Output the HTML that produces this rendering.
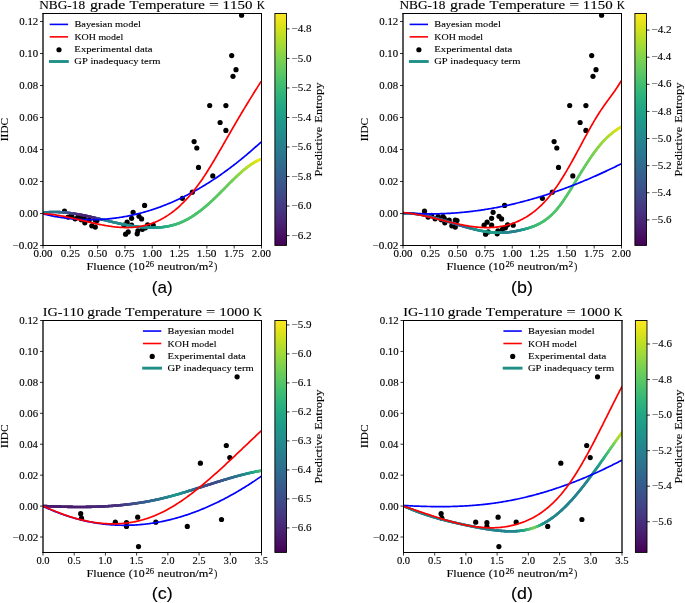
<!DOCTYPE html>
<html><head><meta charset="utf-8"><title>Figure</title>
<style>html,body{margin:0;padding:0;background:#fff;} svg{display:block;will-change:transform;} text{font-kerning:none;stroke:#000;stroke-width:0.12px;}</style>
</head><body>
<svg width="685" height="603" viewBox="0 0 685 603">
<rect width="685" height="603" fill="#fff"/>
<defs>
<clipPath id="clipa"><rect x="43.0" y="13.5" width="218.50" height="232.00"/></clipPath>
<clipPath id="clipb"><rect x="403.0" y="13.5" width="218.50" height="232.00"/></clipPath>
<clipPath id="clipc"><rect x="43.0" y="320.5" width="218.50" height="232.00"/></clipPath>
<clipPath id="clipd"><rect x="403.5" y="320.5" width="218.50" height="232.00"/></clipPath>
<linearGradient id="vir" x1="0" y1="0" x2="0" y2="1"><stop offset="0.00" stop-color="#fde725"/><stop offset="0.05" stop-color="#dfe318"/><stop offset="0.10" stop-color="#bddf26"/><stop offset="0.15" stop-color="#9bd93c"/><stop offset="0.20" stop-color="#7ad151"/><stop offset="0.25" stop-color="#5ec962"/><stop offset="0.30" stop-color="#44bf70"/><stop offset="0.35" stop-color="#2fb47c"/><stop offset="0.40" stop-color="#22a884"/><stop offset="0.45" stop-color="#1e9c89"/><stop offset="0.50" stop-color="#21918c"/><stop offset="0.55" stop-color="#25848e"/><stop offset="0.60" stop-color="#2a788e"/><stop offset="0.65" stop-color="#2f6c8e"/><stop offset="0.70" stop-color="#355f8d"/><stop offset="0.75" stop-color="#3b528b"/><stop offset="0.80" stop-color="#414487"/><stop offset="0.85" stop-color="#463480"/><stop offset="0.90" stop-color="#482475"/><stop offset="0.95" stop-color="#471365"/><stop offset="1.00" stop-color="#440154"/></linearGradient>
</defs>
<g clip-path="url(#clipa)" fill="#000">
<circle cx="64.5" cy="211.2" r="2.6"/>
<circle cx="68.1" cy="217.1" r="2.6"/>
<circle cx="71.6" cy="215.3" r="2.6"/>
<circle cx="75.1" cy="218.8" r="2.6"/>
<circle cx="78.2" cy="216.6" r="2.6"/>
<circle cx="81.3" cy="219.7" r="2.6"/>
<circle cx="83.0" cy="216.6" r="2.6"/>
<circle cx="84.3" cy="218.4" r="2.6"/>
<circle cx="84.8" cy="222.8" r="2.6"/>
<circle cx="89.2" cy="220.1" r="2.6"/>
<circle cx="91.8" cy="225.8" r="2.6"/>
<circle cx="95.3" cy="227.1" r="2.6"/>
<circle cx="95.3" cy="220.1" r="2.6"/>
<circle cx="97.0" cy="220.6" r="2.6"/>
<circle cx="144.6" cy="205.4" r="2.6"/>
<circle cx="133.1" cy="212.3" r="2.6"/>
<circle cx="131.6" cy="218.3" r="2.6"/>
<circle cx="139.0" cy="216.3" r="2.6"/>
<circle cx="141.6" cy="218.9" r="2.6"/>
<circle cx="127.1" cy="222.2" r="2.6"/>
<circle cx="124.1" cy="225.2" r="2.6"/>
<circle cx="131.6" cy="225.2" r="2.6"/>
<circle cx="125.6" cy="234.2" r="2.6"/>
<circle cx="128.2" cy="231.9" r="2.6"/>
<circle cx="137.2" cy="233.8" r="2.6"/>
<circle cx="137.9" cy="230.8" r="2.6"/>
<circle cx="142.4" cy="229.3" r="2.6"/>
<circle cx="145.4" cy="227.8" r="2.6"/>
<circle cx="147.6" cy="224.9" r="2.6"/>
<circle cx="153.2" cy="225.2" r="2.6"/>
<circle cx="182.4" cy="198.3" r="2.6"/>
<circle cx="192.3" cy="192.2" r="2.6"/>
<circle cx="212.8" cy="175.9" r="2.6"/>
<circle cx="198.5" cy="167.4" r="2.6"/>
<circle cx="196.8" cy="148.0" r="2.6"/>
<circle cx="194.1" cy="141.6" r="2.6"/>
<circle cx="225.9" cy="130.4" r="2.6"/>
<circle cx="220.1" cy="122.5" r="2.6"/>
<circle cx="209.7" cy="105.5" r="2.6"/>
<circle cx="225.9" cy="105.6" r="2.6"/>
<circle cx="233.0" cy="76.3" r="2.6"/>
<circle cx="236.0" cy="69.7" r="2.6"/>
<circle cx="231.7" cy="55.6" r="2.6"/>
<circle cx="241.6" cy="15.2" r="2.6"/>
</g>
<g clip-path="url(#clipa)" fill="none" stroke-width="2.6" stroke-linecap="butt">
<line x1="43.20" y1="212.69" x2="43.93" y2="212.60" stroke="#2a788e" stroke-linecap="round"/>
<line x1="43.93" y1="212.60" x2="44.66" y2="212.52" stroke="#2a788e" stroke-linecap="round"/>
<line x1="44.66" y1="212.52" x2="45.39" y2="212.44" stroke="#2a788e" stroke-linecap="round"/>
<line x1="45.39" y1="212.44" x2="46.12" y2="212.37" stroke="#2a788e" stroke-linecap="round"/>
<line x1="46.12" y1="212.37" x2="46.85" y2="212.31" stroke="#2a788e" stroke-linecap="round"/>
<line x1="46.85" y1="212.31" x2="47.58" y2="212.26" stroke="#2a788e" stroke-linecap="round"/>
<line x1="47.58" y1="212.26" x2="48.31" y2="212.20" stroke="#2a778e" stroke-linecap="round"/>
<line x1="48.31" y1="212.20" x2="49.04" y2="212.16" stroke="#2a778e" stroke-linecap="round"/>
<line x1="49.04" y1="212.16" x2="49.76" y2="212.12" stroke="#2a778e" stroke-linecap="round"/>
<line x1="49.76" y1="212.12" x2="50.49" y2="212.09" stroke="#2a778e" stroke-linecap="round"/>
<line x1="50.49" y1="212.09" x2="51.22" y2="212.06" stroke="#2a778e" stroke-linecap="round"/>
<line x1="51.22" y1="212.06" x2="51.95" y2="212.04" stroke="#2a778e" stroke-linecap="round"/>
<line x1="51.95" y1="212.04" x2="52.68" y2="212.02" stroke="#2a768e" stroke-linecap="round"/>
<line x1="52.68" y1="212.02" x2="53.41" y2="212.01" stroke="#2a768e" stroke-linecap="round"/>
<line x1="53.41" y1="212.01" x2="54.14" y2="212.00" stroke="#2a768e" stroke-linecap="round"/>
<line x1="54.14" y1="212.00" x2="54.87" y2="212.00" stroke="#2b758e" stroke-linecap="round"/>
<line x1="54.87" y1="212.00" x2="55.60" y2="212.01" stroke="#2b758e" stroke-linecap="round"/>
<line x1="55.60" y1="212.01" x2="56.33" y2="212.02" stroke="#2b758e" stroke-linecap="round"/>
<line x1="56.33" y1="212.02" x2="57.06" y2="212.03" stroke="#2b748e" stroke-linecap="round"/>
<line x1="57.06" y1="212.03" x2="57.79" y2="212.05" stroke="#2b748e" stroke-linecap="round"/>
<line x1="57.79" y1="212.05" x2="58.52" y2="212.08" stroke="#2b748e" stroke-linecap="round"/>
<line x1="58.52" y1="212.08" x2="59.25" y2="212.11" stroke="#2c738e" stroke-linecap="round"/>
<line x1="59.25" y1="212.11" x2="59.98" y2="212.14" stroke="#2c738e" stroke-linecap="round"/>
<line x1="59.98" y1="212.14" x2="60.71" y2="212.18" stroke="#2c718e" stroke-linecap="round"/>
<line x1="60.71" y1="212.18" x2="61.44" y2="212.22" stroke="#2d708e" stroke-linecap="round"/>
<line x1="61.44" y1="212.22" x2="62.17" y2="212.27" stroke="#2e6d8e" stroke-linecap="round"/>
<line x1="62.17" y1="212.27" x2="62.89" y2="212.32" stroke="#306a8e" stroke-linecap="round"/>
<line x1="62.89" y1="212.32" x2="63.62" y2="212.38" stroke="#31668e" stroke-linecap="round"/>
<line x1="63.62" y1="212.38" x2="64.35" y2="212.44" stroke="#33638d" stroke-linecap="round"/>
<line x1="64.35" y1="212.44" x2="65.08" y2="212.51" stroke="#34608d" stroke-linecap="round"/>
<line x1="65.08" y1="212.51" x2="65.81" y2="212.58" stroke="#365d8d" stroke-linecap="round"/>
<line x1="65.81" y1="212.58" x2="66.54" y2="212.65" stroke="#375b8d" stroke-linecap="round"/>
<line x1="66.54" y1="212.65" x2="67.27" y2="212.73" stroke="#38588c" stroke-linecap="round"/>
<line x1="67.27" y1="212.73" x2="68.00" y2="212.81" stroke="#39558c" stroke-linecap="round"/>
<line x1="68.00" y1="212.81" x2="68.73" y2="212.89" stroke="#3b528b" stroke-linecap="round"/>
<line x1="68.73" y1="212.89" x2="69.46" y2="212.98" stroke="#3c508b" stroke-linecap="round"/>
<line x1="69.46" y1="212.98" x2="70.19" y2="213.07" stroke="#3d4d8a" stroke-linecap="round"/>
<line x1="70.19" y1="213.07" x2="70.92" y2="213.17" stroke="#3e4a89" stroke-linecap="round"/>
<line x1="70.92" y1="213.17" x2="71.65" y2="213.27" stroke="#3f4788" stroke-linecap="round"/>
<line x1="71.65" y1="213.27" x2="72.38" y2="213.37" stroke="#404588" stroke-linecap="round"/>
<line x1="72.38" y1="213.37" x2="73.11" y2="213.48" stroke="#414287" stroke-linecap="round"/>
<line x1="73.11" y1="213.48" x2="73.84" y2="213.59" stroke="#424086" stroke-linecap="round"/>
<line x1="73.84" y1="213.59" x2="74.57" y2="213.70" stroke="#433d84" stroke-linecap="round"/>
<line x1="74.57" y1="213.70" x2="75.29" y2="213.82" stroke="#443a83" stroke-linecap="round"/>
<line x1="75.29" y1="213.82" x2="76.02" y2="213.93" stroke="#453882" stroke-linecap="round"/>
<line x1="76.02" y1="213.93" x2="76.75" y2="214.06" stroke="#453581" stroke-linecap="round"/>
<line x1="76.75" y1="214.06" x2="77.48" y2="214.18" stroke="#46337f" stroke-linecap="round"/>
<line x1="77.48" y1="214.18" x2="78.21" y2="214.31" stroke="#46307e" stroke-linecap="round"/>
<line x1="78.21" y1="214.31" x2="78.94" y2="214.44" stroke="#472f7d" stroke-linecap="round"/>
<line x1="78.94" y1="214.44" x2="79.67" y2="214.57" stroke="#472d7b" stroke-linecap="round"/>
<line x1="79.67" y1="214.57" x2="80.40" y2="214.70" stroke="#472c7a" stroke-linecap="round"/>
<line x1="80.40" y1="214.70" x2="81.13" y2="214.84" stroke="#472a7a" stroke-linecap="round"/>
<line x1="81.13" y1="214.84" x2="81.86" y2="214.98" stroke="#482878" stroke-linecap="round"/>
<line x1="81.86" y1="214.98" x2="82.59" y2="215.12" stroke="#482677" stroke-linecap="round"/>
<line x1="82.59" y1="215.12" x2="83.32" y2="215.27" stroke="#482576" stroke-linecap="round"/>
<line x1="83.32" y1="215.27" x2="84.05" y2="215.41" stroke="#482475" stroke-linecap="round"/>
<line x1="84.05" y1="215.41" x2="84.78" y2="215.56" stroke="#482374" stroke-linecap="round"/>
<line x1="84.78" y1="215.56" x2="85.51" y2="215.71" stroke="#482173" stroke-linecap="round"/>
<line x1="85.51" y1="215.71" x2="86.24" y2="215.87" stroke="#482173" stroke-linecap="round"/>
<line x1="86.24" y1="215.87" x2="86.97" y2="216.02" stroke="#482173" stroke-linecap="round"/>
<line x1="86.97" y1="216.02" x2="87.70" y2="216.18" stroke="#482173" stroke-linecap="round"/>
<line x1="87.70" y1="216.18" x2="88.42" y2="216.34" stroke="#482173" stroke-linecap="round"/>
<line x1="88.42" y1="216.34" x2="89.15" y2="216.50" stroke="#482173" stroke-linecap="round"/>
<line x1="89.15" y1="216.50" x2="89.88" y2="216.66" stroke="#482173" stroke-linecap="round"/>
<line x1="89.88" y1="216.66" x2="90.61" y2="216.82" stroke="#482374" stroke-linecap="round"/>
<line x1="90.61" y1="216.82" x2="91.34" y2="216.98" stroke="#482374" stroke-linecap="round"/>
<line x1="91.34" y1="216.98" x2="92.07" y2="217.15" stroke="#482475" stroke-linecap="round"/>
<line x1="92.07" y1="217.15" x2="92.80" y2="217.31" stroke="#482475" stroke-linecap="round"/>
<line x1="92.80" y1="217.31" x2="93.53" y2="217.48" stroke="#482576" stroke-linecap="round"/>
<line x1="93.53" y1="217.48" x2="94.26" y2="217.65" stroke="#482677" stroke-linecap="round"/>
<line x1="94.26" y1="217.65" x2="94.99" y2="217.82" stroke="#482878" stroke-linecap="round"/>
<line x1="94.99" y1="217.82" x2="95.72" y2="217.99" stroke="#472c7a" stroke-linecap="round"/>
<line x1="95.72" y1="217.99" x2="96.45" y2="218.16" stroke="#46307e" stroke-linecap="round"/>
<line x1="96.45" y1="218.16" x2="97.18" y2="218.33" stroke="#453781" stroke-linecap="round"/>
<line x1="97.18" y1="218.33" x2="97.91" y2="218.51" stroke="#433d84" stroke-linecap="round"/>
<line x1="97.91" y1="218.51" x2="98.64" y2="218.68" stroke="#414487" stroke-linecap="round"/>
<line x1="98.64" y1="218.68" x2="99.37" y2="218.85" stroke="#3e4a89" stroke-linecap="round"/>
<line x1="99.37" y1="218.85" x2="100.10" y2="219.03" stroke="#3b518b" stroke-linecap="round"/>
<line x1="100.10" y1="219.03" x2="100.83" y2="219.20" stroke="#38588c" stroke-linecap="round"/>
<line x1="100.83" y1="219.20" x2="101.55" y2="219.38" stroke="#355e8d" stroke-linecap="round"/>
<line x1="101.55" y1="219.38" x2="102.28" y2="219.55" stroke="#31668e" stroke-linecap="round"/>
<line x1="102.28" y1="219.55" x2="103.01" y2="219.73" stroke="#2e6d8e" stroke-linecap="round"/>
<line x1="103.01" y1="219.73" x2="103.74" y2="219.90" stroke="#2c728e" stroke-linecap="round"/>
<line x1="103.74" y1="219.90" x2="104.47" y2="220.08" stroke="#2a788e" stroke-linecap="round"/>
<line x1="104.47" y1="220.08" x2="105.20" y2="220.26" stroke="#287c8e" stroke-linecap="round"/>
<line x1="105.20" y1="220.26" x2="105.93" y2="220.43" stroke="#277e8e" stroke-linecap="round"/>
<line x1="105.93" y1="220.43" x2="106.66" y2="220.61" stroke="#277f8e" stroke-linecap="round"/>
<line x1="106.66" y1="220.61" x2="107.39" y2="220.78" stroke="#27808e" stroke-linecap="round"/>
<line x1="107.39" y1="220.78" x2="108.12" y2="220.95" stroke="#26828e" stroke-linecap="round"/>
<line x1="108.12" y1="220.95" x2="108.85" y2="221.13" stroke="#26828e" stroke-linecap="round"/>
<line x1="108.85" y1="221.13" x2="109.58" y2="221.30" stroke="#25838e" stroke-linecap="round"/>
<line x1="109.58" y1="221.30" x2="110.31" y2="221.47" stroke="#25848e" stroke-linecap="round"/>
<line x1="110.31" y1="221.47" x2="111.04" y2="221.64" stroke="#25858e" stroke-linecap="round"/>
<line x1="111.04" y1="221.64" x2="111.77" y2="221.82" stroke="#24868e" stroke-linecap="round"/>
<line x1="111.77" y1="221.82" x2="112.50" y2="221.99" stroke="#24878e" stroke-linecap="round"/>
<line x1="112.50" y1="221.99" x2="113.23" y2="222.15" stroke="#24878e" stroke-linecap="round"/>
<line x1="113.23" y1="222.15" x2="113.95" y2="222.32" stroke="#23888e" stroke-linecap="round"/>
<line x1="113.95" y1="222.32" x2="114.68" y2="222.49" stroke="#23888e" stroke-linecap="round"/>
<line x1="114.68" y1="222.49" x2="115.41" y2="222.65" stroke="#23898e" stroke-linecap="round"/>
<line x1="115.41" y1="222.65" x2="116.14" y2="222.82" stroke="#23898e" stroke-linecap="round"/>
<line x1="116.14" y1="222.82" x2="116.87" y2="222.98" stroke="#238a8d" stroke-linecap="round"/>
<line x1="116.87" y1="222.98" x2="117.60" y2="223.14" stroke="#238a8d" stroke-linecap="round"/>
<line x1="117.60" y1="223.14" x2="118.33" y2="223.30" stroke="#228b8d" stroke-linecap="round"/>
<line x1="118.33" y1="223.30" x2="119.06" y2="223.46" stroke="#228b8d" stroke-linecap="round"/>
<line x1="119.06" y1="223.46" x2="119.79" y2="223.62" stroke="#228b8d" stroke-linecap="round"/>
<line x1="119.79" y1="223.62" x2="120.52" y2="223.77" stroke="#228c8d" stroke-linecap="round"/>
<line x1="120.52" y1="223.77" x2="121.25" y2="223.93" stroke="#228c8d" stroke-linecap="round"/>
<line x1="121.25" y1="223.93" x2="121.98" y2="224.08" stroke="#228c8d" stroke-linecap="round"/>
<line x1="121.98" y1="224.08" x2="122.71" y2="224.23" stroke="#228c8d" stroke-linecap="round"/>
<line x1="122.71" y1="224.23" x2="123.44" y2="224.38" stroke="#228d8d" stroke-linecap="round"/>
<line x1="123.44" y1="224.38" x2="124.17" y2="224.52" stroke="#228d8d" stroke-linecap="round"/>
<line x1="124.17" y1="224.52" x2="124.90" y2="224.66" stroke="#228d8d" stroke-linecap="round"/>
<line x1="124.90" y1="224.66" x2="125.63" y2="224.81" stroke="#228d8d" stroke-linecap="round"/>
<line x1="125.63" y1="224.81" x2="126.36" y2="224.94" stroke="#228d8d" stroke-linecap="round"/>
<line x1="126.36" y1="224.94" x2="127.08" y2="225.08" stroke="#218e8d" stroke-linecap="round"/>
<line x1="127.08" y1="225.08" x2="127.81" y2="225.21" stroke="#218e8d" stroke-linecap="round"/>
<line x1="127.81" y1="225.21" x2="128.54" y2="225.34" stroke="#218e8d" stroke-linecap="round"/>
<line x1="128.54" y1="225.34" x2="129.27" y2="225.47" stroke="#218e8d" stroke-linecap="round"/>
<line x1="129.27" y1="225.47" x2="130.00" y2="225.60" stroke="#218e8d" stroke-linecap="round"/>
<line x1="130.00" y1="225.60" x2="130.73" y2="225.72" stroke="#218e8d" stroke-linecap="round"/>
<line x1="130.73" y1="225.72" x2="131.46" y2="225.84" stroke="#218e8d" stroke-linecap="round"/>
<line x1="131.46" y1="225.84" x2="132.19" y2="225.96" stroke="#218e8d" stroke-linecap="round"/>
<line x1="132.19" y1="225.96" x2="132.92" y2="226.07" stroke="#218f8d" stroke-linecap="round"/>
<line x1="132.92" y1="226.07" x2="133.65" y2="226.18" stroke="#218f8d" stroke-linecap="round"/>
<line x1="133.65" y1="226.18" x2="134.38" y2="226.29" stroke="#218f8d" stroke-linecap="round"/>
<line x1="134.38" y1="226.29" x2="135.11" y2="226.39" stroke="#218f8d" stroke-linecap="round"/>
<line x1="135.11" y1="226.39" x2="135.84" y2="226.49" stroke="#218f8d" stroke-linecap="round"/>
<line x1="135.84" y1="226.49" x2="136.57" y2="226.59" stroke="#218f8d" stroke-linecap="round"/>
<line x1="136.57" y1="226.59" x2="137.30" y2="226.68" stroke="#218f8d" stroke-linecap="round"/>
<line x1="137.30" y1="226.68" x2="138.03" y2="226.77" stroke="#218f8d" stroke-linecap="round"/>
<line x1="138.03" y1="226.77" x2="138.76" y2="226.86" stroke="#218f8d" stroke-linecap="round"/>
<line x1="138.76" y1="226.86" x2="139.48" y2="226.94" stroke="#218f8d" stroke-linecap="round"/>
<line x1="139.48" y1="226.94" x2="140.21" y2="227.02" stroke="#218f8d" stroke-linecap="round"/>
<line x1="140.21" y1="227.02" x2="140.94" y2="227.09" stroke="#21908d" stroke-linecap="round"/>
<line x1="140.94" y1="227.09" x2="141.67" y2="227.17" stroke="#21908d" stroke-linecap="round"/>
<line x1="141.67" y1="227.17" x2="142.40" y2="227.23" stroke="#21908d" stroke-linecap="round"/>
<line x1="142.40" y1="227.23" x2="143.13" y2="227.29" stroke="#21908d" stroke-linecap="round"/>
<line x1="143.13" y1="227.29" x2="143.86" y2="227.35" stroke="#21908d" stroke-linecap="round"/>
<line x1="143.86" y1="227.35" x2="144.59" y2="227.41" stroke="#21908d" stroke-linecap="round"/>
<line x1="144.59" y1="227.41" x2="145.32" y2="227.46" stroke="#21908d" stroke-linecap="round"/>
<line x1="145.32" y1="227.46" x2="146.05" y2="227.50" stroke="#21918c" stroke-linecap="round"/>
<line x1="146.05" y1="227.50" x2="146.78" y2="227.54" stroke="#21918c" stroke-linecap="round"/>
<line x1="146.78" y1="227.54" x2="147.51" y2="227.58" stroke="#21918c" stroke-linecap="round"/>
<line x1="147.51" y1="227.58" x2="148.24" y2="227.61" stroke="#21918c" stroke-linecap="round"/>
<line x1="148.24" y1="227.61" x2="148.97" y2="227.64" stroke="#20928c" stroke-linecap="round"/>
<line x1="148.97" y1="227.64" x2="149.70" y2="227.66" stroke="#20928c" stroke-linecap="round"/>
<line x1="149.70" y1="227.66" x2="150.43" y2="227.67" stroke="#20928c" stroke-linecap="round"/>
<line x1="150.43" y1="227.67" x2="151.16" y2="227.69" stroke="#20928c" stroke-linecap="round"/>
<line x1="151.16" y1="227.69" x2="151.89" y2="227.69" stroke="#20928c" stroke-linecap="round"/>
<line x1="151.89" y1="227.69" x2="152.61" y2="227.69" stroke="#20928c" stroke-linecap="round"/>
<line x1="152.61" y1="227.69" x2="153.34" y2="227.69" stroke="#20938c" stroke-linecap="round"/>
<line x1="153.34" y1="227.69" x2="154.07" y2="227.68" stroke="#20938c" stroke-linecap="round"/>
<line x1="154.07" y1="227.68" x2="154.80" y2="227.66" stroke="#1f958b" stroke-linecap="round"/>
<line x1="154.80" y1="227.66" x2="155.53" y2="227.64" stroke="#1f968b" stroke-linecap="round"/>
<line x1="155.53" y1="227.64" x2="156.26" y2="227.62" stroke="#1f978b" stroke-linecap="round"/>
<line x1="156.26" y1="227.62" x2="156.99" y2="227.58" stroke="#1f998a" stroke-linecap="round"/>
<line x1="156.99" y1="227.58" x2="157.72" y2="227.55" stroke="#1e9b8a" stroke-linecap="round"/>
<line x1="157.72" y1="227.55" x2="158.45" y2="227.50" stroke="#1e9d89" stroke-linecap="round"/>
<line x1="158.45" y1="227.50" x2="159.18" y2="227.45" stroke="#1f9f88" stroke-linecap="round"/>
<line x1="159.18" y1="227.45" x2="159.91" y2="227.39" stroke="#1fa188" stroke-linecap="round"/>
<line x1="159.91" y1="227.39" x2="160.64" y2="227.33" stroke="#1fa287" stroke-linecap="round"/>
<line x1="160.64" y1="227.33" x2="161.37" y2="227.26" stroke="#20a486" stroke-linecap="round"/>
<line x1="161.37" y1="227.26" x2="162.10" y2="227.18" stroke="#21a585" stroke-linecap="round"/>
<line x1="162.10" y1="227.18" x2="162.83" y2="227.10" stroke="#22a785" stroke-linecap="round"/>
<line x1="162.83" y1="227.10" x2="163.56" y2="227.00" stroke="#22a884" stroke-linecap="round"/>
<line x1="163.56" y1="227.00" x2="164.29" y2="226.91" stroke="#23a983" stroke-linecap="round"/>
<line x1="164.29" y1="226.91" x2="165.02" y2="226.80" stroke="#25ab82" stroke-linecap="round"/>
<line x1="165.02" y1="226.80" x2="165.74" y2="226.69" stroke="#25ac82" stroke-linecap="round"/>
<line x1="165.74" y1="226.69" x2="166.47" y2="226.56" stroke="#26ad81" stroke-linecap="round"/>
<line x1="166.47" y1="226.56" x2="167.20" y2="226.44" stroke="#27ad81" stroke-linecap="round"/>
<line x1="167.20" y1="226.44" x2="167.93" y2="226.30" stroke="#29af7f" stroke-linecap="round"/>
<line x1="167.93" y1="226.30" x2="168.66" y2="226.15" stroke="#2ab07f" stroke-linecap="round"/>
<line x1="168.66" y1="226.15" x2="169.39" y2="226.00" stroke="#2cb17e" stroke-linecap="round"/>
<line x1="169.39" y1="226.00" x2="170.12" y2="225.84" stroke="#2db27d" stroke-linecap="round"/>
<line x1="170.12" y1="225.84" x2="170.85" y2="225.67" stroke="#2eb37c" stroke-linecap="round"/>
<line x1="170.85" y1="225.67" x2="171.58" y2="225.49" stroke="#31b57b" stroke-linecap="round"/>
<line x1="171.58" y1="225.49" x2="172.31" y2="225.31" stroke="#32b67a" stroke-linecap="round"/>
<line x1="172.31" y1="225.31" x2="173.04" y2="225.11" stroke="#34b679" stroke-linecap="round"/>
<line x1="173.04" y1="225.11" x2="173.77" y2="224.91" stroke="#35b779" stroke-linecap="round"/>
<line x1="173.77" y1="224.91" x2="174.50" y2="224.69" stroke="#37b878" stroke-linecap="round"/>
<line x1="174.50" y1="224.69" x2="175.23" y2="224.47" stroke="#38b977" stroke-linecap="round"/>
<line x1="175.23" y1="224.47" x2="175.96" y2="224.24" stroke="#3aba76" stroke-linecap="round"/>
<line x1="175.96" y1="224.24" x2="176.69" y2="224.00" stroke="#3aba76" stroke-linecap="round"/>
<line x1="176.69" y1="224.00" x2="177.42" y2="223.75" stroke="#3bbb75" stroke-linecap="round"/>
<line x1="177.42" y1="223.75" x2="178.14" y2="223.49" stroke="#3dbc74" stroke-linecap="round"/>
<line x1="178.14" y1="223.49" x2="178.87" y2="223.22" stroke="#3dbc74" stroke-linecap="round"/>
<line x1="178.87" y1="223.22" x2="179.60" y2="222.94" stroke="#3fbc73" stroke-linecap="round"/>
<line x1="179.60" y1="222.94" x2="180.33" y2="222.65" stroke="#3fbc73" stroke-linecap="round"/>
<line x1="180.33" y1="222.65" x2="181.06" y2="222.35" stroke="#40bd72" stroke-linecap="round"/>
<line x1="181.06" y1="222.35" x2="181.79" y2="222.04" stroke="#40bd72" stroke-linecap="round"/>
<line x1="181.79" y1="222.04" x2="182.52" y2="221.72" stroke="#42be71" stroke-linecap="round"/>
<line x1="182.52" y1="221.72" x2="183.25" y2="221.39" stroke="#42be71" stroke-linecap="round"/>
<line x1="183.25" y1="221.39" x2="183.98" y2="221.05" stroke="#42be71" stroke-linecap="round"/>
<line x1="183.98" y1="221.05" x2="184.71" y2="220.70" stroke="#44bf70" stroke-linecap="round"/>
<line x1="184.71" y1="220.70" x2="185.44" y2="220.34" stroke="#44bf70" stroke-linecap="round"/>
<line x1="185.44" y1="220.34" x2="186.17" y2="219.96" stroke="#44bf70" stroke-linecap="round"/>
<line x1="186.17" y1="219.96" x2="186.90" y2="219.58" stroke="#46c06f" stroke-linecap="round"/>
<line x1="186.90" y1="219.58" x2="187.63" y2="219.18" stroke="#46c06f" stroke-linecap="round"/>
<line x1="187.63" y1="219.18" x2="188.36" y2="218.78" stroke="#46c06f" stroke-linecap="round"/>
<line x1="188.36" y1="218.78" x2="189.09" y2="218.36" stroke="#46c06f" stroke-linecap="round"/>
<line x1="189.09" y1="218.36" x2="189.82" y2="217.94" stroke="#48c16e" stroke-linecap="round"/>
<line x1="189.82" y1="217.94" x2="190.55" y2="217.50" stroke="#48c16e" stroke-linecap="round"/>
<line x1="190.55" y1="217.50" x2="191.27" y2="217.05" stroke="#48c16e" stroke-linecap="round"/>
<line x1="191.27" y1="217.05" x2="192.00" y2="216.60" stroke="#48c16e" stroke-linecap="round"/>
<line x1="192.00" y1="216.60" x2="192.73" y2="216.13" stroke="#4ac16d" stroke-linecap="round"/>
<line x1="192.73" y1="216.13" x2="193.46" y2="215.66" stroke="#4ac16d" stroke-linecap="round"/>
<line x1="193.46" y1="215.66" x2="194.19" y2="215.17" stroke="#4ac16d" stroke-linecap="round"/>
<line x1="194.19" y1="215.17" x2="194.92" y2="214.68" stroke="#4ac16d" stroke-linecap="round"/>
<line x1="194.92" y1="214.68" x2="195.65" y2="214.18" stroke="#4cc26c" stroke-linecap="round"/>
<line x1="195.65" y1="214.18" x2="196.38" y2="213.66" stroke="#4cc26c" stroke-linecap="round"/>
<line x1="196.38" y1="213.66" x2="197.11" y2="213.14" stroke="#4cc26c" stroke-linecap="round"/>
<line x1="197.11" y1="213.14" x2="197.84" y2="212.61" stroke="#4cc26c" stroke-linecap="round"/>
<line x1="197.84" y1="212.61" x2="198.57" y2="212.07" stroke="#4cc26c" stroke-linecap="round"/>
<line x1="198.57" y1="212.07" x2="199.30" y2="211.53" stroke="#4ec36b" stroke-linecap="round"/>
<line x1="199.30" y1="211.53" x2="200.03" y2="210.97" stroke="#4ec36b" stroke-linecap="round"/>
<line x1="200.03" y1="210.97" x2="200.76" y2="210.41" stroke="#4ec36b" stroke-linecap="round"/>
<line x1="200.76" y1="210.41" x2="201.49" y2="209.83" stroke="#4ec36b" stroke-linecap="round"/>
<line x1="201.49" y1="209.83" x2="202.22" y2="209.25" stroke="#50c46a" stroke-linecap="round"/>
<line x1="202.22" y1="209.25" x2="202.95" y2="208.66" stroke="#50c46a" stroke-linecap="round"/>
<line x1="202.95" y1="208.66" x2="203.67" y2="208.07" stroke="#50c46a" stroke-linecap="round"/>
<line x1="203.67" y1="208.07" x2="204.40" y2="207.46" stroke="#50c46a" stroke-linecap="round"/>
<line x1="204.40" y1="207.46" x2="205.13" y2="206.85" stroke="#52c569" stroke-linecap="round"/>
<line x1="205.13" y1="206.85" x2="205.86" y2="206.23" stroke="#52c569" stroke-linecap="round"/>
<line x1="205.86" y1="206.23" x2="206.59" y2="205.61" stroke="#52c569" stroke-linecap="round"/>
<line x1="206.59" y1="205.61" x2="207.32" y2="204.97" stroke="#52c569" stroke-linecap="round"/>
<line x1="207.32" y1="204.97" x2="208.05" y2="204.33" stroke="#54c568" stroke-linecap="round"/>
<line x1="208.05" y1="204.33" x2="208.78" y2="203.68" stroke="#54c568" stroke-linecap="round"/>
<line x1="208.78" y1="203.68" x2="209.51" y2="203.03" stroke="#54c568" stroke-linecap="round"/>
<line x1="209.51" y1="203.03" x2="210.24" y2="202.37" stroke="#56c667" stroke-linecap="round"/>
<line x1="210.24" y1="202.37" x2="210.97" y2="201.70" stroke="#56c667" stroke-linecap="round"/>
<line x1="210.97" y1="201.70" x2="211.70" y2="201.02" stroke="#56c667" stroke-linecap="round"/>
<line x1="211.70" y1="201.02" x2="212.43" y2="200.34" stroke="#56c667" stroke-linecap="round"/>
<line x1="212.43" y1="200.34" x2="213.16" y2="199.65" stroke="#58c765" stroke-linecap="round"/>
<line x1="213.16" y1="199.65" x2="213.89" y2="198.96" stroke="#58c765" stroke-linecap="round"/>
<line x1="213.89" y1="198.96" x2="214.62" y2="198.26" stroke="#58c765" stroke-linecap="round"/>
<line x1="214.62" y1="198.26" x2="215.35" y2="197.56" stroke="#5ac864" stroke-linecap="round"/>
<line x1="215.35" y1="197.56" x2="216.08" y2="196.85" stroke="#5ac864" stroke-linecap="round"/>
<line x1="216.08" y1="196.85" x2="216.80" y2="196.13" stroke="#5ac864" stroke-linecap="round"/>
<line x1="216.80" y1="196.13" x2="217.53" y2="195.42" stroke="#5ac864" stroke-linecap="round"/>
<line x1="217.53" y1="195.42" x2="218.26" y2="194.69" stroke="#5cc863" stroke-linecap="round"/>
<line x1="218.26" y1="194.69" x2="218.99" y2="193.97" stroke="#5cc863" stroke-linecap="round"/>
<line x1="218.99" y1="193.97" x2="219.72" y2="193.24" stroke="#5cc863" stroke-linecap="round"/>
<line x1="219.72" y1="193.24" x2="220.45" y2="192.51" stroke="#5ec962" stroke-linecap="round"/>
<line x1="220.45" y1="192.51" x2="221.18" y2="191.77" stroke="#5ec962" stroke-linecap="round"/>
<line x1="221.18" y1="191.77" x2="221.91" y2="191.04" stroke="#5ec962" stroke-linecap="round"/>
<line x1="221.91" y1="191.04" x2="222.64" y2="190.30" stroke="#60ca60" stroke-linecap="round"/>
<line x1="222.64" y1="190.30" x2="223.37" y2="189.56" stroke="#60ca60" stroke-linecap="round"/>
<line x1="223.37" y1="189.56" x2="224.10" y2="188.82" stroke="#60ca60" stroke-linecap="round"/>
<line x1="224.10" y1="188.82" x2="224.83" y2="188.08" stroke="#63cb5f" stroke-linecap="round"/>
<line x1="224.83" y1="188.08" x2="225.56" y2="187.34" stroke="#63cb5f" stroke-linecap="round"/>
<line x1="225.56" y1="187.34" x2="226.29" y2="186.60" stroke="#65cb5e" stroke-linecap="round"/>
<line x1="226.29" y1="186.60" x2="227.02" y2="185.87" stroke="#65cb5e" stroke-linecap="round"/>
<line x1="227.02" y1="185.87" x2="227.75" y2="185.13" stroke="#67cc5c" stroke-linecap="round"/>
<line x1="227.75" y1="185.13" x2="228.48" y2="184.39" stroke="#67cc5c" stroke-linecap="round"/>
<line x1="228.48" y1="184.39" x2="229.21" y2="183.66" stroke="#69cd5b" stroke-linecap="round"/>
<line x1="229.21" y1="183.66" x2="229.93" y2="182.93" stroke="#69cd5b" stroke-linecap="round"/>
<line x1="229.93" y1="182.93" x2="230.66" y2="182.20" stroke="#6ccd5a" stroke-linecap="round"/>
<line x1="230.66" y1="182.20" x2="231.39" y2="181.47" stroke="#6ece58" stroke-linecap="round"/>
<line x1="231.39" y1="181.47" x2="232.12" y2="180.75" stroke="#70cf57" stroke-linecap="round"/>
<line x1="232.12" y1="180.75" x2="232.85" y2="180.03" stroke="#73d056" stroke-linecap="round"/>
<line x1="232.85" y1="180.03" x2="233.58" y2="179.32" stroke="#75d054" stroke-linecap="round"/>
<line x1="233.58" y1="179.32" x2="234.31" y2="178.61" stroke="#77d153" stroke-linecap="round"/>
<line x1="234.31" y1="178.61" x2="235.04" y2="177.90" stroke="#7ad151" stroke-linecap="round"/>
<line x1="235.04" y1="177.90" x2="235.77" y2="177.21" stroke="#7cd250" stroke-linecap="round"/>
<line x1="235.77" y1="177.21" x2="236.50" y2="176.51" stroke="#7fd34e" stroke-linecap="round"/>
<line x1="236.50" y1="176.51" x2="237.23" y2="175.82" stroke="#81d34d" stroke-linecap="round"/>
<line x1="237.23" y1="175.82" x2="237.96" y2="175.14" stroke="#86d549" stroke-linecap="round"/>
<line x1="237.96" y1="175.14" x2="238.69" y2="174.47" stroke="#89d548" stroke-linecap="round"/>
<line x1="238.69" y1="174.47" x2="239.42" y2="173.80" stroke="#8bd646" stroke-linecap="round"/>
<line x1="239.42" y1="173.80" x2="240.15" y2="173.14" stroke="#90d743" stroke-linecap="round"/>
<line x1="240.15" y1="173.14" x2="240.88" y2="172.49" stroke="#93d741" stroke-linecap="round"/>
<line x1="240.88" y1="172.49" x2="241.61" y2="171.85" stroke="#95d840" stroke-linecap="round"/>
<line x1="241.61" y1="171.85" x2="242.33" y2="171.22" stroke="#9bd93c" stroke-linecap="round"/>
<line x1="242.33" y1="171.22" x2="243.06" y2="170.59" stroke="#9dd93b" stroke-linecap="round"/>
<line x1="243.06" y1="170.59" x2="243.79" y2="169.98" stroke="#a0da39" stroke-linecap="round"/>
<line x1="243.79" y1="169.98" x2="244.52" y2="169.37" stroke="#a5db36" stroke-linecap="round"/>
<line x1="244.52" y1="169.37" x2="245.25" y2="168.78" stroke="#a8db34" stroke-linecap="round"/>
<line x1="245.25" y1="168.78" x2="245.98" y2="168.20" stroke="#aadc32" stroke-linecap="round"/>
<line x1="245.98" y1="168.20" x2="246.71" y2="167.62" stroke="#addc30" stroke-linecap="round"/>
<line x1="246.71" y1="167.62" x2="247.44" y2="167.06" stroke="#b0dd2f" stroke-linecap="round"/>
<line x1="247.44" y1="167.06" x2="248.17" y2="166.51" stroke="#b5de2b" stroke-linecap="round"/>
<line x1="248.17" y1="166.51" x2="248.90" y2="165.98" stroke="#b8de29" stroke-linecap="round"/>
<line x1="248.90" y1="165.98" x2="249.63" y2="165.45" stroke="#bade28" stroke-linecap="round"/>
<line x1="249.63" y1="165.45" x2="250.36" y2="164.94" stroke="#bddf26" stroke-linecap="round"/>
<line x1="250.36" y1="164.94" x2="251.09" y2="164.44" stroke="#c2df23" stroke-linecap="round"/>
<line x1="251.09" y1="164.44" x2="251.82" y2="163.96" stroke="#c5e021" stroke-linecap="round"/>
<line x1="251.82" y1="163.96" x2="252.55" y2="163.49" stroke="#c8e020" stroke-linecap="round"/>
<line x1="252.55" y1="163.49" x2="253.28" y2="163.03" stroke="#cae11f" stroke-linecap="round"/>
<line x1="253.28" y1="163.03" x2="254.01" y2="162.59" stroke="#d0e11c" stroke-linecap="round"/>
<line x1="254.01" y1="162.59" x2="254.74" y2="162.17" stroke="#d2e21b" stroke-linecap="round"/>
<line x1="254.74" y1="162.17" x2="255.46" y2="161.76" stroke="#d5e21a" stroke-linecap="round"/>
<line x1="255.46" y1="161.76" x2="256.19" y2="161.37" stroke="#d8e219" stroke-linecap="round"/>
<line x1="256.19" y1="161.37" x2="256.92" y2="160.99" stroke="#dde318" stroke-linecap="round"/>
<line x1="256.92" y1="160.99" x2="257.65" y2="160.63" stroke="#dfe318" stroke-linecap="round"/>
<line x1="257.65" y1="160.63" x2="258.38" y2="160.29" stroke="#e2e418" stroke-linecap="round"/>
<line x1="258.38" y1="160.29" x2="259.11" y2="159.96" stroke="#e5e419" stroke-linecap="round"/>
<line x1="259.11" y1="159.96" x2="259.84" y2="159.66" stroke="#eae51a" stroke-linecap="round"/>
<line x1="259.84" y1="159.66" x2="260.57" y2="159.37" stroke="#ece51b" stroke-linecap="round"/>
<line x1="260.57" y1="159.37" x2="261.30" y2="159.10" stroke="#efe51c" stroke-linecap="round"/>
</g>
<polyline points="43.20,214.00 44.30,214.26 45.39,214.52 46.49,214.77 47.58,215.01 48.68,215.25 49.78,215.48 50.87,215.70 51.97,215.92 53.06,216.13 54.16,216.34 55.26,216.54 56.35,216.73 57.45,216.92 58.54,217.10 59.64,217.28 60.74,217.45 61.83,217.61 62.93,217.77 64.02,217.92 65.12,218.07 66.22,218.21 67.31,218.34 68.41,218.47 69.50,218.59 70.60,218.70 71.70,218.81 72.79,218.91 73.89,219.01 74.98,219.10 76.08,219.18 77.18,219.26 78.27,219.33 79.37,219.40 80.46,219.45 81.56,219.51 82.66,219.55 83.75,219.60 84.85,219.63 85.94,219.66 87.04,219.68 88.14,219.70 89.23,219.70 90.33,219.71 91.42,219.71 92.52,219.70 93.62,219.68 94.71,219.66 95.81,219.63 96.90,219.60 98.00,219.56 99.09,219.51 100.19,219.46 101.29,219.40 102.38,219.33 103.48,219.26 104.57,219.18 105.67,219.10 106.77,219.01 107.86,218.91 108.96,218.81 110.05,218.70 111.15,218.59 112.25,218.46 113.34,218.34 114.44,218.20 115.53,218.06 116.63,217.91 117.73,217.76 118.82,217.60 119.92,217.44 121.01,217.26 122.11,217.09 123.21,216.90 124.30,216.71 125.40,216.51 126.49,216.31 127.59,216.10 128.69,215.88 129.78,215.66 130.88,215.43 131.97,215.19 133.07,214.95 134.17,214.70 135.26,214.45 136.36,214.19 137.45,213.92 138.55,213.65 139.65,213.37 140.74,213.08 141.84,212.79 142.93,212.49 144.03,212.18 145.13,211.87 146.22,211.55 147.32,211.23 148.41,210.90 149.51,210.56 150.61,210.21 151.70,209.86 152.80,209.51 153.89,209.14 154.99,208.77 156.09,208.40 157.18,208.02 158.28,207.63 159.37,207.23 160.47,206.83 161.57,206.42 162.66,206.01 163.76,205.58 164.85,205.16 165.95,204.72 167.05,204.28 168.14,203.83 169.24,203.38 170.33,202.92 171.43,202.45 172.53,201.98 173.62,201.50 174.72,201.01 175.81,200.52 176.91,200.02 178.01,199.52 179.10,199.00 180.20,198.49 181.29,197.96 182.39,197.43 183.49,196.89 184.58,196.35 185.68,195.79 186.77,195.24 187.87,194.67 188.97,194.10 190.06,193.52 191.16,192.94 192.25,192.35 193.35,191.75 194.45,191.15 195.54,190.54 196.64,189.92 197.73,189.30 198.83,188.67 199.93,188.03 201.02,187.39 202.12,186.74 203.21,186.08 204.31,185.42 205.41,184.75 206.50,184.07 207.60,183.39 208.69,182.70 209.79,182.00 210.88,181.30 211.98,180.59 213.08,179.88 214.17,179.15 215.27,178.42 216.36,177.69 217.46,176.95 218.56,176.20 219.65,175.44 220.75,174.68 221.84,173.91 222.94,173.13 224.04,172.35 225.13,171.56 226.23,170.77 227.32,169.96 228.42,169.15 229.52,168.34 230.61,167.52 231.71,166.69 232.80,165.85 233.90,165.01 235.00,164.16 236.09,163.30 237.19,162.44 238.28,161.57 239.38,160.69 240.48,159.81 241.57,158.92 242.67,158.03 243.76,157.12 244.86,156.21 245.96,155.30 247.05,154.37 248.15,153.44 249.24,152.51 250.34,151.56 251.44,150.61 252.53,149.66 253.63,148.69 254.72,147.72 255.82,146.75 256.92,145.76 258.01,144.77 259.11,143.77 260.20,142.77 261.30,141.76" fill="none" stroke="#0000ff" stroke-width="1.7" stroke-linejoin="round" clip-path="url(#clipa)"/>
<polyline points="43.20,213.69 44.30,213.75 45.39,213.81 46.49,213.89 47.58,213.99 48.68,214.09 49.78,214.20 50.87,214.32 51.97,214.45 53.06,214.59 54.16,214.74 55.26,214.89 56.35,215.06 57.45,215.23 58.54,215.41 59.64,215.60 60.74,215.79 61.83,215.99 62.93,216.20 64.02,216.41 65.12,216.63 66.22,216.85 67.31,217.08 68.41,217.31 69.50,217.55 70.60,217.79 71.70,218.04 72.79,218.28 73.89,218.53 74.98,218.79 76.08,219.04 77.18,219.30 78.27,219.56 79.37,219.82 80.46,220.08 81.56,220.34 82.66,220.60 83.75,220.86 84.85,221.12 85.94,221.38 87.04,221.64 88.14,221.90 89.23,222.16 90.33,222.41 91.42,222.66 92.52,222.91 93.62,223.16 94.71,223.40 95.81,223.64 96.90,223.88 98.00,224.11 99.09,224.34 100.19,224.56 101.29,224.78 102.38,224.99 103.48,225.19 104.57,225.39 105.67,225.58 106.77,225.77 107.86,225.95 108.96,226.12 110.05,226.28 111.15,226.44 112.25,226.58 113.34,226.72 114.44,226.85 115.53,226.97 116.63,227.08 117.73,227.18 118.82,227.26 119.92,227.34 121.01,227.41 122.11,227.46 123.21,227.51 124.30,227.54 125.40,227.56 126.49,227.56 127.59,227.56 128.69,227.54 129.78,227.50 130.88,227.46 131.97,227.39 133.07,227.32 134.17,227.23 135.26,227.12 136.36,226.99 137.45,226.86 138.55,226.70 139.65,226.53 140.74,226.34 141.84,226.13 142.93,225.91 144.03,225.67 145.13,225.41 146.22,225.13 147.32,224.83 148.41,224.52 149.51,224.18 150.61,223.82 151.70,223.45 152.80,223.05 153.89,222.63 154.99,222.19 156.09,221.73 157.18,221.25 158.28,220.75 159.37,220.22 160.47,219.67 161.57,219.10 162.66,218.50 163.76,217.88 164.85,217.24 165.95,216.57 167.05,215.87 168.14,215.16 169.24,214.41 170.33,213.64 171.43,212.85 172.53,212.03 173.62,211.18 174.72,210.30 175.81,209.40 176.91,208.48 178.01,207.52 179.10,206.54 180.20,205.53 181.29,204.50 182.39,203.44 183.49,202.34 184.58,201.23 185.68,200.08 186.77,198.90 187.87,197.70 188.97,196.47 190.06,195.21 191.16,193.92 192.25,192.60 193.35,191.25 194.45,189.87 195.54,188.46 196.64,187.03 197.73,185.56 198.83,184.06 199.93,182.53 201.02,180.97 202.12,179.39 203.21,177.77 204.31,176.12 205.41,174.44 206.50,172.73 207.60,171.01 208.69,169.26 209.79,167.48 210.88,165.69 211.98,163.88 213.08,162.05 214.17,160.21 215.27,158.36 216.36,156.49 217.46,154.62 218.56,152.73 219.65,150.84 220.75,148.95 221.84,147.05 222.94,145.14 224.04,143.24 225.13,141.33 226.23,139.42 227.32,137.51 228.42,135.60 229.52,133.70 230.61,131.79 231.71,129.89 232.80,127.99 233.90,126.10 235.00,124.21 236.09,122.33 237.19,120.45 238.28,118.59 239.38,116.73 240.48,114.88 241.57,113.04 242.67,111.21 243.76,109.38 244.86,107.57 245.96,105.76 247.05,103.97 248.15,102.18 249.24,100.39 250.34,98.61 251.44,96.84 252.53,95.08 253.63,93.32 254.72,91.57 255.82,89.82 256.92,88.08 258.01,86.34 259.11,84.61 260.20,82.88 261.30,81.15" fill="none" stroke="#ff0000" stroke-width="1.7" stroke-linejoin="round" clip-path="url(#clipa)"/>
<g clip-path="url(#clipb)" fill="#000">
<circle cx="424.5" cy="211.2" r="2.6"/>
<circle cx="428.1" cy="217.1" r="2.6"/>
<circle cx="431.6" cy="215.3" r="2.6"/>
<circle cx="435.1" cy="218.8" r="2.6"/>
<circle cx="438.2" cy="216.6" r="2.6"/>
<circle cx="441.3" cy="219.7" r="2.6"/>
<circle cx="443.0" cy="216.6" r="2.6"/>
<circle cx="444.3" cy="218.4" r="2.6"/>
<circle cx="444.8" cy="222.8" r="2.6"/>
<circle cx="449.2" cy="220.1" r="2.6"/>
<circle cx="451.8" cy="225.8" r="2.6"/>
<circle cx="455.3" cy="227.1" r="2.6"/>
<circle cx="455.3" cy="220.1" r="2.6"/>
<circle cx="457.0" cy="220.6" r="2.6"/>
<circle cx="504.6" cy="205.4" r="2.6"/>
<circle cx="493.1" cy="212.3" r="2.6"/>
<circle cx="491.6" cy="218.3" r="2.6"/>
<circle cx="499.0" cy="216.3" r="2.6"/>
<circle cx="501.6" cy="218.9" r="2.6"/>
<circle cx="487.1" cy="222.2" r="2.6"/>
<circle cx="484.1" cy="225.2" r="2.6"/>
<circle cx="491.6" cy="225.2" r="2.6"/>
<circle cx="485.6" cy="234.2" r="2.6"/>
<circle cx="488.2" cy="231.9" r="2.6"/>
<circle cx="497.2" cy="233.8" r="2.6"/>
<circle cx="497.9" cy="230.8" r="2.6"/>
<circle cx="502.4" cy="229.3" r="2.6"/>
<circle cx="505.4" cy="227.8" r="2.6"/>
<circle cx="507.6" cy="224.9" r="2.6"/>
<circle cx="513.2" cy="225.2" r="2.6"/>
<circle cx="542.4" cy="198.3" r="2.6"/>
<circle cx="552.3" cy="192.2" r="2.6"/>
<circle cx="572.8" cy="175.9" r="2.6"/>
<circle cx="558.5" cy="167.4" r="2.6"/>
<circle cx="556.8" cy="148.0" r="2.6"/>
<circle cx="554.1" cy="141.6" r="2.6"/>
<circle cx="585.9" cy="130.4" r="2.6"/>
<circle cx="580.1" cy="122.5" r="2.6"/>
<circle cx="569.7" cy="105.5" r="2.6"/>
<circle cx="585.9" cy="105.6" r="2.6"/>
<circle cx="593.0" cy="76.3" r="2.6"/>
<circle cx="596.0" cy="69.7" r="2.6"/>
<circle cx="591.7" cy="55.6" r="2.6"/>
<circle cx="601.6" cy="15.2" r="2.6"/>
</g>
<g clip-path="url(#clipb)" fill="none" stroke-width="2.6" stroke-linecap="butt">
<line x1="403.20" y1="213.24" x2="403.93" y2="213.23" stroke="#2f6c8e" stroke-linecap="round"/>
<line x1="403.93" y1="213.23" x2="404.66" y2="213.23" stroke="#2f6c8e" stroke-linecap="round"/>
<line x1="404.66" y1="213.23" x2="405.39" y2="213.23" stroke="#2f6c8e" stroke-linecap="round"/>
<line x1="405.39" y1="213.23" x2="406.12" y2="213.24" stroke="#2f6c8e" stroke-linecap="round"/>
<line x1="406.12" y1="213.24" x2="406.85" y2="213.26" stroke="#2f6c8e" stroke-linecap="round"/>
<line x1="406.85" y1="213.26" x2="407.58" y2="213.28" stroke="#2f6c8e" stroke-linecap="round"/>
<line x1="407.58" y1="213.28" x2="408.31" y2="213.31" stroke="#2f6c8e" stroke-linecap="round"/>
<line x1="408.31" y1="213.31" x2="409.04" y2="213.35" stroke="#2f6c8e" stroke-linecap="round"/>
<line x1="409.04" y1="213.35" x2="409.77" y2="213.39" stroke="#2f6c8e" stroke-linecap="round"/>
<line x1="409.77" y1="213.39" x2="410.50" y2="213.44" stroke="#2f6c8e" stroke-linecap="round"/>
<line x1="410.50" y1="213.44" x2="411.23" y2="213.50" stroke="#2f6c8e" stroke-linecap="round"/>
<line x1="411.23" y1="213.50" x2="411.96" y2="213.56" stroke="#2f6b8e" stroke-linecap="round"/>
<line x1="411.96" y1="213.56" x2="412.69" y2="213.63" stroke="#2f6b8e" stroke-linecap="round"/>
<line x1="412.69" y1="213.63" x2="413.42" y2="213.70" stroke="#2f6b8e" stroke-linecap="round"/>
<line x1="413.42" y1="213.70" x2="414.15" y2="213.78" stroke="#2f6b8e" stroke-linecap="round"/>
<line x1="414.15" y1="213.78" x2="414.88" y2="213.86" stroke="#2f6b8e" stroke-linecap="round"/>
<line x1="414.88" y1="213.86" x2="415.61" y2="213.95" stroke="#2f6b8e" stroke-linecap="round"/>
<line x1="415.61" y1="213.95" x2="416.34" y2="214.04" stroke="#2f6b8e" stroke-linecap="round"/>
<line x1="416.34" y1="214.04" x2="417.07" y2="214.14" stroke="#2f6b8e" stroke-linecap="round"/>
<line x1="417.07" y1="214.14" x2="417.80" y2="214.25" stroke="#306a8e" stroke-linecap="round"/>
<line x1="417.80" y1="214.25" x2="418.53" y2="214.36" stroke="#306a8e" stroke-linecap="round"/>
<line x1="418.53" y1="214.36" x2="419.26" y2="214.47" stroke="#306a8e" stroke-linecap="round"/>
<line x1="419.26" y1="214.47" x2="419.99" y2="214.59" stroke="#306a8e" stroke-linecap="round"/>
<line x1="419.99" y1="214.59" x2="420.72" y2="214.71" stroke="#306a8e" stroke-linecap="round"/>
<line x1="420.72" y1="214.71" x2="421.45" y2="214.84" stroke="#306a8e" stroke-linecap="round"/>
<line x1="421.45" y1="214.84" x2="422.18" y2="214.97" stroke="#30698e" stroke-linecap="round"/>
<line x1="422.18" y1="214.97" x2="422.91" y2="215.11" stroke="#30698e" stroke-linecap="round"/>
<line x1="422.91" y1="215.11" x2="423.64" y2="215.25" stroke="#30698e" stroke-linecap="round"/>
<line x1="423.64" y1="215.25" x2="424.37" y2="215.40" stroke="#30698e" stroke-linecap="round"/>
<line x1="424.37" y1="215.40" x2="425.10" y2="215.55" stroke="#31688e" stroke-linecap="round"/>
<line x1="425.10" y1="215.55" x2="425.83" y2="215.70" stroke="#31688e" stroke-linecap="round"/>
<line x1="425.83" y1="215.70" x2="426.56" y2="215.86" stroke="#31688e" stroke-linecap="round"/>
<line x1="426.56" y1="215.86" x2="427.29" y2="216.02" stroke="#31688e" stroke-linecap="round"/>
<line x1="427.29" y1="216.02" x2="428.02" y2="216.18" stroke="#31678e" stroke-linecap="round"/>
<line x1="428.02" y1="216.18" x2="428.75" y2="216.35" stroke="#31678e" stroke-linecap="round"/>
<line x1="428.75" y1="216.35" x2="429.48" y2="216.52" stroke="#31678e" stroke-linecap="round"/>
<line x1="429.48" y1="216.52" x2="430.21" y2="216.69" stroke="#31678e" stroke-linecap="round"/>
<line x1="430.21" y1="216.69" x2="430.94" y2="216.87" stroke="#31668e" stroke-linecap="round"/>
<line x1="430.94" y1="216.87" x2="431.67" y2="217.05" stroke="#31668e" stroke-linecap="round"/>
<line x1="431.67" y1="217.05" x2="432.40" y2="217.24" stroke="#31668e" stroke-linecap="round"/>
<line x1="432.40" y1="217.24" x2="433.13" y2="217.42" stroke="#31668e" stroke-linecap="round"/>
<line x1="433.13" y1="217.42" x2="433.86" y2="217.61" stroke="#32658e" stroke-linecap="round"/>
<line x1="433.86" y1="217.61" x2="434.59" y2="217.80" stroke="#32658e" stroke-linecap="round"/>
<line x1="434.59" y1="217.80" x2="435.32" y2="218.00" stroke="#32658e" stroke-linecap="round"/>
<line x1="435.32" y1="218.00" x2="436.05" y2="218.19" stroke="#32648e" stroke-linecap="round"/>
<line x1="436.05" y1="218.19" x2="436.78" y2="218.39" stroke="#32648e" stroke-linecap="round"/>
<line x1="436.78" y1="218.39" x2="437.51" y2="218.60" stroke="#32648e" stroke-linecap="round"/>
<line x1="437.51" y1="218.60" x2="438.24" y2="218.80" stroke="#33638d" stroke-linecap="round"/>
<line x1="438.24" y1="218.80" x2="438.97" y2="219.00" stroke="#33638d" stroke-linecap="round"/>
<line x1="438.97" y1="219.00" x2="439.71" y2="219.21" stroke="#33638d" stroke-linecap="round"/>
<line x1="439.71" y1="219.21" x2="440.44" y2="219.42" stroke="#33628d" stroke-linecap="round"/>
<line x1="440.44" y1="219.42" x2="441.17" y2="219.63" stroke="#33628d" stroke-linecap="round"/>
<line x1="441.17" y1="219.63" x2="441.90" y2="219.85" stroke="#33628d" stroke-linecap="round"/>
<line x1="441.90" y1="219.85" x2="442.63" y2="220.06" stroke="#34618d" stroke-linecap="round"/>
<line x1="442.63" y1="220.06" x2="443.36" y2="220.28" stroke="#34618d" stroke-linecap="round"/>
<line x1="443.36" y1="220.28" x2="444.09" y2="220.49" stroke="#34618d" stroke-linecap="round"/>
<line x1="444.09" y1="220.49" x2="444.82" y2="220.71" stroke="#34608d" stroke-linecap="round"/>
<line x1="444.82" y1="220.71" x2="445.55" y2="220.93" stroke="#34608d" stroke-linecap="round"/>
<line x1="445.55" y1="220.93" x2="446.28" y2="221.15" stroke="#34608d" stroke-linecap="round"/>
<line x1="446.28" y1="221.15" x2="447.01" y2="221.37" stroke="#355f8d" stroke-linecap="round"/>
<line x1="447.01" y1="221.37" x2="447.74" y2="221.59" stroke="#355f8d" stroke-linecap="round"/>
<line x1="447.74" y1="221.59" x2="448.47" y2="221.82" stroke="#355e8d" stroke-linecap="round"/>
<line x1="448.47" y1="221.82" x2="449.20" y2="222.04" stroke="#355e8d" stroke-linecap="round"/>
<line x1="449.20" y1="222.04" x2="449.93" y2="222.26" stroke="#365d8d" stroke-linecap="round"/>
<line x1="449.93" y1="222.26" x2="450.66" y2="222.49" stroke="#365c8d" stroke-linecap="round"/>
<line x1="450.66" y1="222.49" x2="451.39" y2="222.71" stroke="#375b8d" stroke-linecap="round"/>
<line x1="451.39" y1="222.71" x2="452.12" y2="222.94" stroke="#375a8c" stroke-linecap="round"/>
<line x1="452.12" y1="222.94" x2="452.85" y2="223.16" stroke="#38598c" stroke-linecap="round"/>
<line x1="452.85" y1="223.16" x2="453.58" y2="223.38" stroke="#38598c" stroke-linecap="round"/>
<line x1="453.58" y1="223.38" x2="454.31" y2="223.61" stroke="#38588c" stroke-linecap="round"/>
<line x1="454.31" y1="223.61" x2="455.04" y2="223.83" stroke="#38588c" stroke-linecap="round"/>
<line x1="455.04" y1="223.83" x2="455.77" y2="224.06" stroke="#38588c" stroke-linecap="round"/>
<line x1="455.77" y1="224.06" x2="456.50" y2="224.28" stroke="#38588c" stroke-linecap="round"/>
<line x1="456.50" y1="224.28" x2="457.23" y2="224.50" stroke="#38588c" stroke-linecap="round"/>
<line x1="457.23" y1="224.50" x2="457.96" y2="224.72" stroke="#38598c" stroke-linecap="round"/>
<line x1="457.96" y1="224.72" x2="458.69" y2="224.95" stroke="#375a8c" stroke-linecap="round"/>
<line x1="458.69" y1="224.95" x2="459.42" y2="225.17" stroke="#375b8d" stroke-linecap="round"/>
<line x1="459.42" y1="225.17" x2="460.15" y2="225.39" stroke="#365d8d" stroke-linecap="round"/>
<line x1="460.15" y1="225.39" x2="460.88" y2="225.60" stroke="#355e8d" stroke-linecap="round"/>
<line x1="460.88" y1="225.60" x2="461.61" y2="225.82" stroke="#34608d" stroke-linecap="round"/>
<line x1="461.61" y1="225.82" x2="462.34" y2="226.04" stroke="#33628d" stroke-linecap="round"/>
<line x1="462.34" y1="226.04" x2="463.07" y2="226.25" stroke="#32648e" stroke-linecap="round"/>
<line x1="463.07" y1="226.25" x2="463.80" y2="226.46" stroke="#31668e" stroke-linecap="round"/>
<line x1="463.80" y1="226.46" x2="464.53" y2="226.67" stroke="#31688e" stroke-linecap="round"/>
<line x1="464.53" y1="226.67" x2="465.26" y2="226.88" stroke="#2f6b8e" stroke-linecap="round"/>
<line x1="465.26" y1="226.88" x2="465.99" y2="227.09" stroke="#2e6d8e" stroke-linecap="round"/>
<line x1="465.99" y1="227.09" x2="466.72" y2="227.30" stroke="#2e6f8e" stroke-linecap="round"/>
<line x1="466.72" y1="227.30" x2="467.45" y2="227.50" stroke="#2d718e" stroke-linecap="round"/>
<line x1="467.45" y1="227.50" x2="468.18" y2="227.70" stroke="#2c738e" stroke-linecap="round"/>
<line x1="468.18" y1="227.70" x2="468.91" y2="227.90" stroke="#2b758e" stroke-linecap="round"/>
<line x1="468.91" y1="227.90" x2="469.64" y2="228.10" stroke="#2a778e" stroke-linecap="round"/>
<line x1="469.64" y1="228.10" x2="470.37" y2="228.29" stroke="#29798e" stroke-linecap="round"/>
<line x1="470.37" y1="228.29" x2="471.10" y2="228.49" stroke="#297b8e" stroke-linecap="round"/>
<line x1="471.10" y1="228.49" x2="471.83" y2="228.67" stroke="#277e8e" stroke-linecap="round"/>
<line x1="471.83" y1="228.67" x2="472.56" y2="228.86" stroke="#27808e" stroke-linecap="round"/>
<line x1="472.56" y1="228.86" x2="473.29" y2="229.05" stroke="#26828e" stroke-linecap="round"/>
<line x1="473.29" y1="229.05" x2="474.02" y2="229.23" stroke="#25858e" stroke-linecap="round"/>
<line x1="474.02" y1="229.23" x2="474.75" y2="229.40" stroke="#23888e" stroke-linecap="round"/>
<line x1="474.75" y1="229.40" x2="475.48" y2="229.58" stroke="#228b8d" stroke-linecap="round"/>
<line x1="475.48" y1="229.58" x2="476.21" y2="229.75" stroke="#228d8d" stroke-linecap="round"/>
<line x1="476.21" y1="229.75" x2="476.94" y2="229.92" stroke="#218f8d" stroke-linecap="round"/>
<line x1="476.94" y1="229.92" x2="477.67" y2="230.08" stroke="#20928c" stroke-linecap="round"/>
<line x1="477.67" y1="230.08" x2="478.40" y2="230.24" stroke="#20928c" stroke-linecap="round"/>
<line x1="478.40" y1="230.24" x2="479.13" y2="230.40" stroke="#1f948c" stroke-linecap="round"/>
<line x1="479.13" y1="230.40" x2="479.86" y2="230.55" stroke="#1f958b" stroke-linecap="round"/>
<line x1="479.86" y1="230.55" x2="480.59" y2="230.70" stroke="#1f958b" stroke-linecap="round"/>
<line x1="480.59" y1="230.70" x2="481.32" y2="230.84" stroke="#1f968b" stroke-linecap="round"/>
<line x1="481.32" y1="230.84" x2="482.05" y2="230.98" stroke="#1f978b" stroke-linecap="round"/>
<line x1="482.05" y1="230.98" x2="482.78" y2="231.12" stroke="#1f978b" stroke-linecap="round"/>
<line x1="482.78" y1="231.12" x2="483.51" y2="231.25" stroke="#1f988b" stroke-linecap="round"/>
<line x1="483.51" y1="231.25" x2="484.24" y2="231.38" stroke="#1f988b" stroke-linecap="round"/>
<line x1="484.24" y1="231.38" x2="484.97" y2="231.50" stroke="#1f998a" stroke-linecap="round"/>
<line x1="484.97" y1="231.50" x2="485.70" y2="231.62" stroke="#1f998a" stroke-linecap="round"/>
<line x1="485.70" y1="231.62" x2="486.43" y2="231.73" stroke="#1f9a8a" stroke-linecap="round"/>
<line x1="486.43" y1="231.73" x2="487.16" y2="231.83" stroke="#1f9a8a" stroke-linecap="round"/>
<line x1="487.16" y1="231.83" x2="487.89" y2="231.94" stroke="#1f9a8a" stroke-linecap="round"/>
<line x1="487.89" y1="231.94" x2="488.62" y2="232.03" stroke="#1e9b8a" stroke-linecap="round"/>
<line x1="488.62" y1="232.03" x2="489.35" y2="232.12" stroke="#1e9b8a" stroke-linecap="round"/>
<line x1="489.35" y1="232.12" x2="490.08" y2="232.21" stroke="#1e9b8a" stroke-linecap="round"/>
<line x1="490.08" y1="232.21" x2="490.81" y2="232.29" stroke="#1e9c89" stroke-linecap="round"/>
<line x1="490.81" y1="232.29" x2="491.54" y2="232.36" stroke="#1e9c89" stroke-linecap="round"/>
<line x1="491.54" y1="232.36" x2="492.27" y2="232.43" stroke="#1e9c89" stroke-linecap="round"/>
<line x1="492.27" y1="232.43" x2="493.00" y2="232.50" stroke="#1e9c89" stroke-linecap="round"/>
<line x1="493.00" y1="232.50" x2="493.73" y2="232.55" stroke="#1e9c89" stroke-linecap="round"/>
<line x1="493.73" y1="232.55" x2="494.46" y2="232.60" stroke="#1e9c89" stroke-linecap="round"/>
<line x1="494.46" y1="232.60" x2="495.19" y2="232.65" stroke="#1e9c89" stroke-linecap="round"/>
<line x1="495.19" y1="232.65" x2="495.92" y2="232.68" stroke="#1e9c89" stroke-linecap="round"/>
<line x1="495.92" y1="232.68" x2="496.65" y2="232.71" stroke="#1e9b8a" stroke-linecap="round"/>
<line x1="496.65" y1="232.71" x2="497.38" y2="232.74" stroke="#1e9b8a" stroke-linecap="round"/>
<line x1="497.38" y1="232.74" x2="498.11" y2="232.76" stroke="#1f998a" stroke-linecap="round"/>
<line x1="498.11" y1="232.76" x2="498.84" y2="232.77" stroke="#1f988b" stroke-linecap="round"/>
<line x1="498.84" y1="232.77" x2="499.57" y2="232.77" stroke="#1f968b" stroke-linecap="round"/>
<line x1="499.57" y1="232.77" x2="500.30" y2="232.77" stroke="#1f958b" stroke-linecap="round"/>
<line x1="500.30" y1="232.77" x2="501.03" y2="232.76" stroke="#20938c" stroke-linecap="round"/>
<line x1="501.03" y1="232.76" x2="501.76" y2="232.74" stroke="#20928c" stroke-linecap="round"/>
<line x1="501.76" y1="232.74" x2="502.49" y2="232.71" stroke="#21908d" stroke-linecap="round"/>
<line x1="502.49" y1="232.71" x2="503.22" y2="232.68" stroke="#218e8d" stroke-linecap="round"/>
<line x1="503.22" y1="232.68" x2="503.95" y2="232.64" stroke="#228c8d" stroke-linecap="round"/>
<line x1="503.95" y1="232.64" x2="504.68" y2="232.60" stroke="#228b8d" stroke-linecap="round"/>
<line x1="504.68" y1="232.60" x2="505.41" y2="232.54" stroke="#23898e" stroke-linecap="round"/>
<line x1="505.41" y1="232.54" x2="506.14" y2="232.48" stroke="#23888e" stroke-linecap="round"/>
<line x1="506.14" y1="232.48" x2="506.87" y2="232.42" stroke="#24878e" stroke-linecap="round"/>
<line x1="506.87" y1="232.42" x2="507.60" y2="232.34" stroke="#24868e" stroke-linecap="round"/>
<line x1="507.60" y1="232.34" x2="508.33" y2="232.26" stroke="#25858e" stroke-linecap="round"/>
<line x1="508.33" y1="232.26" x2="509.06" y2="232.18" stroke="#25848e" stroke-linecap="round"/>
<line x1="509.06" y1="232.18" x2="509.79" y2="232.09" stroke="#25838e" stroke-linecap="round"/>
<line x1="509.79" y1="232.09" x2="510.52" y2="231.99" stroke="#26828e" stroke-linecap="round"/>
<line x1="510.52" y1="231.99" x2="511.25" y2="231.89" stroke="#26828e" stroke-linecap="round"/>
<line x1="511.25" y1="231.89" x2="511.98" y2="231.78" stroke="#26828e" stroke-linecap="round"/>
<line x1="511.98" y1="231.78" x2="512.72" y2="231.67" stroke="#26818e" stroke-linecap="round"/>
<line x1="512.72" y1="231.67" x2="513.45" y2="231.55" stroke="#27808e" stroke-linecap="round"/>
<line x1="513.45" y1="231.55" x2="514.18" y2="231.43" stroke="#27808e" stroke-linecap="round"/>
<line x1="514.18" y1="231.43" x2="514.91" y2="231.30" stroke="#27808e" stroke-linecap="round"/>
<line x1="514.91" y1="231.30" x2="515.64" y2="231.16" stroke="#27808e" stroke-linecap="round"/>
<line x1="515.64" y1="231.16" x2="516.37" y2="231.02" stroke="#27808e" stroke-linecap="round"/>
<line x1="516.37" y1="231.02" x2="517.10" y2="230.88" stroke="#26818e" stroke-linecap="round"/>
<line x1="517.10" y1="230.88" x2="517.83" y2="230.73" stroke="#26828e" stroke-linecap="round"/>
<line x1="517.83" y1="230.73" x2="518.56" y2="230.58" stroke="#25838e" stroke-linecap="round"/>
<line x1="518.56" y1="230.58" x2="519.29" y2="230.43" stroke="#24868e" stroke-linecap="round"/>
<line x1="519.29" y1="230.43" x2="520.02" y2="230.27" stroke="#23898e" stroke-linecap="round"/>
<line x1="520.02" y1="230.27" x2="520.75" y2="230.10" stroke="#228c8d" stroke-linecap="round"/>
<line x1="520.75" y1="230.10" x2="521.48" y2="229.93" stroke="#21908d" stroke-linecap="round"/>
<line x1="521.48" y1="229.93" x2="522.21" y2="229.76" stroke="#20928c" stroke-linecap="round"/>
<line x1="522.21" y1="229.76" x2="522.94" y2="229.59" stroke="#1f968b" stroke-linecap="round"/>
<line x1="522.94" y1="229.59" x2="523.67" y2="229.41" stroke="#1f998a" stroke-linecap="round"/>
<line x1="523.67" y1="229.41" x2="524.40" y2="229.22" stroke="#1e9c89" stroke-linecap="round"/>
<line x1="524.40" y1="229.22" x2="525.13" y2="229.03" stroke="#1f9f88" stroke-linecap="round"/>
<line x1="525.13" y1="229.03" x2="525.86" y2="228.84" stroke="#1fa187" stroke-linecap="round"/>
<line x1="525.86" y1="228.84" x2="526.59" y2="228.64" stroke="#20a386" stroke-linecap="round"/>
<line x1="526.59" y1="228.64" x2="527.32" y2="228.43" stroke="#21a685" stroke-linecap="round"/>
<line x1="527.32" y1="228.43" x2="528.05" y2="228.22" stroke="#22a884" stroke-linecap="round"/>
<line x1="528.05" y1="228.22" x2="528.78" y2="227.99" stroke="#25ab82" stroke-linecap="round"/>
<line x1="528.78" y1="227.99" x2="529.51" y2="227.76" stroke="#26ad81" stroke-linecap="round"/>
<line x1="529.51" y1="227.76" x2="530.24" y2="227.53" stroke="#29af7f" stroke-linecap="round"/>
<line x1="530.24" y1="227.53" x2="530.97" y2="227.28" stroke="#2cb17e" stroke-linecap="round"/>
<line x1="530.97" y1="227.28" x2="531.70" y2="227.03" stroke="#2eb37c" stroke-linecap="round"/>
<line x1="531.70" y1="227.03" x2="532.43" y2="226.76" stroke="#31b57b" stroke-linecap="round"/>
<line x1="532.43" y1="226.76" x2="533.16" y2="226.49" stroke="#34b679" stroke-linecap="round"/>
<line x1="533.16" y1="226.49" x2="533.89" y2="226.20" stroke="#37b878" stroke-linecap="round"/>
<line x1="533.89" y1="226.20" x2="534.62" y2="225.90" stroke="#38b977" stroke-linecap="round"/>
<line x1="534.62" y1="225.90" x2="535.35" y2="225.60" stroke="#3aba76" stroke-linecap="round"/>
<line x1="535.35" y1="225.60" x2="536.08" y2="225.28" stroke="#3bbb75" stroke-linecap="round"/>
<line x1="536.08" y1="225.28" x2="536.81" y2="224.94" stroke="#3dbc74" stroke-linecap="round"/>
<line x1="536.81" y1="224.94" x2="537.54" y2="224.60" stroke="#3fbc73" stroke-linecap="round"/>
<line x1="537.54" y1="224.60" x2="538.27" y2="224.24" stroke="#3fbc73" stroke-linecap="round"/>
<line x1="538.27" y1="224.24" x2="539.00" y2="223.87" stroke="#40bd72" stroke-linecap="round"/>
<line x1="539.00" y1="223.87" x2="539.73" y2="223.48" stroke="#42be71" stroke-linecap="round"/>
<line x1="539.73" y1="223.48" x2="540.46" y2="223.08" stroke="#42be71" stroke-linecap="round"/>
<line x1="540.46" y1="223.08" x2="541.19" y2="222.67" stroke="#44bf70" stroke-linecap="round"/>
<line x1="541.19" y1="222.67" x2="541.92" y2="222.24" stroke="#46c06f" stroke-linecap="round"/>
<line x1="541.92" y1="222.24" x2="542.65" y2="221.79" stroke="#46c06f" stroke-linecap="round"/>
<line x1="542.65" y1="221.79" x2="543.38" y2="221.33" stroke="#48c16e" stroke-linecap="round"/>
<line x1="543.38" y1="221.33" x2="544.11" y2="220.85" stroke="#48c16e" stroke-linecap="round"/>
<line x1="544.11" y1="220.85" x2="544.84" y2="220.35" stroke="#4ac16d" stroke-linecap="round"/>
<line x1="544.84" y1="220.35" x2="545.57" y2="219.83" stroke="#4ac16d" stroke-linecap="round"/>
<line x1="545.57" y1="219.83" x2="546.30" y2="219.30" stroke="#4cc26c" stroke-linecap="round"/>
<line x1="546.30" y1="219.30" x2="547.03" y2="218.75" stroke="#4cc26c" stroke-linecap="round"/>
<line x1="547.03" y1="218.75" x2="547.76" y2="218.18" stroke="#4cc26c" stroke-linecap="round"/>
<line x1="547.76" y1="218.18" x2="548.49" y2="217.59" stroke="#4ec36b" stroke-linecap="round"/>
<line x1="548.49" y1="217.59" x2="549.22" y2="216.98" stroke="#4ec36b" stroke-linecap="round"/>
<line x1="549.22" y1="216.98" x2="549.95" y2="216.35" stroke="#4ec36b" stroke-linecap="round"/>
<line x1="549.95" y1="216.35" x2="550.68" y2="215.69" stroke="#50c46a" stroke-linecap="round"/>
<line x1="550.68" y1="215.69" x2="551.41" y2="215.02" stroke="#50c46a" stroke-linecap="round"/>
<line x1="551.41" y1="215.02" x2="552.14" y2="214.32" stroke="#50c46a" stroke-linecap="round"/>
<line x1="552.14" y1="214.32" x2="552.87" y2="213.61" stroke="#50c46a" stroke-linecap="round"/>
<line x1="552.87" y1="213.61" x2="553.60" y2="212.87" stroke="#52c569" stroke-linecap="round"/>
<line x1="553.60" y1="212.87" x2="554.33" y2="212.10" stroke="#52c569" stroke-linecap="round"/>
<line x1="554.33" y1="212.10" x2="555.06" y2="211.32" stroke="#52c569" stroke-linecap="round"/>
<line x1="555.06" y1="211.32" x2="555.79" y2="210.51" stroke="#52c569" stroke-linecap="round"/>
<line x1="555.79" y1="210.51" x2="556.52" y2="209.67" stroke="#52c569" stroke-linecap="round"/>
<line x1="556.52" y1="209.67" x2="557.25" y2="208.81" stroke="#54c568" stroke-linecap="round"/>
<line x1="557.25" y1="208.81" x2="557.98" y2="207.92" stroke="#54c568" stroke-linecap="round"/>
<line x1="557.98" y1="207.92" x2="558.71" y2="207.01" stroke="#54c568" stroke-linecap="round"/>
<line x1="558.71" y1="207.01" x2="559.44" y2="206.08" stroke="#54c568" stroke-linecap="round"/>
<line x1="559.44" y1="206.08" x2="560.17" y2="205.12" stroke="#54c568" stroke-linecap="round"/>
<line x1="560.17" y1="205.12" x2="560.90" y2="204.14" stroke="#54c568" stroke-linecap="round"/>
<line x1="560.90" y1="204.14" x2="561.63" y2="203.15" stroke="#54c568" stroke-linecap="round"/>
<line x1="561.63" y1="203.15" x2="562.36" y2="202.13" stroke="#54c568" stroke-linecap="round"/>
<line x1="562.36" y1="202.13" x2="563.09" y2="201.09" stroke="#54c568" stroke-linecap="round"/>
<line x1="563.09" y1="201.09" x2="563.82" y2="200.04" stroke="#54c568" stroke-linecap="round"/>
<line x1="563.82" y1="200.04" x2="564.55" y2="198.96" stroke="#54c568" stroke-linecap="round"/>
<line x1="564.55" y1="198.96" x2="565.28" y2="197.88" stroke="#54c568" stroke-linecap="round"/>
<line x1="565.28" y1="197.88" x2="566.01" y2="196.77" stroke="#56c667" stroke-linecap="round"/>
<line x1="566.01" y1="196.77" x2="566.74" y2="195.66" stroke="#56c667" stroke-linecap="round"/>
<line x1="566.74" y1="195.66" x2="567.47" y2="194.53" stroke="#56c667" stroke-linecap="round"/>
<line x1="567.47" y1="194.53" x2="568.20" y2="193.39" stroke="#56c667" stroke-linecap="round"/>
<line x1="568.20" y1="193.39" x2="568.93" y2="192.24" stroke="#56c667" stroke-linecap="round"/>
<line x1="568.93" y1="192.24" x2="569.66" y2="191.08" stroke="#56c667" stroke-linecap="round"/>
<line x1="569.66" y1="191.08" x2="570.39" y2="189.91" stroke="#56c667" stroke-linecap="round"/>
<line x1="570.39" y1="189.91" x2="571.12" y2="188.73" stroke="#56c667" stroke-linecap="round"/>
<line x1="571.12" y1="188.73" x2="571.85" y2="187.54" stroke="#56c667" stroke-linecap="round"/>
<line x1="571.85" y1="187.54" x2="572.58" y2="186.35" stroke="#56c667" stroke-linecap="round"/>
<line x1="572.58" y1="186.35" x2="573.31" y2="185.16" stroke="#56c667" stroke-linecap="round"/>
<line x1="573.31" y1="185.16" x2="574.04" y2="183.96" stroke="#56c667" stroke-linecap="round"/>
<line x1="574.04" y1="183.96" x2="574.77" y2="182.76" stroke="#56c667" stroke-linecap="round"/>
<line x1="574.77" y1="182.76" x2="575.50" y2="181.55" stroke="#56c667" stroke-linecap="round"/>
<line x1="575.50" y1="181.55" x2="576.23" y2="180.35" stroke="#58c765" stroke-linecap="round"/>
<line x1="576.23" y1="180.35" x2="576.96" y2="179.14" stroke="#58c765" stroke-linecap="round"/>
<line x1="576.96" y1="179.14" x2="577.69" y2="177.93" stroke="#58c765" stroke-linecap="round"/>
<line x1="577.69" y1="177.93" x2="578.42" y2="176.73" stroke="#58c765" stroke-linecap="round"/>
<line x1="578.42" y1="176.73" x2="579.15" y2="175.53" stroke="#58c765" stroke-linecap="round"/>
<line x1="579.15" y1="175.53" x2="579.88" y2="174.34" stroke="#5ac864" stroke-linecap="round"/>
<line x1="579.88" y1="174.34" x2="580.61" y2="173.14" stroke="#5ac864" stroke-linecap="round"/>
<line x1="580.61" y1="173.14" x2="581.34" y2="171.96" stroke="#5ac864" stroke-linecap="round"/>
<line x1="581.34" y1="171.96" x2="582.07" y2="170.78" stroke="#5cc863" stroke-linecap="round"/>
<line x1="582.07" y1="170.78" x2="582.80" y2="169.60" stroke="#5cc863" stroke-linecap="round"/>
<line x1="582.80" y1="169.60" x2="583.53" y2="168.44" stroke="#5ec962" stroke-linecap="round"/>
<line x1="583.53" y1="168.44" x2="584.26" y2="167.28" stroke="#60ca60" stroke-linecap="round"/>
<line x1="584.26" y1="167.28" x2="584.99" y2="166.13" stroke="#60ca60" stroke-linecap="round"/>
<line x1="584.99" y1="166.13" x2="585.73" y2="164.98" stroke="#63cb5f" stroke-linecap="round"/>
<line x1="585.73" y1="164.98" x2="586.46" y2="163.85" stroke="#65cb5e" stroke-linecap="round"/>
<line x1="586.46" y1="163.85" x2="587.19" y2="162.73" stroke="#67cc5c" stroke-linecap="round"/>
<line x1="587.19" y1="162.73" x2="587.92" y2="161.61" stroke="#67cc5c" stroke-linecap="round"/>
<line x1="587.92" y1="161.61" x2="588.65" y2="160.51" stroke="#69cd5b" stroke-linecap="round"/>
<line x1="588.65" y1="160.51" x2="589.38" y2="159.41" stroke="#6ccd5a" stroke-linecap="round"/>
<line x1="589.38" y1="159.41" x2="590.11" y2="158.33" stroke="#6ece58" stroke-linecap="round"/>
<line x1="590.11" y1="158.33" x2="590.84" y2="157.26" stroke="#70cf57" stroke-linecap="round"/>
<line x1="590.84" y1="157.26" x2="591.57" y2="156.20" stroke="#73d056" stroke-linecap="round"/>
<line x1="591.57" y1="156.20" x2="592.30" y2="155.16" stroke="#75d054" stroke-linecap="round"/>
<line x1="592.30" y1="155.16" x2="593.03" y2="154.13" stroke="#77d153" stroke-linecap="round"/>
<line x1="593.03" y1="154.13" x2="593.76" y2="153.11" stroke="#77d153" stroke-linecap="round"/>
<line x1="593.76" y1="153.11" x2="594.49" y2="152.11" stroke="#7ad151" stroke-linecap="round"/>
<line x1="594.49" y1="152.11" x2="595.22" y2="151.12" stroke="#7cd250" stroke-linecap="round"/>
<line x1="595.22" y1="151.12" x2="595.95" y2="150.15" stroke="#7fd34e" stroke-linecap="round"/>
<line x1="595.95" y1="150.15" x2="596.68" y2="149.20" stroke="#81d34d" stroke-linecap="round"/>
<line x1="596.68" y1="149.20" x2="597.41" y2="148.26" stroke="#84d44b" stroke-linecap="round"/>
<line x1="597.41" y1="148.26" x2="598.14" y2="147.33" stroke="#86d549" stroke-linecap="round"/>
<line x1="598.14" y1="147.33" x2="598.87" y2="146.43" stroke="#89d548" stroke-linecap="round"/>
<line x1="598.87" y1="146.43" x2="599.60" y2="145.54" stroke="#8bd646" stroke-linecap="round"/>
<line x1="599.60" y1="145.54" x2="600.33" y2="144.67" stroke="#8ed645" stroke-linecap="round"/>
<line x1="600.33" y1="144.67" x2="601.06" y2="143.82" stroke="#90d743" stroke-linecap="round"/>
<line x1="601.06" y1="143.82" x2="601.79" y2="142.99" stroke="#93d741" stroke-linecap="round"/>
<line x1="601.79" y1="142.99" x2="602.52" y2="142.18" stroke="#95d840" stroke-linecap="round"/>
<line x1="602.52" y1="142.18" x2="603.25" y2="141.39" stroke="#98d83e" stroke-linecap="round"/>
<line x1="603.25" y1="141.39" x2="603.98" y2="140.61" stroke="#9bd93c" stroke-linecap="round"/>
<line x1="603.98" y1="140.61" x2="604.71" y2="139.85" stroke="#a0da39" stroke-linecap="round"/>
<line x1="604.71" y1="139.85" x2="605.44" y2="139.11" stroke="#a2da37" stroke-linecap="round"/>
<line x1="605.44" y1="139.11" x2="606.17" y2="138.38" stroke="#a5db36" stroke-linecap="round"/>
<line x1="606.17" y1="138.38" x2="606.90" y2="137.68" stroke="#a8db34" stroke-linecap="round"/>
<line x1="606.90" y1="137.68" x2="607.63" y2="136.98" stroke="#aadc32" stroke-linecap="round"/>
<line x1="607.63" y1="136.98" x2="608.36" y2="136.31" stroke="#addc30" stroke-linecap="round"/>
<line x1="608.36" y1="136.31" x2="609.09" y2="135.65" stroke="#b0dd2f" stroke-linecap="round"/>
<line x1="609.09" y1="135.65" x2="609.82" y2="135.01" stroke="#b2dd2d" stroke-linecap="round"/>
<line x1="609.82" y1="135.01" x2="610.55" y2="134.38" stroke="#b5de2b" stroke-linecap="round"/>
<line x1="610.55" y1="134.38" x2="611.28" y2="133.77" stroke="#bade28" stroke-linecap="round"/>
<line x1="611.28" y1="133.77" x2="612.01" y2="133.18" stroke="#bddf26" stroke-linecap="round"/>
<line x1="612.01" y1="133.18" x2="612.74" y2="132.60" stroke="#c0df25" stroke-linecap="round"/>
<line x1="612.74" y1="132.60" x2="613.47" y2="132.03" stroke="#c2df23" stroke-linecap="round"/>
<line x1="613.47" y1="132.03" x2="614.20" y2="131.48" stroke="#c5e021" stroke-linecap="round"/>
<line x1="614.20" y1="131.48" x2="614.93" y2="130.95" stroke="#c8e020" stroke-linecap="round"/>
<line x1="614.93" y1="130.95" x2="615.66" y2="130.43" stroke="#cae11f" stroke-linecap="round"/>
<line x1="615.66" y1="130.43" x2="616.39" y2="129.92" stroke="#d0e11c" stroke-linecap="round"/>
<line x1="616.39" y1="129.92" x2="617.12" y2="129.43" stroke="#d2e21b" stroke-linecap="round"/>
<line x1="617.12" y1="129.43" x2="617.85" y2="128.95" stroke="#d5e21a" stroke-linecap="round"/>
<line x1="617.85" y1="128.95" x2="618.58" y2="128.48" stroke="#d8e219" stroke-linecap="round"/>
<line x1="618.58" y1="128.48" x2="619.31" y2="128.03" stroke="#dae319" stroke-linecap="round"/>
<line x1="619.31" y1="128.03" x2="620.04" y2="127.59" stroke="#dde318" stroke-linecap="round"/>
<line x1="620.04" y1="127.59" x2="620.77" y2="127.16" stroke="#dfe318" stroke-linecap="round"/>
<line x1="620.77" y1="127.16" x2="621.50" y2="126.75" stroke="#e5e419" stroke-linecap="round"/>
</g>
<polyline points="403.20,212.70 404.30,212.79 405.39,212.88 406.49,212.96 407.59,213.04 408.68,213.12 409.78,213.19 410.88,213.26 411.98,213.32 413.07,213.38 414.17,213.44 415.27,213.49 416.36,213.54 417.46,213.59 418.56,213.63 419.65,213.67 420.75,213.70 421.85,213.74 422.95,213.76 424.04,213.79 425.14,213.81 426.24,213.82 427.33,213.84 428.43,213.85 429.53,213.85 430.62,213.85 431.72,213.85 432.82,213.85 433.92,213.84 435.01,213.83 436.11,213.81 437.21,213.79 438.30,213.77 439.40,213.74 440.50,213.71 441.59,213.68 442.69,213.64 443.79,213.60 444.89,213.55 445.98,213.51 447.08,213.46 448.18,213.40 449.27,213.34 450.37,213.28 451.47,213.21 452.56,213.14 453.66,213.07 454.76,213.00 455.86,212.92 456.95,212.83 458.05,212.75 459.15,212.66 460.24,212.56 461.34,212.46 462.44,212.36 463.53,212.26 464.63,212.15 465.73,212.04 466.83,211.93 467.92,211.81 469.02,211.69 470.12,211.56 471.21,211.43 472.31,211.30 473.41,211.17 474.50,211.03 475.60,210.89 476.70,210.74 477.79,210.59 478.89,210.44 479.99,210.29 481.09,210.13 482.18,209.96 483.28,209.80 484.38,209.63 485.47,209.46 486.57,209.28 487.67,209.10 488.76,208.92 489.86,208.73 490.96,208.54 492.06,208.35 493.15,208.16 494.25,207.96 495.35,207.76 496.44,207.55 497.54,207.34 498.64,207.13 499.73,206.91 500.83,206.69 501.93,206.47 503.03,206.25 504.12,206.02 505.22,205.78 506.32,205.55 507.41,205.31 508.51,205.07 509.61,204.82 510.70,204.57 511.80,204.32 512.90,204.07 514.00,203.81 515.09,203.55 516.19,203.28 517.29,203.02 518.38,202.75 519.48,202.47 520.58,202.19 521.67,201.91 522.77,201.63 523.87,201.34 524.97,201.05 526.06,200.76 527.16,200.46 528.26,200.16 529.35,199.86 530.45,199.55 531.55,199.24 532.64,198.93 533.74,198.62 534.84,198.30 535.94,197.98 537.03,197.65 538.13,197.32 539.23,196.99 540.32,196.66 541.42,196.32 542.52,195.98 543.61,195.64 544.71,195.29 545.81,194.94 546.91,194.59 548.00,194.23 549.10,193.87 550.20,193.51 551.29,193.15 552.39,192.78 553.49,192.41 554.58,192.03 555.68,191.66 556.78,191.28 557.87,190.89 558.97,190.51 560.07,190.12 561.17,189.73 562.26,189.33 563.36,188.93 564.46,188.53 565.55,188.13 566.65,187.72 567.75,187.31 568.84,186.89 569.94,186.48 571.04,186.06 572.14,185.64 573.23,185.21 574.33,184.78 575.43,184.35 576.52,183.92 577.62,183.48 578.72,183.04 579.81,182.60 580.91,182.15 582.01,181.71 583.11,181.25 584.20,180.80 585.30,180.34 586.40,179.88 587.49,179.42 588.59,178.95 589.69,178.48 590.78,178.01 591.88,177.54 592.98,177.06 594.08,176.58 595.17,176.10 596.27,175.61 597.37,175.12 598.46,174.63 599.56,174.14 600.66,173.64 601.75,173.14 602.85,172.64 603.95,172.13 605.05,171.62 606.14,171.11 607.24,170.60 608.34,170.08 609.43,169.56 610.53,169.04 611.63,168.51 612.72,167.98 613.82,167.45 614.92,166.92 616.02,166.38 617.11,165.84 618.21,165.30 619.31,164.76 620.40,164.21 621.50,163.66" fill="none" stroke="#0000ff" stroke-width="1.7" stroke-linejoin="round" clip-path="url(#clipb)"/>
<polyline points="403.20,212.53 404.30,212.63 405.39,212.75 406.49,212.87 407.59,213.00 408.68,213.14 409.78,213.29 410.88,213.45 411.98,213.61 413.07,213.79 414.17,213.97 415.27,214.16 416.36,214.35 417.46,214.56 418.56,214.77 419.65,214.98 420.75,215.20 421.85,215.43 422.95,215.66 424.04,215.90 425.14,216.14 426.24,216.39 427.33,216.64 428.43,216.89 429.53,217.15 430.62,217.41 431.72,217.67 432.82,217.93 433.92,218.20 435.01,218.47 436.11,218.74 437.21,219.01 438.30,219.29 439.40,219.56 440.50,219.83 441.59,220.11 442.69,220.38 443.79,220.65 444.89,220.92 445.98,221.20 447.08,221.47 448.18,221.73 449.27,222.00 450.37,222.26 451.47,222.52 452.56,222.78 453.66,223.03 454.76,223.28 455.86,223.53 456.95,223.77 458.05,224.01 459.15,224.24 460.24,224.47 461.34,224.69 462.44,224.91 463.53,225.12 464.63,225.32 465.73,225.52 466.83,225.71 467.92,225.89 469.02,226.07 470.12,226.23 471.21,226.39 472.31,226.54 473.41,226.68 474.50,226.82 475.60,226.94 476.70,227.05 477.79,227.16 478.89,227.25 479.99,227.33 481.09,227.40 482.18,227.46 483.28,227.51 484.38,227.55 485.47,227.57 486.57,227.58 487.67,227.58 488.76,227.57 489.86,227.54 490.96,227.50 492.06,227.45 493.15,227.38 494.25,227.29 495.35,227.19 496.44,227.08 497.54,226.95 498.64,226.80 499.73,226.64 500.83,226.46 501.93,226.27 503.03,226.06 504.12,225.83 505.22,225.58 506.32,225.31 507.41,225.03 508.51,224.73 509.61,224.41 510.70,224.07 511.80,223.71 512.90,223.33 514.00,222.93 515.09,222.51 516.19,222.07 517.29,221.60 518.38,221.12 519.48,220.62 520.58,220.09 521.67,219.54 522.77,218.97 523.87,218.37 524.97,217.75 526.06,217.11 527.16,216.44 528.26,215.74 529.35,215.02 530.45,214.26 531.55,213.49 532.64,212.68 533.74,211.84 534.84,210.98 535.94,210.08 537.03,209.15 538.13,208.19 539.23,207.20 540.32,206.18 541.42,205.12 542.52,204.03 543.61,202.90 544.71,201.74 545.81,200.54 546.91,199.31 548.00,198.04 549.10,196.73 550.20,195.38 551.29,193.99 552.39,192.57 553.49,191.10 554.58,189.59 555.68,188.05 556.78,186.47 557.87,184.86 558.97,183.21 560.07,181.53 561.17,179.81 562.26,178.07 563.36,176.30 564.46,174.49 565.55,172.67 566.65,170.82 567.75,168.94 568.84,167.04 569.94,165.12 571.04,163.18 572.14,161.22 573.23,159.24 574.33,157.25 575.43,155.24 576.52,153.22 577.62,151.19 578.72,149.15 579.81,147.10 580.91,145.05 582.01,143.00 583.11,140.95 584.20,138.91 585.30,136.88 586.40,134.85 587.49,132.84 588.59,130.84 589.69,128.86 590.78,126.90 591.88,124.97 592.98,123.05 594.08,121.17 595.17,119.32 596.27,117.50 597.37,115.71 598.46,113.97 599.56,112.26 600.66,110.60 601.75,108.98 602.85,107.40 603.95,105.84 605.05,104.31 606.14,102.80 607.24,101.30 608.34,99.81 609.43,98.32 610.53,96.82 611.63,95.31 612.72,93.79 613.82,92.25 614.92,90.68 616.02,89.08 617.11,87.44 618.21,85.75 619.31,84.01 620.40,82.22 621.50,80.37" fill="none" stroke="#ff0000" stroke-width="1.7" stroke-linejoin="round" clip-path="url(#clipb)"/>
<g clip-path="url(#clipc)" fill="#000">
<circle cx="80.7" cy="513.7" r="2.6"/>
<circle cx="81.5" cy="518.2" r="2.6"/>
<circle cx="115.3" cy="522.2" r="2.6"/>
<circle cx="126.5" cy="522.7" r="2.6"/>
<circle cx="126.5" cy="526.5" r="2.6"/>
<circle cx="137.7" cy="517.2" r="2.6"/>
<circle cx="138.5" cy="546.6" r="2.6"/>
<circle cx="155.8" cy="522.2" r="2.6"/>
<circle cx="187.3" cy="526.4" r="2.6"/>
<circle cx="221.5" cy="519.5" r="2.6"/>
<circle cx="200.4" cy="463.2" r="2.6"/>
<circle cx="226.3" cy="445.5" r="2.6"/>
<circle cx="229.8" cy="457.6" r="2.6"/>
<circle cx="237.1" cy="376.8" r="2.6"/>
</g>
<g clip-path="url(#clipc)" fill="none" stroke-width="2.6" stroke-linecap="butt">
<line x1="43.20" y1="506.00" x2="43.93" y2="506.03" stroke="#481d6f" stroke-linecap="round"/>
<line x1="43.93" y1="506.03" x2="44.66" y2="506.06" stroke="#481d6f" stroke-linecap="round"/>
<line x1="44.66" y1="506.06" x2="45.39" y2="506.10" stroke="#481d6f" stroke-linecap="round"/>
<line x1="45.39" y1="506.10" x2="46.12" y2="506.13" stroke="#481d6f" stroke-linecap="round"/>
<line x1="46.12" y1="506.13" x2="46.85" y2="506.16" stroke="#481d6f" stroke-linecap="round"/>
<line x1="46.85" y1="506.16" x2="47.58" y2="506.19" stroke="#481d6f" stroke-linecap="round"/>
<line x1="47.58" y1="506.19" x2="48.31" y2="506.22" stroke="#481d6f" stroke-linecap="round"/>
<line x1="48.31" y1="506.22" x2="49.04" y2="506.26" stroke="#481d6f" stroke-linecap="round"/>
<line x1="49.04" y1="506.26" x2="49.77" y2="506.29" stroke="#481d6f" stroke-linecap="round"/>
<line x1="49.77" y1="506.29" x2="50.50" y2="506.32" stroke="#481d6f" stroke-linecap="round"/>
<line x1="50.50" y1="506.32" x2="51.23" y2="506.35" stroke="#481d6f" stroke-linecap="round"/>
<line x1="51.23" y1="506.35" x2="51.96" y2="506.37" stroke="#481d6f" stroke-linecap="round"/>
<line x1="51.96" y1="506.37" x2="52.69" y2="506.40" stroke="#481d6f" stroke-linecap="round"/>
<line x1="52.69" y1="506.40" x2="53.42" y2="506.43" stroke="#481d6f" stroke-linecap="round"/>
<line x1="53.42" y1="506.43" x2="54.15" y2="506.46" stroke="#481d6f" stroke-linecap="round"/>
<line x1="54.15" y1="506.46" x2="54.88" y2="506.48" stroke="#481d6f" stroke-linecap="round"/>
<line x1="54.88" y1="506.48" x2="55.61" y2="506.51" stroke="#481d6f" stroke-linecap="round"/>
<line x1="55.61" y1="506.51" x2="56.34" y2="506.53" stroke="#481d6f" stroke-linecap="round"/>
<line x1="56.34" y1="506.53" x2="57.07" y2="506.56" stroke="#481d6f" stroke-linecap="round"/>
<line x1="57.07" y1="506.56" x2="57.80" y2="506.58" stroke="#481d6f" stroke-linecap="round"/>
<line x1="57.80" y1="506.58" x2="58.53" y2="506.61" stroke="#481d6f" stroke-linecap="round"/>
<line x1="58.53" y1="506.61" x2="59.26" y2="506.63" stroke="#481d6f" stroke-linecap="round"/>
<line x1="59.26" y1="506.63" x2="59.99" y2="506.65" stroke="#481d6f" stroke-linecap="round"/>
<line x1="59.99" y1="506.65" x2="60.72" y2="506.67" stroke="#481d6f" stroke-linecap="round"/>
<line x1="60.72" y1="506.67" x2="61.45" y2="506.69" stroke="#481d6f" stroke-linecap="round"/>
<line x1="61.45" y1="506.69" x2="62.18" y2="506.71" stroke="#481d6f" stroke-linecap="round"/>
<line x1="62.18" y1="506.71" x2="62.91" y2="506.73" stroke="#481d6f" stroke-linecap="round"/>
<line x1="62.91" y1="506.73" x2="63.64" y2="506.75" stroke="#481d6f" stroke-linecap="round"/>
<line x1="63.64" y1="506.75" x2="64.37" y2="506.77" stroke="#481d6f" stroke-linecap="round"/>
<line x1="64.37" y1="506.77" x2="65.10" y2="506.79" stroke="#481d6f" stroke-linecap="round"/>
<line x1="65.10" y1="506.79" x2="65.83" y2="506.80" stroke="#481d6f" stroke-linecap="round"/>
<line x1="65.83" y1="506.80" x2="66.56" y2="506.82" stroke="#481d6f" stroke-linecap="round"/>
<line x1="66.56" y1="506.82" x2="67.29" y2="506.83" stroke="#481d6f" stroke-linecap="round"/>
<line x1="67.29" y1="506.83" x2="68.02" y2="506.85" stroke="#481d6f" stroke-linecap="round"/>
<line x1="68.02" y1="506.85" x2="68.75" y2="506.86" stroke="#481d6f" stroke-linecap="round"/>
<line x1="68.75" y1="506.86" x2="69.48" y2="506.87" stroke="#481d6f" stroke-linecap="round"/>
<line x1="69.48" y1="506.87" x2="70.21" y2="506.89" stroke="#481d6f" stroke-linecap="round"/>
<line x1="70.21" y1="506.89" x2="70.94" y2="506.90" stroke="#481d6f" stroke-linecap="round"/>
<line x1="70.94" y1="506.90" x2="71.67" y2="506.91" stroke="#481d6f" stroke-linecap="round"/>
<line x1="71.67" y1="506.91" x2="72.40" y2="506.92" stroke="#481d6f" stroke-linecap="round"/>
<line x1="72.40" y1="506.92" x2="73.13" y2="506.93" stroke="#481d6f" stroke-linecap="round"/>
<line x1="73.13" y1="506.93" x2="73.86" y2="506.93" stroke="#481d6f" stroke-linecap="round"/>
<line x1="73.86" y1="506.93" x2="74.59" y2="506.94" stroke="#481d6f" stroke-linecap="round"/>
<line x1="74.59" y1="506.94" x2="75.32" y2="506.95" stroke="#481d6f" stroke-linecap="round"/>
<line x1="75.32" y1="506.95" x2="76.05" y2="506.95" stroke="#481d6f" stroke-linecap="round"/>
<line x1="76.05" y1="506.95" x2="76.78" y2="506.95" stroke="#481d6f" stroke-linecap="round"/>
<line x1="76.78" y1="506.95" x2="77.51" y2="506.96" stroke="#481d6f" stroke-linecap="round"/>
<line x1="77.51" y1="506.96" x2="78.24" y2="506.96" stroke="#481d6f" stroke-linecap="round"/>
<line x1="78.24" y1="506.96" x2="78.97" y2="506.96" stroke="#481d6f" stroke-linecap="round"/>
<line x1="78.97" y1="506.96" x2="79.71" y2="506.96" stroke="#481d6f" stroke-linecap="round"/>
<line x1="79.71" y1="506.96" x2="80.44" y2="506.96" stroke="#481f70" stroke-linecap="round"/>
<line x1="80.44" y1="506.96" x2="81.17" y2="506.96" stroke="#481f70" stroke-linecap="round"/>
<line x1="81.17" y1="506.96" x2="81.90" y2="506.96" stroke="#481f70" stroke-linecap="round"/>
<line x1="81.90" y1="506.96" x2="82.63" y2="506.95" stroke="#481f70" stroke-linecap="round"/>
<line x1="82.63" y1="506.95" x2="83.36" y2="506.95" stroke="#481f70" stroke-linecap="round"/>
<line x1="83.36" y1="506.95" x2="84.09" y2="506.94" stroke="#481f70" stroke-linecap="round"/>
<line x1="84.09" y1="506.94" x2="84.82" y2="506.94" stroke="#482071" stroke-linecap="round"/>
<line x1="84.82" y1="506.94" x2="85.55" y2="506.93" stroke="#482071" stroke-linecap="round"/>
<line x1="85.55" y1="506.93" x2="86.28" y2="506.92" stroke="#482071" stroke-linecap="round"/>
<line x1="86.28" y1="506.92" x2="87.01" y2="506.91" stroke="#482071" stroke-linecap="round"/>
<line x1="87.01" y1="506.91" x2="87.74" y2="506.90" stroke="#482173" stroke-linecap="round"/>
<line x1="87.74" y1="506.90" x2="88.47" y2="506.89" stroke="#482173" stroke-linecap="round"/>
<line x1="88.47" y1="506.89" x2="89.20" y2="506.88" stroke="#482173" stroke-linecap="round"/>
<line x1="89.20" y1="506.88" x2="89.93" y2="506.86" stroke="#482173" stroke-linecap="round"/>
<line x1="89.93" y1="506.86" x2="90.66" y2="506.85" stroke="#482374" stroke-linecap="round"/>
<line x1="90.66" y1="506.85" x2="91.39" y2="506.83" stroke="#482374" stroke-linecap="round"/>
<line x1="91.39" y1="506.83" x2="92.12" y2="506.82" stroke="#482374" stroke-linecap="round"/>
<line x1="92.12" y1="506.82" x2="92.85" y2="506.80" stroke="#482475" stroke-linecap="round"/>
<line x1="92.85" y1="506.80" x2="93.58" y2="506.78" stroke="#482475" stroke-linecap="round"/>
<line x1="93.58" y1="506.78" x2="94.31" y2="506.76" stroke="#482475" stroke-linecap="round"/>
<line x1="94.31" y1="506.76" x2="95.04" y2="506.74" stroke="#482475" stroke-linecap="round"/>
<line x1="95.04" y1="506.74" x2="95.77" y2="506.71" stroke="#482576" stroke-linecap="round"/>
<line x1="95.77" y1="506.71" x2="96.50" y2="506.69" stroke="#482576" stroke-linecap="round"/>
<line x1="96.50" y1="506.69" x2="97.23" y2="506.66" stroke="#482576" stroke-linecap="round"/>
<line x1="97.23" y1="506.66" x2="97.96" y2="506.64" stroke="#482677" stroke-linecap="round"/>
<line x1="97.96" y1="506.64" x2="98.69" y2="506.61" stroke="#482677" stroke-linecap="round"/>
<line x1="98.69" y1="506.61" x2="99.42" y2="506.58" stroke="#482677" stroke-linecap="round"/>
<line x1="99.42" y1="506.58" x2="100.15" y2="506.55" stroke="#482878" stroke-linecap="round"/>
<line x1="100.15" y1="506.55" x2="100.88" y2="506.52" stroke="#482878" stroke-linecap="round"/>
<line x1="100.88" y1="506.52" x2="101.61" y2="506.49" stroke="#482878" stroke-linecap="round"/>
<line x1="101.61" y1="506.49" x2="102.34" y2="506.45" stroke="#482979" stroke-linecap="round"/>
<line x1="102.34" y1="506.45" x2="103.07" y2="506.42" stroke="#482979" stroke-linecap="round"/>
<line x1="103.07" y1="506.42" x2="103.80" y2="506.38" stroke="#482979" stroke-linecap="round"/>
<line x1="103.80" y1="506.38" x2="104.53" y2="506.34" stroke="#472a7a" stroke-linecap="round"/>
<line x1="104.53" y1="506.34" x2="105.26" y2="506.30" stroke="#472a7a" stroke-linecap="round"/>
<line x1="105.26" y1="506.30" x2="105.99" y2="506.26" stroke="#472a7a" stroke-linecap="round"/>
<line x1="105.99" y1="506.26" x2="106.72" y2="506.22" stroke="#472c7a" stroke-linecap="round"/>
<line x1="106.72" y1="506.22" x2="107.45" y2="506.18" stroke="#472c7a" stroke-linecap="round"/>
<line x1="107.45" y1="506.18" x2="108.18" y2="506.14" stroke="#472c7a" stroke-linecap="round"/>
<line x1="108.18" y1="506.14" x2="108.91" y2="506.09" stroke="#472d7b" stroke-linecap="round"/>
<line x1="108.91" y1="506.09" x2="109.64" y2="506.04" stroke="#472d7b" stroke-linecap="round"/>
<line x1="109.64" y1="506.04" x2="110.37" y2="505.99" stroke="#472d7b" stroke-linecap="round"/>
<line x1="110.37" y1="505.99" x2="111.10" y2="505.94" stroke="#472d7b" stroke-linecap="round"/>
<line x1="111.10" y1="505.94" x2="111.83" y2="505.89" stroke="#472e7c" stroke-linecap="round"/>
<line x1="111.83" y1="505.89" x2="112.56" y2="505.84" stroke="#472e7c" stroke-linecap="round"/>
<line x1="112.56" y1="505.84" x2="113.29" y2="505.79" stroke="#472f7d" stroke-linecap="round"/>
<line x1="113.29" y1="505.79" x2="114.02" y2="505.73" stroke="#472f7d" stroke-linecap="round"/>
<line x1="114.02" y1="505.73" x2="114.75" y2="505.67" stroke="#472f7d" stroke-linecap="round"/>
<line x1="114.75" y1="505.67" x2="115.48" y2="505.62" stroke="#46307e" stroke-linecap="round"/>
<line x1="115.48" y1="505.62" x2="116.21" y2="505.56" stroke="#46307e" stroke-linecap="round"/>
<line x1="116.21" y1="505.56" x2="116.94" y2="505.49" stroke="#46327e" stroke-linecap="round"/>
<line x1="116.94" y1="505.49" x2="117.67" y2="505.43" stroke="#46327e" stroke-linecap="round"/>
<line x1="117.67" y1="505.43" x2="118.40" y2="505.37" stroke="#46337f" stroke-linecap="round"/>
<line x1="118.40" y1="505.37" x2="119.13" y2="505.30" stroke="#46337f" stroke-linecap="round"/>
<line x1="119.13" y1="505.30" x2="119.86" y2="505.23" stroke="#463480" stroke-linecap="round"/>
<line x1="119.86" y1="505.23" x2="120.59" y2="505.17" stroke="#463480" stroke-linecap="round"/>
<line x1="120.59" y1="505.17" x2="121.32" y2="505.10" stroke="#453581" stroke-linecap="round"/>
<line x1="121.32" y1="505.10" x2="122.05" y2="505.02" stroke="#453781" stroke-linecap="round"/>
<line x1="122.05" y1="505.02" x2="122.78" y2="504.95" stroke="#453882" stroke-linecap="round"/>
<line x1="122.78" y1="504.95" x2="123.51" y2="504.88" stroke="#443983" stroke-linecap="round"/>
<line x1="123.51" y1="504.88" x2="124.24" y2="504.80" stroke="#443a83" stroke-linecap="round"/>
<line x1="124.24" y1="504.80" x2="124.97" y2="504.72" stroke="#443b84" stroke-linecap="round"/>
<line x1="124.97" y1="504.72" x2="125.70" y2="504.64" stroke="#433d84" stroke-linecap="round"/>
<line x1="125.70" y1="504.64" x2="126.43" y2="504.56" stroke="#433e85" stroke-linecap="round"/>
<line x1="126.43" y1="504.56" x2="127.16" y2="504.48" stroke="#423f85" stroke-linecap="round"/>
<line x1="127.16" y1="504.48" x2="127.89" y2="504.39" stroke="#424186" stroke-linecap="round"/>
<line x1="127.89" y1="504.39" x2="128.62" y2="504.31" stroke="#414287" stroke-linecap="round"/>
<line x1="128.62" y1="504.31" x2="129.35" y2="504.22" stroke="#414487" stroke-linecap="round"/>
<line x1="129.35" y1="504.22" x2="130.08" y2="504.13" stroke="#404688" stroke-linecap="round"/>
<line x1="130.08" y1="504.13" x2="130.81" y2="504.04" stroke="#3f4788" stroke-linecap="round"/>
<line x1="130.81" y1="504.04" x2="131.54" y2="503.94" stroke="#3f4889" stroke-linecap="round"/>
<line x1="131.54" y1="503.94" x2="132.27" y2="503.85" stroke="#3e4989" stroke-linecap="round"/>
<line x1="132.27" y1="503.85" x2="133.00" y2="503.75" stroke="#3e4c8a" stroke-linecap="round"/>
<line x1="133.00" y1="503.75" x2="133.73" y2="503.66" stroke="#3d4d8a" stroke-linecap="round"/>
<line x1="133.73" y1="503.66" x2="134.46" y2="503.56" stroke="#3d4e8a" stroke-linecap="round"/>
<line x1="134.46" y1="503.56" x2="135.19" y2="503.46" stroke="#3c4f8a" stroke-linecap="round"/>
<line x1="135.19" y1="503.46" x2="135.92" y2="503.35" stroke="#3c508b" stroke-linecap="round"/>
<line x1="135.92" y1="503.35" x2="136.65" y2="503.25" stroke="#3b518b" stroke-linecap="round"/>
<line x1="136.65" y1="503.25" x2="137.38" y2="503.14" stroke="#3b528b" stroke-linecap="round"/>
<line x1="137.38" y1="503.14" x2="138.11" y2="503.03" stroke="#3a538b" stroke-linecap="round"/>
<line x1="138.11" y1="503.03" x2="138.84" y2="502.92" stroke="#3a548c" stroke-linecap="round"/>
<line x1="138.84" y1="502.92" x2="139.57" y2="502.81" stroke="#39558c" stroke-linecap="round"/>
<line x1="139.57" y1="502.81" x2="140.30" y2="502.70" stroke="#39568c" stroke-linecap="round"/>
<line x1="140.30" y1="502.70" x2="141.03" y2="502.58" stroke="#39568c" stroke-linecap="round"/>
<line x1="141.03" y1="502.58" x2="141.76" y2="502.46" stroke="#38588c" stroke-linecap="round"/>
<line x1="141.76" y1="502.46" x2="142.49" y2="502.34" stroke="#38598c" stroke-linecap="round"/>
<line x1="142.49" y1="502.34" x2="143.22" y2="502.22" stroke="#375a8c" stroke-linecap="round"/>
<line x1="143.22" y1="502.22" x2="143.95" y2="502.10" stroke="#375b8d" stroke-linecap="round"/>
<line x1="143.95" y1="502.10" x2="144.68" y2="501.97" stroke="#365c8d" stroke-linecap="round"/>
<line x1="144.68" y1="501.97" x2="145.41" y2="501.85" stroke="#365d8d" stroke-linecap="round"/>
<line x1="145.41" y1="501.85" x2="146.14" y2="501.72" stroke="#365d8d" stroke-linecap="round"/>
<line x1="146.14" y1="501.72" x2="146.87" y2="501.59" stroke="#355e8d" stroke-linecap="round"/>
<line x1="146.87" y1="501.59" x2="147.60" y2="501.46" stroke="#355f8d" stroke-linecap="round"/>
<line x1="147.60" y1="501.46" x2="148.33" y2="501.32" stroke="#34608d" stroke-linecap="round"/>
<line x1="148.33" y1="501.32" x2="149.06" y2="501.19" stroke="#34618d" stroke-linecap="round"/>
<line x1="149.06" y1="501.19" x2="149.79" y2="501.05" stroke="#33628d" stroke-linecap="round"/>
<line x1="149.79" y1="501.05" x2="150.52" y2="500.91" stroke="#33638d" stroke-linecap="round"/>
<line x1="150.52" y1="500.91" x2="151.25" y2="500.77" stroke="#32648e" stroke-linecap="round"/>
<line x1="151.25" y1="500.77" x2="151.98" y2="500.62" stroke="#32658e" stroke-linecap="round"/>
<line x1="151.98" y1="500.62" x2="152.72" y2="500.47" stroke="#31668e" stroke-linecap="round"/>
<line x1="152.72" y1="500.47" x2="153.45" y2="500.33" stroke="#31678e" stroke-linecap="round"/>
<line x1="153.45" y1="500.33" x2="154.18" y2="500.18" stroke="#31688e" stroke-linecap="round"/>
<line x1="154.18" y1="500.18" x2="154.91" y2="500.02" stroke="#30698e" stroke-linecap="round"/>
<line x1="154.91" y1="500.02" x2="155.64" y2="499.87" stroke="#306a8e" stroke-linecap="round"/>
<line x1="155.64" y1="499.87" x2="156.37" y2="499.71" stroke="#2f6c8e" stroke-linecap="round"/>
<line x1="156.37" y1="499.71" x2="157.10" y2="499.56" stroke="#2e6d8e" stroke-linecap="round"/>
<line x1="157.10" y1="499.56" x2="157.83" y2="499.40" stroke="#2e6e8e" stroke-linecap="round"/>
<line x1="157.83" y1="499.40" x2="158.56" y2="499.23" stroke="#2d708e" stroke-linecap="round"/>
<line x1="158.56" y1="499.23" x2="159.29" y2="499.07" stroke="#2d718e" stroke-linecap="round"/>
<line x1="159.29" y1="499.07" x2="160.02" y2="498.90" stroke="#2c728e" stroke-linecap="round"/>
<line x1="160.02" y1="498.90" x2="160.75" y2="498.73" stroke="#2b748e" stroke-linecap="round"/>
<line x1="160.75" y1="498.73" x2="161.48" y2="498.56" stroke="#2b758e" stroke-linecap="round"/>
<line x1="161.48" y1="498.56" x2="162.21" y2="498.39" stroke="#2a778e" stroke-linecap="round"/>
<line x1="162.21" y1="498.39" x2="162.94" y2="498.22" stroke="#2a788e" stroke-linecap="round"/>
<line x1="162.94" y1="498.22" x2="163.67" y2="498.04" stroke="#297a8e" stroke-linecap="round"/>
<line x1="163.67" y1="498.04" x2="164.40" y2="497.86" stroke="#287c8e" stroke-linecap="round"/>
<line x1="164.40" y1="497.86" x2="165.13" y2="497.68" stroke="#277e8e" stroke-linecap="round"/>
<line x1="165.13" y1="497.68" x2="165.86" y2="497.50" stroke="#277f8e" stroke-linecap="round"/>
<line x1="165.86" y1="497.50" x2="166.59" y2="497.31" stroke="#26818e" stroke-linecap="round"/>
<line x1="166.59" y1="497.31" x2="167.32" y2="497.13" stroke="#26828e" stroke-linecap="round"/>
<line x1="167.32" y1="497.13" x2="168.05" y2="496.94" stroke="#25838e" stroke-linecap="round"/>
<line x1="168.05" y1="496.94" x2="168.78" y2="496.75" stroke="#25858e" stroke-linecap="round"/>
<line x1="168.78" y1="496.75" x2="169.51" y2="496.56" stroke="#24878e" stroke-linecap="round"/>
<line x1="169.51" y1="496.56" x2="170.24" y2="496.36" stroke="#23898e" stroke-linecap="round"/>
<line x1="170.24" y1="496.36" x2="170.97" y2="496.17" stroke="#228c8d" stroke-linecap="round"/>
<line x1="170.97" y1="496.17" x2="171.70" y2="495.97" stroke="#218e8d" stroke-linecap="round"/>
<line x1="171.70" y1="495.97" x2="172.43" y2="495.77" stroke="#21908d" stroke-linecap="round"/>
<line x1="172.43" y1="495.77" x2="173.16" y2="495.57" stroke="#20928c" stroke-linecap="round"/>
<line x1="173.16" y1="495.57" x2="173.89" y2="495.37" stroke="#20938c" stroke-linecap="round"/>
<line x1="173.89" y1="495.37" x2="174.62" y2="495.17" stroke="#1f948c" stroke-linecap="round"/>
<line x1="174.62" y1="495.17" x2="175.35" y2="494.97" stroke="#1f958b" stroke-linecap="round"/>
<line x1="175.35" y1="494.97" x2="176.08" y2="494.76" stroke="#1f958b" stroke-linecap="round"/>
<line x1="176.08" y1="494.76" x2="176.81" y2="494.55" stroke="#1f948c" stroke-linecap="round"/>
<line x1="176.81" y1="494.55" x2="177.54" y2="494.35" stroke="#1f948c" stroke-linecap="round"/>
<line x1="177.54" y1="494.35" x2="178.27" y2="494.14" stroke="#20938c" stroke-linecap="round"/>
<line x1="178.27" y1="494.14" x2="179.00" y2="493.92" stroke="#20928c" stroke-linecap="round"/>
<line x1="179.00" y1="493.92" x2="179.73" y2="493.71" stroke="#20928c" stroke-linecap="round"/>
<line x1="179.73" y1="493.71" x2="180.46" y2="493.50" stroke="#21918c" stroke-linecap="round"/>
<line x1="180.46" y1="493.50" x2="181.19" y2="493.28" stroke="#21908d" stroke-linecap="round"/>
<line x1="181.19" y1="493.28" x2="181.92" y2="493.07" stroke="#218f8d" stroke-linecap="round"/>
<line x1="181.92" y1="493.07" x2="182.65" y2="492.85" stroke="#218e8d" stroke-linecap="round"/>
<line x1="182.65" y1="492.85" x2="183.38" y2="492.63" stroke="#228c8d" stroke-linecap="round"/>
<line x1="183.38" y1="492.63" x2="184.11" y2="492.42" stroke="#228b8d" stroke-linecap="round"/>
<line x1="184.11" y1="492.42" x2="184.84" y2="492.20" stroke="#23898e" stroke-linecap="round"/>
<line x1="184.84" y1="492.20" x2="185.57" y2="491.98" stroke="#24878e" stroke-linecap="round"/>
<line x1="185.57" y1="491.98" x2="186.30" y2="491.75" stroke="#25858e" stroke-linecap="round"/>
<line x1="186.30" y1="491.75" x2="187.03" y2="491.53" stroke="#25838e" stroke-linecap="round"/>
<line x1="187.03" y1="491.53" x2="187.76" y2="491.31" stroke="#26828e" stroke-linecap="round"/>
<line x1="187.76" y1="491.31" x2="188.49" y2="491.08" stroke="#277f8e" stroke-linecap="round"/>
<line x1="188.49" y1="491.08" x2="189.22" y2="490.86" stroke="#287d8e" stroke-linecap="round"/>
<line x1="189.22" y1="490.86" x2="189.95" y2="490.63" stroke="#297a8e" stroke-linecap="round"/>
<line x1="189.95" y1="490.63" x2="190.68" y2="490.41" stroke="#2a788e" stroke-linecap="round"/>
<line x1="190.68" y1="490.41" x2="191.41" y2="490.18" stroke="#2b758e" stroke-linecap="round"/>
<line x1="191.41" y1="490.18" x2="192.14" y2="489.95" stroke="#2c728e" stroke-linecap="round"/>
<line x1="192.14" y1="489.95" x2="192.87" y2="489.72" stroke="#2d708e" stroke-linecap="round"/>
<line x1="192.87" y1="489.72" x2="193.60" y2="489.49" stroke="#2e6d8e" stroke-linecap="round"/>
<line x1="193.60" y1="489.49" x2="194.33" y2="489.26" stroke="#306a8e" stroke-linecap="round"/>
<line x1="194.33" y1="489.26" x2="195.06" y2="489.04" stroke="#31668e" stroke-linecap="round"/>
<line x1="195.06" y1="489.04" x2="195.79" y2="488.80" stroke="#33638d" stroke-linecap="round"/>
<line x1="195.79" y1="488.80" x2="196.52" y2="488.57" stroke="#34608d" stroke-linecap="round"/>
<line x1="196.52" y1="488.57" x2="197.25" y2="488.34" stroke="#355e8d" stroke-linecap="round"/>
<line x1="197.25" y1="488.34" x2="197.98" y2="488.11" stroke="#375b8d" stroke-linecap="round"/>
<line x1="197.98" y1="488.11" x2="198.71" y2="487.88" stroke="#38598c" stroke-linecap="round"/>
<line x1="198.71" y1="487.88" x2="199.44" y2="487.65" stroke="#38588c" stroke-linecap="round"/>
<line x1="199.44" y1="487.65" x2="200.17" y2="487.41" stroke="#39558c" stroke-linecap="round"/>
<line x1="200.17" y1="487.41" x2="200.90" y2="487.18" stroke="#3a548c" stroke-linecap="round"/>
<line x1="200.90" y1="487.18" x2="201.63" y2="486.95" stroke="#3a538b" stroke-linecap="round"/>
<line x1="201.63" y1="486.95" x2="202.36" y2="486.72" stroke="#3b528b" stroke-linecap="round"/>
<line x1="202.36" y1="486.72" x2="203.09" y2="486.48" stroke="#3b518b" stroke-linecap="round"/>
<line x1="203.09" y1="486.48" x2="203.82" y2="486.25" stroke="#3c508b" stroke-linecap="round"/>
<line x1="203.82" y1="486.25" x2="204.55" y2="486.02" stroke="#3c4f8a" stroke-linecap="round"/>
<line x1="204.55" y1="486.02" x2="205.28" y2="485.78" stroke="#3d4e8a" stroke-linecap="round"/>
<line x1="205.28" y1="485.78" x2="206.01" y2="485.55" stroke="#3d4d8a" stroke-linecap="round"/>
<line x1="206.01" y1="485.55" x2="206.74" y2="485.32" stroke="#3d4d8a" stroke-linecap="round"/>
<line x1="206.74" y1="485.32" x2="207.47" y2="485.08" stroke="#3e4c8a" stroke-linecap="round"/>
<line x1="207.47" y1="485.08" x2="208.20" y2="484.85" stroke="#3e4a89" stroke-linecap="round"/>
<line x1="208.20" y1="484.85" x2="208.93" y2="484.62" stroke="#3e4a89" stroke-linecap="round"/>
<line x1="208.93" y1="484.62" x2="209.66" y2="484.39" stroke="#3e4989" stroke-linecap="round"/>
<line x1="209.66" y1="484.39" x2="210.39" y2="484.15" stroke="#3e4989" stroke-linecap="round"/>
<line x1="210.39" y1="484.15" x2="211.12" y2="483.92" stroke="#3e4989" stroke-linecap="round"/>
<line x1="211.12" y1="483.92" x2="211.85" y2="483.69" stroke="#3e4989" stroke-linecap="round"/>
<line x1="211.85" y1="483.69" x2="212.58" y2="483.46" stroke="#3e4989" stroke-linecap="round"/>
<line x1="212.58" y1="483.46" x2="213.31" y2="483.23" stroke="#3e4989" stroke-linecap="round"/>
<line x1="213.31" y1="483.23" x2="214.04" y2="483.00" stroke="#3e4a89" stroke-linecap="round"/>
<line x1="214.04" y1="483.00" x2="214.77" y2="482.77" stroke="#3e4a89" stroke-linecap="round"/>
<line x1="214.77" y1="482.77" x2="215.50" y2="482.54" stroke="#3e4c8a" stroke-linecap="round"/>
<line x1="215.50" y1="482.54" x2="216.23" y2="482.31" stroke="#3d4d8a" stroke-linecap="round"/>
<line x1="216.23" y1="482.31" x2="216.96" y2="482.08" stroke="#3d4d8a" stroke-linecap="round"/>
<line x1="216.96" y1="482.08" x2="217.69" y2="481.85" stroke="#3d4e8a" stroke-linecap="round"/>
<line x1="217.69" y1="481.85" x2="218.42" y2="481.63" stroke="#3c4f8a" stroke-linecap="round"/>
<line x1="218.42" y1="481.63" x2="219.15" y2="481.40" stroke="#3b518b" stroke-linecap="round"/>
<line x1="219.15" y1="481.40" x2="219.88" y2="481.17" stroke="#3b528b" stroke-linecap="round"/>
<line x1="219.88" y1="481.17" x2="220.61" y2="480.95" stroke="#3a538b" stroke-linecap="round"/>
<line x1="220.61" y1="480.95" x2="221.34" y2="480.72" stroke="#3a548c" stroke-linecap="round"/>
<line x1="221.34" y1="480.72" x2="222.07" y2="480.50" stroke="#39558c" stroke-linecap="round"/>
<line x1="222.07" y1="480.50" x2="222.80" y2="480.28" stroke="#38588c" stroke-linecap="round"/>
<line x1="222.80" y1="480.28" x2="223.53" y2="480.06" stroke="#38598c" stroke-linecap="round"/>
<line x1="223.53" y1="480.06" x2="224.26" y2="479.84" stroke="#375a8c" stroke-linecap="round"/>
<line x1="224.26" y1="479.84" x2="224.99" y2="479.62" stroke="#375b8d" stroke-linecap="round"/>
<line x1="224.99" y1="479.62" x2="225.73" y2="479.40" stroke="#365c8d" stroke-linecap="round"/>
<line x1="225.73" y1="479.40" x2="226.46" y2="479.18" stroke="#355e8d" stroke-linecap="round"/>
<line x1="226.46" y1="479.18" x2="227.19" y2="478.96" stroke="#355f8d" stroke-linecap="round"/>
<line x1="227.19" y1="478.96" x2="227.92" y2="478.75" stroke="#34608d" stroke-linecap="round"/>
<line x1="227.92" y1="478.75" x2="228.65" y2="478.53" stroke="#33628d" stroke-linecap="round"/>
<line x1="228.65" y1="478.53" x2="229.38" y2="478.32" stroke="#33638d" stroke-linecap="round"/>
<line x1="229.38" y1="478.32" x2="230.11" y2="478.11" stroke="#32658e" stroke-linecap="round"/>
<line x1="230.11" y1="478.11" x2="230.84" y2="477.90" stroke="#31668e" stroke-linecap="round"/>
<line x1="230.84" y1="477.90" x2="231.57" y2="477.69" stroke="#31688e" stroke-linecap="round"/>
<line x1="231.57" y1="477.69" x2="232.30" y2="477.48" stroke="#30698e" stroke-linecap="round"/>
<line x1="232.30" y1="477.48" x2="233.03" y2="477.27" stroke="#2f6b8e" stroke-linecap="round"/>
<line x1="233.03" y1="477.27" x2="233.76" y2="477.06" stroke="#2f6c8e" stroke-linecap="round"/>
<line x1="233.76" y1="477.06" x2="234.49" y2="476.86" stroke="#2e6e8e" stroke-linecap="round"/>
<line x1="234.49" y1="476.86" x2="235.22" y2="476.66" stroke="#2d708e" stroke-linecap="round"/>
<line x1="235.22" y1="476.66" x2="235.95" y2="476.45" stroke="#2c718e" stroke-linecap="round"/>
<line x1="235.95" y1="476.45" x2="236.68" y2="476.26" stroke="#2c728e" stroke-linecap="round"/>
<line x1="236.68" y1="476.26" x2="237.41" y2="476.06" stroke="#2b748e" stroke-linecap="round"/>
<line x1="237.41" y1="476.06" x2="238.14" y2="475.86" stroke="#2a768e" stroke-linecap="round"/>
<line x1="238.14" y1="475.86" x2="238.87" y2="475.66" stroke="#2a788e" stroke-linecap="round"/>
<line x1="238.87" y1="475.66" x2="239.60" y2="475.47" stroke="#29798e" stroke-linecap="round"/>
<line x1="239.60" y1="475.47" x2="240.33" y2="475.28" stroke="#297b8e" stroke-linecap="round"/>
<line x1="240.33" y1="475.28" x2="241.06" y2="475.09" stroke="#287d8e" stroke-linecap="round"/>
<line x1="241.06" y1="475.09" x2="241.79" y2="474.90" stroke="#277f8e" stroke-linecap="round"/>
<line x1="241.79" y1="474.90" x2="242.52" y2="474.71" stroke="#26818e" stroke-linecap="round"/>
<line x1="242.52" y1="474.71" x2="243.25" y2="474.53" stroke="#25838e" stroke-linecap="round"/>
<line x1="243.25" y1="474.53" x2="243.98" y2="474.35" stroke="#25858e" stroke-linecap="round"/>
<line x1="243.98" y1="474.35" x2="244.71" y2="474.17" stroke="#24878e" stroke-linecap="round"/>
<line x1="244.71" y1="474.17" x2="245.44" y2="473.99" stroke="#23898e" stroke-linecap="round"/>
<line x1="245.44" y1="473.99" x2="246.17" y2="473.81" stroke="#228b8d" stroke-linecap="round"/>
<line x1="246.17" y1="473.81" x2="246.90" y2="473.63" stroke="#228d8d" stroke-linecap="round"/>
<line x1="246.90" y1="473.63" x2="247.63" y2="473.46" stroke="#21908d" stroke-linecap="round"/>
<line x1="247.63" y1="473.46" x2="248.36" y2="473.29" stroke="#20928c" stroke-linecap="round"/>
<line x1="248.36" y1="473.29" x2="249.09" y2="473.12" stroke="#20938c" stroke-linecap="round"/>
<line x1="249.09" y1="473.12" x2="249.82" y2="472.95" stroke="#1f968b" stroke-linecap="round"/>
<line x1="249.82" y1="472.95" x2="250.55" y2="472.79" stroke="#1f988b" stroke-linecap="round"/>
<line x1="250.55" y1="472.79" x2="251.28" y2="472.63" stroke="#1e9b8a" stroke-linecap="round"/>
<line x1="251.28" y1="472.63" x2="252.01" y2="472.47" stroke="#1e9d89" stroke-linecap="round"/>
<line x1="252.01" y1="472.47" x2="252.74" y2="472.31" stroke="#1fa088" stroke-linecap="round"/>
<line x1="252.74" y1="472.31" x2="253.47" y2="472.15" stroke="#1fa187" stroke-linecap="round"/>
<line x1="253.47" y1="472.15" x2="254.20" y2="472.00" stroke="#20a486" stroke-linecap="round"/>
<line x1="254.20" y1="472.00" x2="254.93" y2="471.85" stroke="#22a785" stroke-linecap="round"/>
<line x1="254.93" y1="471.85" x2="255.66" y2="471.70" stroke="#23a983" stroke-linecap="round"/>
<line x1="255.66" y1="471.70" x2="256.39" y2="471.56" stroke="#25ac82" stroke-linecap="round"/>
<line x1="256.39" y1="471.56" x2="257.12" y2="471.41" stroke="#28ae80" stroke-linecap="round"/>
<line x1="257.12" y1="471.41" x2="257.85" y2="471.27" stroke="#2cb17e" stroke-linecap="round"/>
<line x1="257.85" y1="471.27" x2="258.58" y2="471.13" stroke="#2eb37c" stroke-linecap="round"/>
<line x1="258.58" y1="471.13" x2="259.31" y2="471.00" stroke="#32b67a" stroke-linecap="round"/>
<line x1="259.31" y1="471.00" x2="260.04" y2="470.87" stroke="#37b878" stroke-linecap="round"/>
<line x1="260.04" y1="470.87" x2="260.77" y2="470.73" stroke="#3bbb75" stroke-linecap="round"/>
<line x1="260.77" y1="470.73" x2="261.50" y2="470.61" stroke="#40bd72" stroke-linecap="round"/>
</g>
<polyline points="43.20,506.35 44.30,506.86 45.39,507.37 46.49,507.87 47.59,508.36 48.68,508.85 49.78,509.32 50.88,509.80 51.98,510.26 53.07,510.71 54.17,511.16 55.27,511.61 56.36,512.04 57.46,512.47 58.56,512.89 59.65,513.30 60.75,513.71 61.85,514.11 62.95,514.50 64.04,514.88 65.14,515.26 66.24,515.63 67.33,515.99 68.43,516.35 69.53,516.70 70.62,517.04 71.72,517.37 72.82,517.70 73.92,518.02 75.01,518.34 76.11,518.64 77.21,518.94 78.30,519.23 79.40,519.52 80.50,519.80 81.59,520.07 82.69,520.34 83.79,520.59 84.89,520.84 85.98,521.09 87.08,521.32 88.18,521.55 89.27,521.78 90.37,521.99 91.47,522.20 92.56,522.40 93.66,522.60 94.76,522.79 95.86,522.97 96.95,523.14 98.05,523.31 99.15,523.47 100.24,523.62 101.34,523.77 102.44,523.91 103.53,524.05 104.63,524.17 105.73,524.29 106.83,524.40 107.92,524.51 109.02,524.61 110.12,524.70 111.21,524.79 112.31,524.87 113.41,524.94 114.50,525.01 115.60,525.06 116.70,525.12 117.79,525.16 118.89,525.20 119.99,525.23 121.09,525.26 122.18,525.28 123.28,525.29 124.38,525.29 125.47,525.29 126.57,525.28 127.67,525.27 128.76,525.25 129.86,525.22 130.96,525.18 132.06,525.14 133.15,525.09 134.25,525.04 135.35,524.98 136.44,524.91 137.54,524.84 138.64,524.76 139.73,524.67 140.83,524.57 141.93,524.47 143.03,524.37 144.12,524.25 145.22,524.13 146.32,524.01 147.41,523.87 148.51,523.73 149.61,523.59 150.70,523.44 151.80,523.28 152.90,523.11 154.00,522.94 155.09,522.76 156.19,522.58 157.29,522.38 158.38,522.19 159.48,521.98 160.58,521.77 161.67,521.56 162.77,521.33 163.87,521.10 164.97,520.87 166.06,520.62 167.16,520.38 168.26,520.12 169.35,519.86 170.45,519.59 171.55,519.32 172.64,519.04 173.74,518.75 174.84,518.46 175.94,518.16 177.03,517.85 178.13,517.54 179.23,517.22 180.32,516.90 181.42,516.57 182.52,516.23 183.61,515.89 184.71,515.54 185.81,515.18 186.91,514.82 188.00,514.45 189.10,514.08 190.20,513.70 191.29,513.31 192.39,512.92 193.49,512.52 194.58,512.12 195.68,511.71 196.78,511.29 197.87,510.87 198.97,510.44 200.07,510.00 201.17,509.56 202.26,509.11 203.36,508.66 204.46,508.20 205.55,507.73 206.65,507.26 207.75,506.78 208.84,506.30 209.94,505.81 211.04,505.31 212.14,504.81 213.23,504.30 214.33,503.79 215.43,503.27 216.52,502.74 217.62,502.21 218.72,501.67 219.81,501.13 220.91,500.58 222.01,500.02 223.11,499.46 224.20,498.89 225.30,498.32 226.40,497.74 227.49,497.16 228.59,496.56 229.69,495.97 230.78,495.36 231.88,494.76 232.98,494.14 234.08,493.52 235.17,492.89 236.27,492.26 237.37,491.62 238.46,490.98 239.56,490.33 240.66,489.67 241.75,489.01 242.85,488.35 243.95,487.67 245.05,486.99 246.14,486.31 247.24,485.62 248.34,484.92 249.43,484.22 250.53,483.52 251.63,482.80 252.72,482.08 253.82,481.36 254.92,480.63 256.02,479.89 257.11,479.15 258.21,478.40 259.31,477.65 260.40,476.89 261.50,476.13" fill="none" stroke="#0000ff" stroke-width="1.7" stroke-linejoin="round" clip-path="url(#clipc)"/>
<polyline points="43.20,505.99 44.30,506.50 45.39,507.01 46.49,507.51 47.59,508.00 48.68,508.49 49.78,508.97 50.88,509.44 51.98,509.91 53.07,510.37 54.17,510.83 55.27,511.28 56.36,511.72 57.46,512.15 58.56,512.58 59.65,513.01 60.75,513.42 61.85,513.83 62.95,514.23 64.04,514.63 65.14,515.01 66.24,515.39 67.33,515.77 68.43,516.13 69.53,516.49 70.62,516.84 71.72,517.18 72.82,517.52 73.92,517.84 75.01,518.16 76.11,518.47 77.21,518.78 78.30,519.07 79.40,519.36 80.50,519.64 81.59,519.91 82.69,520.17 83.79,520.43 84.89,520.67 85.98,520.91 87.08,521.14 88.18,521.36 89.27,521.57 90.37,521.78 91.47,521.97 92.56,522.15 93.66,522.33 94.76,522.50 95.86,522.65 96.95,522.80 98.05,522.94 99.15,523.07 100.24,523.19 101.34,523.30 102.44,523.40 103.53,523.49 104.63,523.57 105.73,523.64 106.83,523.70 107.92,523.76 109.02,523.80 110.12,523.83 111.21,523.85 112.31,523.86 113.41,523.86 114.50,523.85 115.60,523.83 116.70,523.80 117.79,523.76 118.89,523.71 119.99,523.64 121.09,523.57 122.18,523.48 123.28,523.39 124.38,523.28 125.47,523.16 126.57,523.03 127.67,522.89 128.76,522.74 129.86,522.58 130.96,522.40 132.06,522.22 133.15,522.02 134.25,521.81 135.35,521.59 136.44,521.35 137.54,521.11 138.64,520.85 139.73,520.58 140.83,520.30 141.93,520.00 143.03,519.70 144.12,519.38 145.22,519.05 146.32,518.70 147.41,518.35 148.51,517.98 149.61,517.60 150.70,517.20 151.80,516.80 152.90,516.38 154.00,515.94 155.09,515.50 156.19,515.04 157.29,514.56 158.38,514.08 159.48,513.58 160.58,513.06 161.67,512.54 162.77,512.00 163.87,511.45 164.97,510.88 166.06,510.30 167.16,509.71 168.26,509.10 169.35,508.49 170.45,507.86 171.55,507.22 172.64,506.56 173.74,505.90 174.84,505.22 175.94,504.54 177.03,503.84 178.13,503.13 179.23,502.41 180.32,501.68 181.42,500.93 182.52,500.18 183.61,499.42 184.71,498.65 185.81,497.87 186.91,497.08 188.00,496.28 189.10,495.47 190.20,494.65 191.29,493.82 192.39,492.99 193.49,492.14 194.58,491.29 195.68,490.43 196.78,489.56 197.87,488.68 198.97,487.80 200.07,486.91 201.17,486.01 202.26,485.10 203.36,484.19 204.46,483.27 205.55,482.35 206.65,481.41 207.75,480.47 208.84,479.53 209.94,478.58 211.04,477.62 212.14,476.66 213.23,475.69 214.33,474.72 215.43,473.75 216.52,472.76 217.62,471.78 218.72,470.79 219.81,469.79 220.91,468.79 222.01,467.79 223.11,466.78 224.20,465.77 225.30,464.76 226.40,463.74 227.49,462.72 228.59,461.70 229.69,460.67 230.78,459.65 231.88,458.62 232.98,457.58 234.08,456.55 235.17,455.51 236.27,454.48 237.37,453.44 238.46,452.40 239.56,451.36 240.66,450.31 241.75,449.27 242.85,448.23 243.95,447.18 245.05,446.14 246.14,445.09 247.24,444.05 248.34,443.01 249.43,441.96 250.53,440.92 251.63,439.88 252.72,438.84 253.82,437.80 254.92,436.76 256.02,435.73 257.11,434.69 258.21,433.66 259.31,432.63 260.40,431.60 261.50,430.58" fill="none" stroke="#ff0000" stroke-width="1.7" stroke-linejoin="round" clip-path="url(#clipc)"/>
<g clip-path="url(#clipd)" fill="#000">
<circle cx="441.1" cy="513.7" r="2.6"/>
<circle cx="441.9" cy="518.2" r="2.6"/>
<circle cx="475.7" cy="522.2" r="2.6"/>
<circle cx="486.9" cy="522.7" r="2.6"/>
<circle cx="486.9" cy="526.5" r="2.6"/>
<circle cx="498.1" cy="517.2" r="2.6"/>
<circle cx="498.9" cy="546.6" r="2.6"/>
<circle cx="516.2" cy="522.2" r="2.6"/>
<circle cx="547.7" cy="526.4" r="2.6"/>
<circle cx="581.9" cy="519.5" r="2.6"/>
<circle cx="560.8" cy="463.2" r="2.6"/>
<circle cx="586.7" cy="445.5" r="2.6"/>
<circle cx="590.2" cy="457.6" r="2.6"/>
<circle cx="597.5" cy="376.8" r="2.6"/>
</g>
<g clip-path="url(#clipd)" fill="none" stroke-width="2.6" stroke-linecap="butt">
<line x1="403.60" y1="505.95" x2="404.33" y2="506.29" stroke="#25848e" stroke-linecap="round"/>
<line x1="404.33" y1="506.29" x2="405.06" y2="506.62" stroke="#25848e" stroke-linecap="round"/>
<line x1="405.06" y1="506.62" x2="405.79" y2="506.95" stroke="#25848e" stroke-linecap="round"/>
<line x1="405.79" y1="506.95" x2="406.52" y2="507.27" stroke="#25848e" stroke-linecap="round"/>
<line x1="406.52" y1="507.27" x2="407.25" y2="507.59" stroke="#25848e" stroke-linecap="round"/>
<line x1="407.25" y1="507.59" x2="407.98" y2="507.91" stroke="#25848e" stroke-linecap="round"/>
<line x1="407.98" y1="507.91" x2="408.71" y2="508.23" stroke="#25848e" stroke-linecap="round"/>
<line x1="408.71" y1="508.23" x2="409.44" y2="508.54" stroke="#25848e" stroke-linecap="round"/>
<line x1="409.44" y1="508.54" x2="410.17" y2="508.84" stroke="#25848e" stroke-linecap="round"/>
<line x1="410.17" y1="508.84" x2="410.90" y2="509.15" stroke="#25848e" stroke-linecap="round"/>
<line x1="410.90" y1="509.15" x2="411.63" y2="509.45" stroke="#25848e" stroke-linecap="round"/>
<line x1="411.63" y1="509.45" x2="412.37" y2="509.75" stroke="#25848e" stroke-linecap="round"/>
<line x1="412.37" y1="509.75" x2="413.10" y2="510.04" stroke="#25848e" stroke-linecap="round"/>
<line x1="413.10" y1="510.04" x2="413.83" y2="510.33" stroke="#25848e" stroke-linecap="round"/>
<line x1="413.83" y1="510.33" x2="414.56" y2="510.62" stroke="#25848e" stroke-linecap="round"/>
<line x1="414.56" y1="510.62" x2="415.29" y2="510.91" stroke="#25848e" stroke-linecap="round"/>
<line x1="415.29" y1="510.91" x2="416.02" y2="511.19" stroke="#25848e" stroke-linecap="round"/>
<line x1="416.02" y1="511.19" x2="416.75" y2="511.47" stroke="#25848e" stroke-linecap="round"/>
<line x1="416.75" y1="511.47" x2="417.48" y2="511.74" stroke="#25848e" stroke-linecap="round"/>
<line x1="417.48" y1="511.74" x2="418.21" y2="512.02" stroke="#25848e" stroke-linecap="round"/>
<line x1="418.21" y1="512.02" x2="418.94" y2="512.29" stroke="#25848e" stroke-linecap="round"/>
<line x1="418.94" y1="512.29" x2="419.67" y2="512.55" stroke="#25848e" stroke-linecap="round"/>
<line x1="419.67" y1="512.55" x2="420.40" y2="512.82" stroke="#25848e" stroke-linecap="round"/>
<line x1="420.40" y1="512.82" x2="421.13" y2="513.08" stroke="#25848e" stroke-linecap="round"/>
<line x1="421.13" y1="513.08" x2="421.86" y2="513.34" stroke="#25848e" stroke-linecap="round"/>
<line x1="421.86" y1="513.34" x2="422.59" y2="513.59" stroke="#25848e" stroke-linecap="round"/>
<line x1="422.59" y1="513.59" x2="423.32" y2="513.85" stroke="#25848e" stroke-linecap="round"/>
<line x1="423.32" y1="513.85" x2="424.05" y2="514.10" stroke="#25848e" stroke-linecap="round"/>
<line x1="424.05" y1="514.10" x2="424.78" y2="514.35" stroke="#25848e" stroke-linecap="round"/>
<line x1="424.78" y1="514.35" x2="425.51" y2="514.59" stroke="#25848e" stroke-linecap="round"/>
<line x1="425.51" y1="514.59" x2="426.24" y2="514.83" stroke="#25848e" stroke-linecap="round"/>
<line x1="426.24" y1="514.83" x2="426.97" y2="515.07" stroke="#25848e" stroke-linecap="round"/>
<line x1="426.97" y1="515.07" x2="427.70" y2="515.31" stroke="#25848e" stroke-linecap="round"/>
<line x1="427.70" y1="515.31" x2="428.43" y2="515.55" stroke="#25848e" stroke-linecap="round"/>
<line x1="428.43" y1="515.55" x2="429.17" y2="515.78" stroke="#25848e" stroke-linecap="round"/>
<line x1="429.17" y1="515.78" x2="429.90" y2="516.01" stroke="#25848e" stroke-linecap="round"/>
<line x1="429.90" y1="516.01" x2="430.63" y2="516.24" stroke="#25848e" stroke-linecap="round"/>
<line x1="430.63" y1="516.24" x2="431.36" y2="516.47" stroke="#25848e" stroke-linecap="round"/>
<line x1="431.36" y1="516.47" x2="432.09" y2="516.69" stroke="#25848e" stroke-linecap="round"/>
<line x1="432.09" y1="516.69" x2="432.82" y2="516.91" stroke="#25848e" stroke-linecap="round"/>
<line x1="432.82" y1="516.91" x2="433.55" y2="517.13" stroke="#25848e" stroke-linecap="round"/>
<line x1="433.55" y1="517.13" x2="434.28" y2="517.35" stroke="#25848e" stroke-linecap="round"/>
<line x1="434.28" y1="517.35" x2="435.01" y2="517.56" stroke="#25848e" stroke-linecap="round"/>
<line x1="435.01" y1="517.56" x2="435.74" y2="517.77" stroke="#25848e" stroke-linecap="round"/>
<line x1="435.74" y1="517.77" x2="436.47" y2="517.98" stroke="#25848e" stroke-linecap="round"/>
<line x1="436.47" y1="517.98" x2="437.20" y2="518.19" stroke="#25848e" stroke-linecap="round"/>
<line x1="437.20" y1="518.19" x2="437.93" y2="518.40" stroke="#25848e" stroke-linecap="round"/>
<line x1="437.93" y1="518.40" x2="438.66" y2="518.60" stroke="#25848e" stroke-linecap="round"/>
<line x1="438.66" y1="518.60" x2="439.39" y2="518.81" stroke="#25848e" stroke-linecap="round"/>
<line x1="439.39" y1="518.81" x2="440.12" y2="519.01" stroke="#25848e" stroke-linecap="round"/>
<line x1="440.12" y1="519.01" x2="440.85" y2="519.21" stroke="#25848e" stroke-linecap="round"/>
<line x1="440.85" y1="519.21" x2="441.58" y2="519.40" stroke="#25848e" stroke-linecap="round"/>
<line x1="441.58" y1="519.40" x2="442.31" y2="519.60" stroke="#25848e" stroke-linecap="round"/>
<line x1="442.31" y1="519.60" x2="443.04" y2="519.79" stroke="#25848e" stroke-linecap="round"/>
<line x1="443.04" y1="519.79" x2="443.77" y2="519.98" stroke="#25848e" stroke-linecap="round"/>
<line x1="443.77" y1="519.98" x2="444.50" y2="520.17" stroke="#25848e" stroke-linecap="round"/>
<line x1="444.50" y1="520.17" x2="445.23" y2="520.36" stroke="#25848e" stroke-linecap="round"/>
<line x1="445.23" y1="520.36" x2="445.97" y2="520.55" stroke="#25848e" stroke-linecap="round"/>
<line x1="445.97" y1="520.55" x2="446.70" y2="520.73" stroke="#25848e" stroke-linecap="round"/>
<line x1="446.70" y1="520.73" x2="447.43" y2="520.91" stroke="#25848e" stroke-linecap="round"/>
<line x1="447.43" y1="520.91" x2="448.16" y2="521.10" stroke="#25848e" stroke-linecap="round"/>
<line x1="448.16" y1="521.10" x2="448.89" y2="521.28" stroke="#25848e" stroke-linecap="round"/>
<line x1="448.89" y1="521.28" x2="449.62" y2="521.45" stroke="#25848e" stroke-linecap="round"/>
<line x1="449.62" y1="521.45" x2="450.35" y2="521.63" stroke="#25848e" stroke-linecap="round"/>
<line x1="450.35" y1="521.63" x2="451.08" y2="521.81" stroke="#25848e" stroke-linecap="round"/>
<line x1="451.08" y1="521.81" x2="451.81" y2="521.98" stroke="#25848e" stroke-linecap="round"/>
<line x1="451.81" y1="521.98" x2="452.54" y2="522.15" stroke="#25848e" stroke-linecap="round"/>
<line x1="452.54" y1="522.15" x2="453.27" y2="522.33" stroke="#25848e" stroke-linecap="round"/>
<line x1="453.27" y1="522.33" x2="454.00" y2="522.50" stroke="#25848e" stroke-linecap="round"/>
<line x1="454.00" y1="522.50" x2="454.73" y2="522.67" stroke="#25848e" stroke-linecap="round"/>
<line x1="454.73" y1="522.67" x2="455.46" y2="522.83" stroke="#25848e" stroke-linecap="round"/>
<line x1="455.46" y1="522.83" x2="456.19" y2="523.00" stroke="#25848e" stroke-linecap="round"/>
<line x1="456.19" y1="523.00" x2="456.92" y2="523.17" stroke="#25848e" stroke-linecap="round"/>
<line x1="456.92" y1="523.17" x2="457.65" y2="523.33" stroke="#25848e" stroke-linecap="round"/>
<line x1="457.65" y1="523.33" x2="458.38" y2="523.50" stroke="#25848e" stroke-linecap="round"/>
<line x1="458.38" y1="523.50" x2="459.11" y2="523.66" stroke="#25848e" stroke-linecap="round"/>
<line x1="459.11" y1="523.66" x2="459.84" y2="523.82" stroke="#25848e" stroke-linecap="round"/>
<line x1="459.84" y1="523.82" x2="460.57" y2="523.98" stroke="#25848e" stroke-linecap="round"/>
<line x1="460.57" y1="523.98" x2="461.30" y2="524.14" stroke="#25848e" stroke-linecap="round"/>
<line x1="461.30" y1="524.14" x2="462.03" y2="524.30" stroke="#25848e" stroke-linecap="round"/>
<line x1="462.03" y1="524.30" x2="462.77" y2="524.46" stroke="#25848e" stroke-linecap="round"/>
<line x1="462.77" y1="524.46" x2="463.50" y2="524.61" stroke="#25848e" stroke-linecap="round"/>
<line x1="463.50" y1="524.61" x2="464.23" y2="524.77" stroke="#25848e" stroke-linecap="round"/>
<line x1="464.23" y1="524.77" x2="464.96" y2="524.93" stroke="#25848e" stroke-linecap="round"/>
<line x1="464.96" y1="524.93" x2="465.69" y2="525.08" stroke="#25848e" stroke-linecap="round"/>
<line x1="465.69" y1="525.08" x2="466.42" y2="525.23" stroke="#25848e" stroke-linecap="round"/>
<line x1="466.42" y1="525.23" x2="467.15" y2="525.39" stroke="#25848e" stroke-linecap="round"/>
<line x1="467.15" y1="525.39" x2="467.88" y2="525.54" stroke="#25848e" stroke-linecap="round"/>
<line x1="467.88" y1="525.54" x2="468.61" y2="525.69" stroke="#25848e" stroke-linecap="round"/>
<line x1="468.61" y1="525.69" x2="469.34" y2="525.84" stroke="#25848e" stroke-linecap="round"/>
<line x1="469.34" y1="525.84" x2="470.07" y2="525.99" stroke="#25848e" stroke-linecap="round"/>
<line x1="470.07" y1="525.99" x2="470.80" y2="526.14" stroke="#25848e" stroke-linecap="round"/>
<line x1="470.80" y1="526.14" x2="471.53" y2="526.29" stroke="#25848e" stroke-linecap="round"/>
<line x1="471.53" y1="526.29" x2="472.26" y2="526.44" stroke="#25848e" stroke-linecap="round"/>
<line x1="472.26" y1="526.44" x2="472.99" y2="526.59" stroke="#25848e" stroke-linecap="round"/>
<line x1="472.99" y1="526.59" x2="473.72" y2="526.73" stroke="#25848e" stroke-linecap="round"/>
<line x1="473.72" y1="526.73" x2="474.45" y2="526.88" stroke="#25848e" stroke-linecap="round"/>
<line x1="474.45" y1="526.88" x2="475.18" y2="527.02" stroke="#25848e" stroke-linecap="round"/>
<line x1="475.18" y1="527.02" x2="475.91" y2="527.16" stroke="#25848e" stroke-linecap="round"/>
<line x1="475.91" y1="527.16" x2="476.64" y2="527.30" stroke="#25848e" stroke-linecap="round"/>
<line x1="476.64" y1="527.30" x2="477.37" y2="527.44" stroke="#25848e" stroke-linecap="round"/>
<line x1="477.37" y1="527.44" x2="478.10" y2="527.58" stroke="#25848e" stroke-linecap="round"/>
<line x1="478.10" y1="527.58" x2="478.83" y2="527.72" stroke="#25848e" stroke-linecap="round"/>
<line x1="478.83" y1="527.72" x2="479.57" y2="527.85" stroke="#25848e" stroke-linecap="round"/>
<line x1="479.57" y1="527.85" x2="480.30" y2="527.99" stroke="#25848e" stroke-linecap="round"/>
<line x1="480.30" y1="527.99" x2="481.03" y2="528.12" stroke="#25848e" stroke-linecap="round"/>
<line x1="481.03" y1="528.12" x2="481.76" y2="528.25" stroke="#25848e" stroke-linecap="round"/>
<line x1="481.76" y1="528.25" x2="482.49" y2="528.38" stroke="#25848e" stroke-linecap="round"/>
<line x1="482.49" y1="528.38" x2="483.22" y2="528.50" stroke="#25848e" stroke-linecap="round"/>
<line x1="483.22" y1="528.50" x2="483.95" y2="528.63" stroke="#25848e" stroke-linecap="round"/>
<line x1="483.95" y1="528.63" x2="484.68" y2="528.75" stroke="#25848e" stroke-linecap="round"/>
<line x1="484.68" y1="528.75" x2="485.41" y2="528.87" stroke="#25848e" stroke-linecap="round"/>
<line x1="485.41" y1="528.87" x2="486.14" y2="528.99" stroke="#25848e" stroke-linecap="round"/>
<line x1="486.14" y1="528.99" x2="486.87" y2="529.11" stroke="#25848e" stroke-linecap="round"/>
<line x1="486.87" y1="529.11" x2="487.60" y2="529.22" stroke="#25848e" stroke-linecap="round"/>
<line x1="487.60" y1="529.22" x2="488.33" y2="529.33" stroke="#25848e" stroke-linecap="round"/>
<line x1="488.33" y1="529.33" x2="489.06" y2="529.44" stroke="#25848e" stroke-linecap="round"/>
<line x1="489.06" y1="529.44" x2="489.79" y2="529.55" stroke="#25848e" stroke-linecap="round"/>
<line x1="489.79" y1="529.55" x2="490.52" y2="529.65" stroke="#25848e" stroke-linecap="round"/>
<line x1="490.52" y1="529.65" x2="491.25" y2="529.76" stroke="#25848e" stroke-linecap="round"/>
<line x1="491.25" y1="529.76" x2="491.98" y2="529.86" stroke="#25848e" stroke-linecap="round"/>
<line x1="491.98" y1="529.86" x2="492.71" y2="529.95" stroke="#25848e" stroke-linecap="round"/>
<line x1="492.71" y1="529.95" x2="493.44" y2="530.05" stroke="#25848e" stroke-linecap="round"/>
<line x1="493.44" y1="530.05" x2="494.17" y2="530.14" stroke="#25848e" stroke-linecap="round"/>
<line x1="494.17" y1="530.14" x2="494.90" y2="530.23" stroke="#25848e" stroke-linecap="round"/>
<line x1="494.90" y1="530.23" x2="495.63" y2="530.31" stroke="#25848e" stroke-linecap="round"/>
<line x1="495.63" y1="530.31" x2="496.37" y2="530.40" stroke="#25848e" stroke-linecap="round"/>
<line x1="496.37" y1="530.40" x2="497.10" y2="530.48" stroke="#25848e" stroke-linecap="round"/>
<line x1="497.10" y1="530.48" x2="497.83" y2="530.55" stroke="#25848e" stroke-linecap="round"/>
<line x1="497.83" y1="530.55" x2="498.56" y2="530.63" stroke="#25848e" stroke-linecap="round"/>
<line x1="498.56" y1="530.63" x2="499.29" y2="530.70" stroke="#25848e" stroke-linecap="round"/>
<line x1="499.29" y1="530.70" x2="500.02" y2="530.77" stroke="#25848e" stroke-linecap="round"/>
<line x1="500.02" y1="530.77" x2="500.75" y2="530.83" stroke="#25848e" stroke-linecap="round"/>
<line x1="500.75" y1="530.83" x2="501.48" y2="530.89" stroke="#25848e" stroke-linecap="round"/>
<line x1="501.48" y1="530.89" x2="502.21" y2="530.95" stroke="#25848e" stroke-linecap="round"/>
<line x1="502.21" y1="530.95" x2="502.94" y2="531.00" stroke="#25848e" stroke-linecap="round"/>
<line x1="502.94" y1="531.00" x2="503.67" y2="531.05" stroke="#25848e" stroke-linecap="round"/>
<line x1="503.67" y1="531.05" x2="504.40" y2="531.10" stroke="#25848e" stroke-linecap="round"/>
<line x1="504.40" y1="531.10" x2="505.13" y2="531.14" stroke="#25848e" stroke-linecap="round"/>
<line x1="505.13" y1="531.14" x2="505.86" y2="531.18" stroke="#25848e" stroke-linecap="round"/>
<line x1="505.86" y1="531.18" x2="506.59" y2="531.21" stroke="#25848e" stroke-linecap="round"/>
<line x1="506.59" y1="531.21" x2="507.32" y2="531.24" stroke="#25848e" stroke-linecap="round"/>
<line x1="507.32" y1="531.24" x2="508.05" y2="531.26" stroke="#25848e" stroke-linecap="round"/>
<line x1="508.05" y1="531.26" x2="508.78" y2="531.28" stroke="#25858e" stroke-linecap="round"/>
<line x1="508.78" y1="531.28" x2="509.51" y2="531.30" stroke="#25858e" stroke-linecap="round"/>
<line x1="509.51" y1="531.30" x2="510.24" y2="531.30" stroke="#25858e" stroke-linecap="round"/>
<line x1="510.24" y1="531.30" x2="510.97" y2="531.31" stroke="#25858e" stroke-linecap="round"/>
<line x1="510.97" y1="531.31" x2="511.70" y2="531.30" stroke="#25858e" stroke-linecap="round"/>
<line x1="511.70" y1="531.30" x2="512.43" y2="531.29" stroke="#25858e" stroke-linecap="round"/>
<line x1="512.43" y1="531.29" x2="513.17" y2="531.28" stroke="#25858e" stroke-linecap="round"/>
<line x1="513.17" y1="531.28" x2="513.90" y2="531.26" stroke="#24868e" stroke-linecap="round"/>
<line x1="513.90" y1="531.26" x2="514.63" y2="531.23" stroke="#24868e" stroke-linecap="round"/>
<line x1="514.63" y1="531.23" x2="515.36" y2="531.20" stroke="#24868e" stroke-linecap="round"/>
<line x1="515.36" y1="531.20" x2="516.09" y2="531.16" stroke="#24868e" stroke-linecap="round"/>
<line x1="516.09" y1="531.16" x2="516.82" y2="531.11" stroke="#24878e" stroke-linecap="round"/>
<line x1="516.82" y1="531.11" x2="517.55" y2="531.06" stroke="#23888e" stroke-linecap="round"/>
<line x1="517.55" y1="531.06" x2="518.28" y2="530.99" stroke="#238a8d" stroke-linecap="round"/>
<line x1="518.28" y1="530.99" x2="519.01" y2="530.93" stroke="#228d8d" stroke-linecap="round"/>
<line x1="519.01" y1="530.93" x2="519.74" y2="530.85" stroke="#21908d" stroke-linecap="round"/>
<line x1="519.74" y1="530.85" x2="520.47" y2="530.77" stroke="#20938c" stroke-linecap="round"/>
<line x1="520.47" y1="530.77" x2="521.20" y2="530.68" stroke="#1f968b" stroke-linecap="round"/>
<line x1="521.20" y1="530.68" x2="521.93" y2="530.58" stroke="#1f9a8a" stroke-linecap="round"/>
<line x1="521.93" y1="530.58" x2="522.66" y2="530.47" stroke="#1e9d89" stroke-linecap="round"/>
<line x1="522.66" y1="530.47" x2="523.39" y2="530.36" stroke="#1fa188" stroke-linecap="round"/>
<line x1="523.39" y1="530.36" x2="524.12" y2="530.23" stroke="#20a386" stroke-linecap="round"/>
<line x1="524.12" y1="530.23" x2="524.85" y2="530.10" stroke="#22a785" stroke-linecap="round"/>
<line x1="524.85" y1="530.10" x2="525.58" y2="529.96" stroke="#25ac82" stroke-linecap="round"/>
<line x1="525.58" y1="529.96" x2="526.31" y2="529.81" stroke="#29af7f" stroke-linecap="round"/>
<line x1="526.31" y1="529.81" x2="527.04" y2="529.66" stroke="#2eb37c" stroke-linecap="round"/>
<line x1="527.04" y1="529.66" x2="527.77" y2="529.49" stroke="#34b679" stroke-linecap="round"/>
<line x1="527.77" y1="529.49" x2="528.50" y2="529.31" stroke="#3aba76" stroke-linecap="round"/>
<line x1="528.50" y1="529.31" x2="529.23" y2="529.13" stroke="#3fbc73" stroke-linecap="round"/>
<line x1="529.23" y1="529.13" x2="529.97" y2="528.93" stroke="#46c06f" stroke-linecap="round"/>
<line x1="529.97" y1="528.93" x2="530.70" y2="528.73" stroke="#4ec36b" stroke-linecap="round"/>
<line x1="530.70" y1="528.73" x2="531.43" y2="528.51" stroke="#56c667" stroke-linecap="round"/>
<line x1="531.43" y1="528.51" x2="532.16" y2="528.29" stroke="#5ec962" stroke-linecap="round"/>
<line x1="532.16" y1="528.29" x2="532.89" y2="528.05" stroke="#65cb5e" stroke-linecap="round"/>
<line x1="532.89" y1="528.05" x2="533.62" y2="527.81" stroke="#69cd5b" stroke-linecap="round"/>
<line x1="533.62" y1="527.81" x2="534.35" y2="527.55" stroke="#6ece58" stroke-linecap="round"/>
<line x1="534.35" y1="527.55" x2="535.08" y2="527.29" stroke="#6ece58" stroke-linecap="round"/>
<line x1="535.08" y1="527.29" x2="535.81" y2="527.01" stroke="#6ccd5a" stroke-linecap="round"/>
<line x1="535.81" y1="527.01" x2="536.54" y2="526.72" stroke="#65cb5e" stroke-linecap="round"/>
<line x1="536.54" y1="526.72" x2="537.27" y2="526.42" stroke="#5cc863" stroke-linecap="round"/>
<line x1="537.27" y1="526.42" x2="538.00" y2="526.11" stroke="#50c46a" stroke-linecap="round"/>
<line x1="538.00" y1="526.11" x2="538.73" y2="525.79" stroke="#44bf70" stroke-linecap="round"/>
<line x1="538.73" y1="525.79" x2="539.46" y2="525.46" stroke="#3aba76" stroke-linecap="round"/>
<line x1="539.46" y1="525.46" x2="540.19" y2="525.12" stroke="#31b57b" stroke-linecap="round"/>
<line x1="540.19" y1="525.12" x2="540.92" y2="524.76" stroke="#28ae80" stroke-linecap="round"/>
<line x1="540.92" y1="524.76" x2="541.65" y2="524.40" stroke="#23a983" stroke-linecap="round"/>
<line x1="541.65" y1="524.40" x2="542.38" y2="524.02" stroke="#1fa287" stroke-linecap="round"/>
<line x1="542.38" y1="524.02" x2="543.11" y2="523.64" stroke="#1f9a8a" stroke-linecap="round"/>
<line x1="543.11" y1="523.64" x2="543.84" y2="523.24" stroke="#20928c" stroke-linecap="round"/>
<line x1="543.84" y1="523.24" x2="544.57" y2="522.83" stroke="#228d8d" stroke-linecap="round"/>
<line x1="544.57" y1="522.83" x2="545.30" y2="522.41" stroke="#23898e" stroke-linecap="round"/>
<line x1="545.30" y1="522.41" x2="546.03" y2="521.98" stroke="#23898e" stroke-linecap="round"/>
<line x1="546.03" y1="521.98" x2="546.77" y2="521.54" stroke="#23888e" stroke-linecap="round"/>
<line x1="546.77" y1="521.54" x2="547.50" y2="521.09" stroke="#23888e" stroke-linecap="round"/>
<line x1="547.50" y1="521.09" x2="548.23" y2="520.63" stroke="#23888e" stroke-linecap="round"/>
<line x1="548.23" y1="520.63" x2="548.96" y2="520.15" stroke="#24878e" stroke-linecap="round"/>
<line x1="548.96" y1="520.15" x2="549.69" y2="519.67" stroke="#24878e" stroke-linecap="round"/>
<line x1="549.69" y1="519.67" x2="550.42" y2="519.17" stroke="#24878e" stroke-linecap="round"/>
<line x1="550.42" y1="519.17" x2="551.15" y2="518.67" stroke="#24878e" stroke-linecap="round"/>
<line x1="551.15" y1="518.67" x2="551.88" y2="518.15" stroke="#24868e" stroke-linecap="round"/>
<line x1="551.88" y1="518.15" x2="552.61" y2="517.62" stroke="#24868e" stroke-linecap="round"/>
<line x1="552.61" y1="517.62" x2="553.34" y2="517.08" stroke="#24868e" stroke-linecap="round"/>
<line x1="553.34" y1="517.08" x2="554.07" y2="516.53" stroke="#24868e" stroke-linecap="round"/>
<line x1="554.07" y1="516.53" x2="554.80" y2="515.97" stroke="#25858e" stroke-linecap="round"/>
<line x1="554.80" y1="515.97" x2="555.53" y2="515.40" stroke="#25858e" stroke-linecap="round"/>
<line x1="555.53" y1="515.40" x2="556.26" y2="514.81" stroke="#25858e" stroke-linecap="round"/>
<line x1="556.26" y1="514.81" x2="556.99" y2="514.22" stroke="#25858e" stroke-linecap="round"/>
<line x1="556.99" y1="514.22" x2="557.72" y2="513.61" stroke="#25858e" stroke-linecap="round"/>
<line x1="557.72" y1="513.61" x2="558.45" y2="513.00" stroke="#25858e" stroke-linecap="round"/>
<line x1="558.45" y1="513.00" x2="559.18" y2="512.37" stroke="#25858e" stroke-linecap="round"/>
<line x1="559.18" y1="512.37" x2="559.91" y2="511.73" stroke="#25848e" stroke-linecap="round"/>
<line x1="559.91" y1="511.73" x2="560.64" y2="511.08" stroke="#25848e" stroke-linecap="round"/>
<line x1="560.64" y1="511.08" x2="561.37" y2="510.42" stroke="#25848e" stroke-linecap="round"/>
<line x1="561.37" y1="510.42" x2="562.10" y2="509.75" stroke="#25848e" stroke-linecap="round"/>
<line x1="562.10" y1="509.75" x2="562.83" y2="509.07" stroke="#25848e" stroke-linecap="round"/>
<line x1="562.83" y1="509.07" x2="563.57" y2="508.37" stroke="#25848e" stroke-linecap="round"/>
<line x1="563.57" y1="508.37" x2="564.30" y2="507.67" stroke="#25848e" stroke-linecap="round"/>
<line x1="564.30" y1="507.67" x2="565.03" y2="506.96" stroke="#25848e" stroke-linecap="round"/>
<line x1="565.03" y1="506.96" x2="565.76" y2="506.23" stroke="#25848e" stroke-linecap="round"/>
<line x1="565.76" y1="506.23" x2="566.49" y2="505.50" stroke="#25848e" stroke-linecap="round"/>
<line x1="566.49" y1="505.50" x2="567.22" y2="504.76" stroke="#25848e" stroke-linecap="round"/>
<line x1="567.22" y1="504.76" x2="567.95" y2="504.00" stroke="#25848e" stroke-linecap="round"/>
<line x1="567.95" y1="504.00" x2="568.68" y2="503.24" stroke="#25848e" stroke-linecap="round"/>
<line x1="568.68" y1="503.24" x2="569.41" y2="502.47" stroke="#25848e" stroke-linecap="round"/>
<line x1="569.41" y1="502.47" x2="570.14" y2="501.68" stroke="#25848e" stroke-linecap="round"/>
<line x1="570.14" y1="501.68" x2="570.87" y2="500.89" stroke="#25848e" stroke-linecap="round"/>
<line x1="570.87" y1="500.89" x2="571.60" y2="500.09" stroke="#25848e" stroke-linecap="round"/>
<line x1="571.60" y1="500.09" x2="572.33" y2="499.28" stroke="#25848e" stroke-linecap="round"/>
<line x1="572.33" y1="499.28" x2="573.06" y2="498.46" stroke="#25848e" stroke-linecap="round"/>
<line x1="573.06" y1="498.46" x2="573.79" y2="497.63" stroke="#25848e" stroke-linecap="round"/>
<line x1="573.79" y1="497.63" x2="574.52" y2="496.80" stroke="#25848e" stroke-linecap="round"/>
<line x1="574.52" y1="496.80" x2="575.25" y2="495.95" stroke="#25848e" stroke-linecap="round"/>
<line x1="575.25" y1="495.95" x2="575.98" y2="495.10" stroke="#25848e" stroke-linecap="round"/>
<line x1="575.98" y1="495.10" x2="576.71" y2="494.23" stroke="#25848e" stroke-linecap="round"/>
<line x1="576.71" y1="494.23" x2="577.44" y2="493.36" stroke="#25848e" stroke-linecap="round"/>
<line x1="577.44" y1="493.36" x2="578.17" y2="492.48" stroke="#25848e" stroke-linecap="round"/>
<line x1="578.17" y1="492.48" x2="578.90" y2="491.60" stroke="#25848e" stroke-linecap="round"/>
<line x1="578.90" y1="491.60" x2="579.63" y2="490.70" stroke="#25848e" stroke-linecap="round"/>
<line x1="579.63" y1="490.70" x2="580.37" y2="489.80" stroke="#25848e" stroke-linecap="round"/>
<line x1="580.37" y1="489.80" x2="581.10" y2="488.89" stroke="#25848e" stroke-linecap="round"/>
<line x1="581.10" y1="488.89" x2="581.83" y2="487.98" stroke="#25848e" stroke-linecap="round"/>
<line x1="581.83" y1="487.98" x2="582.56" y2="487.06" stroke="#25848e" stroke-linecap="round"/>
<line x1="582.56" y1="487.06" x2="583.29" y2="486.13" stroke="#25848e" stroke-linecap="round"/>
<line x1="583.29" y1="486.13" x2="584.02" y2="485.19" stroke="#25858e" stroke-linecap="round"/>
<line x1="584.02" y1="485.19" x2="584.75" y2="484.25" stroke="#25858e" stroke-linecap="round"/>
<line x1="584.75" y1="484.25" x2="585.48" y2="483.30" stroke="#25858e" stroke-linecap="round"/>
<line x1="585.48" y1="483.30" x2="586.21" y2="482.35" stroke="#25858e" stroke-linecap="round"/>
<line x1="586.21" y1="482.35" x2="586.94" y2="481.39" stroke="#25858e" stroke-linecap="round"/>
<line x1="586.94" y1="481.39" x2="587.67" y2="480.42" stroke="#25858e" stroke-linecap="round"/>
<line x1="587.67" y1="480.42" x2="588.40" y2="479.45" stroke="#24868e" stroke-linecap="round"/>
<line x1="588.40" y1="479.45" x2="589.13" y2="478.47" stroke="#24868e" stroke-linecap="round"/>
<line x1="589.13" y1="478.47" x2="589.86" y2="477.49" stroke="#24868e" stroke-linecap="round"/>
<line x1="589.86" y1="477.49" x2="590.59" y2="476.51" stroke="#24868e" stroke-linecap="round"/>
<line x1="590.59" y1="476.51" x2="591.32" y2="475.52" stroke="#24868e" stroke-linecap="round"/>
<line x1="591.32" y1="475.52" x2="592.05" y2="474.52" stroke="#24878e" stroke-linecap="round"/>
<line x1="592.05" y1="474.52" x2="592.78" y2="473.52" stroke="#23888e" stroke-linecap="round"/>
<line x1="592.78" y1="473.52" x2="593.51" y2="472.52" stroke="#238a8d" stroke-linecap="round"/>
<line x1="593.51" y1="472.52" x2="594.24" y2="471.51" stroke="#228c8d" stroke-linecap="round"/>
<line x1="594.24" y1="471.51" x2="594.97" y2="470.50" stroke="#218e8d" stroke-linecap="round"/>
<line x1="594.97" y1="470.50" x2="595.70" y2="469.49" stroke="#21908d" stroke-linecap="round"/>
<line x1="595.70" y1="469.49" x2="596.43" y2="468.47" stroke="#20928c" stroke-linecap="round"/>
<line x1="596.43" y1="468.47" x2="597.17" y2="467.45" stroke="#1f948c" stroke-linecap="round"/>
<line x1="597.17" y1="467.45" x2="597.90" y2="466.43" stroke="#1f968b" stroke-linecap="round"/>
<line x1="597.90" y1="466.43" x2="598.63" y2="465.41" stroke="#1f998a" stroke-linecap="round"/>
<line x1="598.63" y1="465.41" x2="599.36" y2="464.38" stroke="#1e9c89" stroke-linecap="round"/>
<line x1="599.36" y1="464.38" x2="600.09" y2="463.35" stroke="#1f9f88" stroke-linecap="round"/>
<line x1="600.09" y1="463.35" x2="600.82" y2="462.32" stroke="#1fa187" stroke-linecap="round"/>
<line x1="600.82" y1="462.32" x2="601.55" y2="461.28" stroke="#20a486" stroke-linecap="round"/>
<line x1="601.55" y1="461.28" x2="602.28" y2="460.25" stroke="#22a785" stroke-linecap="round"/>
<line x1="602.28" y1="460.25" x2="603.01" y2="459.21" stroke="#25ab82" stroke-linecap="round"/>
<line x1="603.01" y1="459.21" x2="603.74" y2="458.17" stroke="#27ad81" stroke-linecap="round"/>
<line x1="603.74" y1="458.17" x2="604.47" y2="457.13" stroke="#2ab07f" stroke-linecap="round"/>
<line x1="604.47" y1="457.13" x2="605.20" y2="456.09" stroke="#2eb37c" stroke-linecap="round"/>
<line x1="605.20" y1="456.09" x2="605.93" y2="455.05" stroke="#32b67a" stroke-linecap="round"/>
<line x1="605.93" y1="455.05" x2="606.66" y2="454.01" stroke="#37b878" stroke-linecap="round"/>
<line x1="606.66" y1="454.01" x2="607.39" y2="452.97" stroke="#3bbb75" stroke-linecap="round"/>
<line x1="607.39" y1="452.97" x2="608.12" y2="451.93" stroke="#40bd72" stroke-linecap="round"/>
<line x1="608.12" y1="451.93" x2="608.85" y2="450.89" stroke="#46c06f" stroke-linecap="round"/>
<line x1="608.85" y1="450.89" x2="609.58" y2="449.85" stroke="#4cc26c" stroke-linecap="round"/>
<line x1="609.58" y1="449.85" x2="610.31" y2="448.81" stroke="#52c569" stroke-linecap="round"/>
<line x1="610.31" y1="448.81" x2="611.04" y2="447.77" stroke="#58c765" stroke-linecap="round"/>
<line x1="611.04" y1="447.77" x2="611.77" y2="446.73" stroke="#5ec962" stroke-linecap="round"/>
<line x1="611.77" y1="446.73" x2="612.50" y2="445.69" stroke="#65cb5e" stroke-linecap="round"/>
<line x1="612.50" y1="445.69" x2="613.23" y2="444.65" stroke="#6ccd5a" stroke-linecap="round"/>
<line x1="613.23" y1="444.65" x2="613.97" y2="443.62" stroke="#73d056" stroke-linecap="round"/>
<line x1="613.97" y1="443.62" x2="614.70" y2="442.58" stroke="#7ad151" stroke-linecap="round"/>
<line x1="614.70" y1="442.58" x2="615.43" y2="441.55" stroke="#81d34d" stroke-linecap="round"/>
<line x1="615.43" y1="441.55" x2="616.16" y2="440.52" stroke="#89d548" stroke-linecap="round"/>
<line x1="616.16" y1="440.52" x2="616.89" y2="439.50" stroke="#93d741" stroke-linecap="round"/>
<line x1="616.89" y1="439.50" x2="617.62" y2="438.47" stroke="#9bd93c" stroke-linecap="round"/>
<line x1="617.62" y1="438.47" x2="618.35" y2="437.45" stroke="#a2da37" stroke-linecap="round"/>
<line x1="618.35" y1="437.45" x2="619.08" y2="436.43" stroke="#aadc32" stroke-linecap="round"/>
<line x1="619.08" y1="436.43" x2="619.81" y2="435.41" stroke="#b2dd2d" stroke-linecap="round"/>
<line x1="619.81" y1="435.41" x2="620.54" y2="434.40" stroke="#bade28" stroke-linecap="round"/>
<line x1="620.54" y1="434.40" x2="621.27" y2="433.39" stroke="#c5e021" stroke-linecap="round"/>
<line x1="621.27" y1="433.39" x2="622.00" y2="432.38" stroke="#cde11d" stroke-linecap="round"/>
</g>
<polyline points="403.60,505.46 404.70,505.52 405.79,505.58 406.89,505.65 407.99,505.71 409.09,505.76 410.18,505.82 411.28,505.87 412.38,505.93 413.48,505.98 414.57,506.03 415.67,506.08 416.77,506.12 417.87,506.17 418.96,506.21 420.06,506.25 421.16,506.29 422.26,506.32 423.35,506.36 424.45,506.39 425.55,506.42 426.65,506.45 427.74,506.48 428.84,506.50 429.94,506.52 431.04,506.54 432.13,506.56 433.23,506.58 434.33,506.59 435.43,506.60 436.52,506.61 437.62,506.62 438.72,506.62 439.82,506.62 440.91,506.62 442.01,506.62 443.11,506.61 444.21,506.61 445.30,506.60 446.40,506.58 447.50,506.57 448.60,506.55 449.69,506.53 450.79,506.51 451.89,506.48 452.99,506.45 454.08,506.42 455.18,506.38 456.28,506.35 457.38,506.31 458.47,506.26 459.57,506.22 460.67,506.17 461.77,506.12 462.86,506.06 463.96,506.01 465.06,505.95 466.16,505.88 467.25,505.82 468.35,505.75 469.45,505.67 470.55,505.60 471.64,505.52 472.74,505.44 473.84,505.35 474.94,505.26 476.03,505.17 477.13,505.07 478.23,504.97 479.33,504.87 480.42,504.77 481.52,504.66 482.62,504.55 483.72,504.43 484.81,504.31 485.91,504.19 487.01,504.06 488.11,503.93 489.20,503.80 490.30,503.66 491.40,503.52 492.50,503.37 493.59,503.22 494.69,503.07 495.79,502.92 496.89,502.76 497.98,502.59 499.08,502.42 500.18,502.25 501.28,502.08 502.37,501.90 503.47,501.71 504.57,501.53 505.67,501.34 506.76,501.14 507.86,500.94 508.96,500.74 510.06,500.53 511.15,500.32 512.25,500.11 513.35,499.89 514.45,499.67 515.54,499.44 516.64,499.21 517.74,498.98 518.84,498.74 519.93,498.50 521.03,498.25 522.13,498.00 523.23,497.75 524.32,497.50 525.42,497.23 526.52,496.97 527.62,496.70 528.71,496.43 529.81,496.16 530.91,495.88 532.01,495.59 533.10,495.31 534.20,495.02 535.30,494.72 536.40,494.42 537.49,494.12 538.59,493.82 539.69,493.51 540.79,493.19 541.88,492.88 542.98,492.56 544.08,492.23 545.18,491.91 546.27,491.57 547.37,491.24 548.47,490.90 549.57,490.56 550.66,490.21 551.76,489.86 552.86,489.51 553.96,489.15 555.05,488.79 556.15,488.43 557.25,488.06 558.35,487.69 559.44,487.31 560.54,486.93 561.64,486.55 562.74,486.16 563.83,485.78 564.93,485.38 566.03,484.99 567.13,484.58 568.22,484.18 569.32,483.77 570.42,483.36 571.52,482.95 572.61,482.53 573.71,482.11 574.81,481.68 575.91,481.25 577.00,480.82 578.10,480.39 579.20,479.95 580.30,479.50 581.39,479.06 582.49,478.61 583.59,478.15 584.69,477.70 585.78,477.24 586.88,476.77 587.98,476.31 589.08,475.83 590.17,475.36 591.27,474.88 592.37,474.40 593.47,473.92 594.56,473.43 595.66,472.94 596.76,472.44 597.86,471.94 598.95,471.44 600.05,470.94 601.15,470.43 602.25,469.92 603.34,469.40 604.44,468.88 605.54,468.36 606.64,467.84 607.73,467.31 608.83,466.78 609.93,466.24 611.03,465.70 612.12,465.16 613.22,464.61 614.32,464.06 615.42,463.51 616.51,462.96 617.61,462.40 618.71,461.84 619.81,461.27 620.90,460.70 622.00,460.13" fill="none" stroke="#0000ff" stroke-width="1.7" stroke-linejoin="round" clip-path="url(#clipd)"/>
<polyline points="403.60,506.28 404.70,506.63 405.79,506.99 406.89,507.34 407.99,507.70 409.09,508.06 410.18,508.42 411.28,508.78 412.38,509.15 413.48,509.51 414.57,509.88 415.67,510.25 416.77,510.62 417.87,510.99 418.96,511.36 420.06,511.73 421.16,512.10 422.26,512.47 423.35,512.84 424.45,513.21 425.55,513.58 426.65,513.95 427.74,514.32 428.84,514.68 429.94,515.05 431.04,515.41 432.13,515.77 433.23,516.13 434.33,516.49 435.43,516.85 436.52,517.20 437.62,517.55 438.72,517.90 439.82,518.24 440.91,518.59 442.01,518.92 443.11,519.26 444.21,519.59 445.30,519.92 446.40,520.24 447.50,520.56 448.60,520.88 449.69,521.19 450.79,521.49 451.89,521.79 452.99,522.09 454.08,522.38 455.18,522.66 456.28,522.94 457.38,523.21 458.47,523.48 459.57,523.74 460.67,524.00 461.77,524.25 462.86,524.49 463.96,524.72 465.06,524.95 466.16,525.17 467.25,525.38 468.35,525.59 469.45,525.78 470.55,525.97 471.64,526.15 472.74,526.33 473.84,526.49 474.94,526.65 476.03,526.79 477.13,526.93 478.23,527.06 479.33,527.18 480.42,527.29 481.52,527.38 482.62,527.47 483.72,527.55 484.81,527.62 485.91,527.68 487.01,527.73 488.11,527.76 489.20,527.79 490.30,527.80 491.40,527.81 492.50,527.80 493.59,527.78 494.69,527.75 495.79,527.70 496.89,527.64 497.98,527.57 499.08,527.49 500.18,527.40 501.28,527.29 502.37,527.17 503.47,527.03 504.57,526.89 505.67,526.72 506.76,526.55 507.86,526.36 508.96,526.15 510.06,525.94 511.15,525.70 512.25,525.45 513.35,525.19 514.45,524.91 515.54,524.62 516.64,524.31 517.74,523.98 518.84,523.64 519.93,523.28 521.03,522.91 522.13,522.52 523.23,522.11 524.32,521.69 525.42,521.25 526.52,520.79 527.62,520.31 528.71,519.82 529.81,519.30 530.91,518.77 532.01,518.21 533.10,517.64 534.20,517.04 535.30,516.42 536.40,515.78 537.49,515.12 538.59,514.43 539.69,513.72 540.79,512.98 541.88,512.22 542.98,511.43 544.08,510.62 545.18,509.78 546.27,508.92 547.37,508.02 548.47,507.10 549.57,506.15 550.66,505.18 551.76,504.17 552.86,503.13 553.96,502.06 555.05,500.96 556.15,499.83 557.25,498.67 558.35,497.47 559.44,496.24 560.54,494.98 561.64,493.69 562.74,492.36 563.83,490.99 564.93,489.59 566.03,488.15 567.13,486.68 568.22,485.18 569.32,483.64 570.42,482.07 571.52,480.47 572.61,478.83 573.71,477.17 574.81,475.47 575.91,473.75 577.00,472.00 578.10,470.22 579.20,468.41 580.30,466.57 581.39,464.71 582.49,462.83 583.59,460.92 584.69,458.98 585.78,457.03 586.88,455.05 587.98,453.04 589.08,451.02 590.17,448.98 591.27,446.92 592.37,444.84 593.47,442.75 594.56,440.64 595.66,438.51 596.76,436.38 597.86,434.23 598.95,432.08 600.05,429.91 601.15,427.74 602.25,425.55 603.34,423.37 604.44,421.18 605.54,418.98 606.64,416.79 607.73,414.59 608.83,412.39 609.93,410.19 611.03,408.00 612.12,405.81 613.22,403.63 614.32,401.45 615.42,399.28 616.51,397.11 617.61,394.96 618.71,392.81 619.81,390.68 620.90,388.56 622.00,386.46" fill="none" stroke="#ff0000" stroke-width="1.7" stroke-linejoin="round" clip-path="url(#clipd)"/>
<line x1="43.0" y1="13.0" x2="43.0" y2="246.0" stroke="#000" stroke-width="1.3"/>
<line x1="261.5" y1="13.0" x2="261.5" y2="246.0" stroke="#000" stroke-width="1.0"/>
<line x1="42.5" y1="13.5" x2="262.0" y2="13.5" stroke="#000" stroke-width="1.0"/>
<line x1="42.5" y1="245.5" x2="262.0" y2="245.5" stroke="#000" stroke-width="1.05"/>
<line x1="403.0" y1="13.0" x2="403.0" y2="246.0" stroke="#000" stroke-width="1.3"/>
<line x1="621.5" y1="13.0" x2="621.5" y2="246.0" stroke="#000" stroke-width="1.0"/>
<line x1="402.5" y1="13.5" x2="622.0" y2="13.5" stroke="#000" stroke-width="1.0"/>
<line x1="402.5" y1="245.5" x2="622.0" y2="245.5" stroke="#000" stroke-width="1.05"/>
<line x1="43.0" y1="320.0" x2="43.0" y2="553.0" stroke="#000" stroke-width="1.3"/>
<line x1="261.5" y1="320.0" x2="261.5" y2="553.0" stroke="#000" stroke-width="1.0"/>
<line x1="42.5" y1="320.5" x2="262.0" y2="320.5" stroke="#000" stroke-width="1.0"/>
<line x1="42.5" y1="552.5" x2="262.0" y2="552.5" stroke="#000" stroke-width="1.05"/>
<line x1="403.5" y1="320.0" x2="403.5" y2="553.0" stroke="#000" stroke-width="1.0"/>
<line x1="622.0" y1="320.0" x2="622.0" y2="553.0" stroke="#000" stroke-width="1.3"/>
<line x1="403.0" y1="320.5" x2="622.5" y2="320.5" stroke="#000" stroke-width="1.0"/>
<line x1="403.0" y1="552.5" x2="622.5" y2="552.5" stroke="#000" stroke-width="1.05"/>
<line x1="40.0" y1="21.50" x2="43.0" y2="21.50" stroke="#000" stroke-width="0.8"/>
<text x="19.29" y="25.10" font-size="9.5" font-family='"Liberation Serif", serif' fill="#000" textLength="19.01" lengthAdjust="spacingAndGlyphs">0.12</text>
<line x1="40.0" y1="53.50" x2="43.0" y2="53.50" stroke="#000" stroke-width="0.8"/>
<text x="19.29" y="57.10" font-size="9.5" font-family='"Liberation Serif", serif' fill="#000" textLength="18.82" lengthAdjust="spacingAndGlyphs">0.10</text>
<line x1="40.0" y1="85.50" x2="43.0" y2="85.50" stroke="#000" stroke-width="0.8"/>
<text x="19.29" y="89.10" font-size="9.5" font-family='"Liberation Serif", serif' fill="#000" textLength="18.82" lengthAdjust="spacingAndGlyphs">0.08</text>
<line x1="40.0" y1="117.50" x2="43.0" y2="117.50" stroke="#000" stroke-width="0.8"/>
<text x="19.29" y="121.10" font-size="9.5" font-family='"Liberation Serif", serif' fill="#000" textLength="18.73" lengthAdjust="spacingAndGlyphs">0.06</text>
<line x1="40.0" y1="149.50" x2="43.0" y2="149.50" stroke="#000" stroke-width="0.8"/>
<text x="19.30" y="153.10" font-size="9.5" font-family='"Liberation Serif", serif' fill="#000" textLength="18.57" lengthAdjust="spacingAndGlyphs">0.04</text>
<line x1="40.0" y1="181.50" x2="43.0" y2="181.50" stroke="#000" stroke-width="0.8"/>
<text x="19.29" y="185.10" font-size="9.5" font-family='"Liberation Serif", serif' fill="#000" textLength="19.01" lengthAdjust="spacingAndGlyphs">0.02</text>
<line x1="40.0" y1="213.50" x2="43.0" y2="213.50" stroke="#000" stroke-width="0.8"/>
<text x="19.29" y="217.10" font-size="9.5" font-family='"Liberation Serif", serif' fill="#000" textLength="18.82" lengthAdjust="spacingAndGlyphs">0.00</text>
<line x1="40.0" y1="245.50" x2="43.0" y2="245.50" stroke="#000" stroke-width="0.8"/>
<text x="12.55" y="249.10" font-size="9.5" font-family='"Liberation Serif", serif' fill="#000" textLength="25.77" lengthAdjust="spacingAndGlyphs">−0.02</text>
<line x1="400.0" y1="21.50" x2="403.0" y2="21.50" stroke="#000" stroke-width="0.8"/>
<text x="379.29" y="25.10" font-size="9.5" font-family='"Liberation Serif", serif' fill="#000" textLength="19.01" lengthAdjust="spacingAndGlyphs">0.12</text>
<line x1="400.0" y1="53.50" x2="403.0" y2="53.50" stroke="#000" stroke-width="0.8"/>
<text x="379.29" y="57.10" font-size="9.5" font-family='"Liberation Serif", serif' fill="#000" textLength="18.82" lengthAdjust="spacingAndGlyphs">0.10</text>
<line x1="400.0" y1="85.50" x2="403.0" y2="85.50" stroke="#000" stroke-width="0.8"/>
<text x="379.29" y="89.10" font-size="9.5" font-family='"Liberation Serif", serif' fill="#000" textLength="18.82" lengthAdjust="spacingAndGlyphs">0.08</text>
<line x1="400.0" y1="117.50" x2="403.0" y2="117.50" stroke="#000" stroke-width="0.8"/>
<text x="379.29" y="121.10" font-size="9.5" font-family='"Liberation Serif", serif' fill="#000" textLength="18.73" lengthAdjust="spacingAndGlyphs">0.06</text>
<line x1="400.0" y1="149.50" x2="403.0" y2="149.50" stroke="#000" stroke-width="0.8"/>
<text x="379.30" y="153.10" font-size="9.5" font-family='"Liberation Serif", serif' fill="#000" textLength="18.57" lengthAdjust="spacingAndGlyphs">0.04</text>
<line x1="400.0" y1="181.50" x2="403.0" y2="181.50" stroke="#000" stroke-width="0.8"/>
<text x="379.29" y="185.10" font-size="9.5" font-family='"Liberation Serif", serif' fill="#000" textLength="19.01" lengthAdjust="spacingAndGlyphs">0.02</text>
<line x1="400.0" y1="213.50" x2="403.0" y2="213.50" stroke="#000" stroke-width="0.8"/>
<text x="379.29" y="217.10" font-size="9.5" font-family='"Liberation Serif", serif' fill="#000" textLength="18.82" lengthAdjust="spacingAndGlyphs">0.00</text>
<line x1="400.0" y1="245.50" x2="403.0" y2="245.50" stroke="#000" stroke-width="0.8"/>
<text x="372.55" y="249.10" font-size="9.5" font-family='"Liberation Serif", serif' fill="#000" textLength="25.77" lengthAdjust="spacingAndGlyphs">−0.02</text>
<line x1="40.0" y1="320.50" x2="43.0" y2="320.50" stroke="#000" stroke-width="0.8"/>
<text x="19.29" y="324.10" font-size="9.5" font-family='"Liberation Serif", serif' fill="#000" textLength="19.01" lengthAdjust="spacingAndGlyphs">0.12</text>
<line x1="40.0" y1="351.43" x2="43.0" y2="351.43" stroke="#000" stroke-width="0.8"/>
<text x="19.29" y="355.03" font-size="9.5" font-family='"Liberation Serif", serif' fill="#000" textLength="18.82" lengthAdjust="spacingAndGlyphs">0.10</text>
<line x1="40.0" y1="382.36" x2="43.0" y2="382.36" stroke="#000" stroke-width="0.8"/>
<text x="19.29" y="385.96" font-size="9.5" font-family='"Liberation Serif", serif' fill="#000" textLength="18.82" lengthAdjust="spacingAndGlyphs">0.08</text>
<line x1="40.0" y1="413.30" x2="43.0" y2="413.30" stroke="#000" stroke-width="0.8"/>
<text x="19.29" y="416.90" font-size="9.5" font-family='"Liberation Serif", serif' fill="#000" textLength="18.73" lengthAdjust="spacingAndGlyphs">0.06</text>
<line x1="40.0" y1="444.23" x2="43.0" y2="444.23" stroke="#000" stroke-width="0.8"/>
<text x="19.30" y="447.83" font-size="9.5" font-family='"Liberation Serif", serif' fill="#000" textLength="18.57" lengthAdjust="spacingAndGlyphs">0.04</text>
<line x1="40.0" y1="475.17" x2="43.0" y2="475.17" stroke="#000" stroke-width="0.8"/>
<text x="19.29" y="478.77" font-size="9.5" font-family='"Liberation Serif", serif' fill="#000" textLength="19.01" lengthAdjust="spacingAndGlyphs">0.02</text>
<line x1="40.0" y1="506.10" x2="43.0" y2="506.10" stroke="#000" stroke-width="0.8"/>
<text x="19.29" y="509.70" font-size="9.5" font-family='"Liberation Serif", serif' fill="#000" textLength="18.82" lengthAdjust="spacingAndGlyphs">0.00</text>
<line x1="40.0" y1="537.03" x2="43.0" y2="537.03" stroke="#000" stroke-width="0.8"/>
<text x="12.55" y="540.63" font-size="9.5" font-family='"Liberation Serif", serif' fill="#000" textLength="25.77" lengthAdjust="spacingAndGlyphs">−0.02</text>
<line x1="400.5" y1="320.50" x2="403.5" y2="320.50" stroke="#000" stroke-width="0.8"/>
<text x="379.79" y="324.10" font-size="9.5" font-family='"Liberation Serif", serif' fill="#000" textLength="19.01" lengthAdjust="spacingAndGlyphs">0.12</text>
<line x1="400.5" y1="351.43" x2="403.5" y2="351.43" stroke="#000" stroke-width="0.8"/>
<text x="379.79" y="355.03" font-size="9.5" font-family='"Liberation Serif", serif' fill="#000" textLength="18.82" lengthAdjust="spacingAndGlyphs">0.10</text>
<line x1="400.5" y1="382.36" x2="403.5" y2="382.36" stroke="#000" stroke-width="0.8"/>
<text x="379.79" y="385.96" font-size="9.5" font-family='"Liberation Serif", serif' fill="#000" textLength="18.82" lengthAdjust="spacingAndGlyphs">0.08</text>
<line x1="400.5" y1="413.30" x2="403.5" y2="413.30" stroke="#000" stroke-width="0.8"/>
<text x="379.79" y="416.90" font-size="9.5" font-family='"Liberation Serif", serif' fill="#000" textLength="18.73" lengthAdjust="spacingAndGlyphs">0.06</text>
<line x1="400.5" y1="444.23" x2="403.5" y2="444.23" stroke="#000" stroke-width="0.8"/>
<text x="379.80" y="447.83" font-size="9.5" font-family='"Liberation Serif", serif' fill="#000" textLength="18.57" lengthAdjust="spacingAndGlyphs">0.04</text>
<line x1="400.5" y1="475.17" x2="403.5" y2="475.17" stroke="#000" stroke-width="0.8"/>
<text x="379.79" y="478.77" font-size="9.5" font-family='"Liberation Serif", serif' fill="#000" textLength="19.01" lengthAdjust="spacingAndGlyphs">0.02</text>
<line x1="400.5" y1="506.10" x2="403.5" y2="506.10" stroke="#000" stroke-width="0.8"/>
<text x="379.79" y="509.70" font-size="9.5" font-family='"Liberation Serif", serif' fill="#000" textLength="18.82" lengthAdjust="spacingAndGlyphs">0.00</text>
<line x1="400.5" y1="537.03" x2="403.5" y2="537.03" stroke="#000" stroke-width="0.8"/>
<text x="373.05" y="540.63" font-size="9.5" font-family='"Liberation Serif", serif' fill="#000" textLength="25.77" lengthAdjust="spacingAndGlyphs">−0.02</text>
<line x1="43.00" y1="245.5" x2="43.00" y2="248.5" stroke="#000" stroke-width="0.8"/>
<text x="33.43" y="257.25" font-size="9.5" font-family='"Liberation Serif", serif' fill="#000" textLength="19.13" lengthAdjust="spacingAndGlyphs">0.00</text>
<line x1="70.31" y1="245.5" x2="70.31" y2="248.5" stroke="#000" stroke-width="0.8"/>
<text x="60.75" y="257.25" font-size="9.5" font-family='"Liberation Serif", serif' fill="#000" textLength="19.14" lengthAdjust="spacingAndGlyphs">0.25</text>
<line x1="97.62" y1="245.5" x2="97.62" y2="248.5" stroke="#000" stroke-width="0.8"/>
<text x="88.06" y="257.25" font-size="9.5" font-family='"Liberation Serif", serif' fill="#000" textLength="19.13" lengthAdjust="spacingAndGlyphs">0.50</text>
<line x1="124.94" y1="245.5" x2="124.94" y2="248.5" stroke="#000" stroke-width="0.8"/>
<text x="115.37" y="257.25" font-size="9.5" font-family='"Liberation Serif", serif' fill="#000" textLength="19.14" lengthAdjust="spacingAndGlyphs">0.75</text>
<line x1="152.25" y1="245.5" x2="152.25" y2="248.5" stroke="#000" stroke-width="0.8"/>
<text x="142.11" y="257.25" font-size="9.5" font-family='"Liberation Serif", serif' fill="#000" textLength="19.72" lengthAdjust="spacingAndGlyphs">1.00</text>
<line x1="179.56" y1="245.5" x2="179.56" y2="248.5" stroke="#000" stroke-width="0.8"/>
<text x="169.42" y="257.25" font-size="9.5" font-family='"Liberation Serif", serif' fill="#000" textLength="19.73" lengthAdjust="spacingAndGlyphs">1.25</text>
<line x1="206.88" y1="245.5" x2="206.88" y2="248.5" stroke="#000" stroke-width="0.8"/>
<text x="196.73" y="257.25" font-size="9.5" font-family='"Liberation Serif", serif' fill="#000" textLength="19.72" lengthAdjust="spacingAndGlyphs">1.50</text>
<line x1="234.19" y1="245.5" x2="234.19" y2="248.5" stroke="#000" stroke-width="0.8"/>
<text x="224.05" y="257.25" font-size="9.5" font-family='"Liberation Serif", serif' fill="#000" textLength="19.73" lengthAdjust="spacingAndGlyphs">1.75</text>
<line x1="261.50" y1="245.5" x2="261.50" y2="248.5" stroke="#000" stroke-width="0.8"/>
<text x="251.87" y="257.25" font-size="9.5" font-family='"Liberation Serif", serif' fill="#000" textLength="19.20" lengthAdjust="spacingAndGlyphs">2.00</text>
<line x1="403.00" y1="245.5" x2="403.00" y2="248.5" stroke="#000" stroke-width="0.8"/>
<text x="393.43" y="257.25" font-size="9.5" font-family='"Liberation Serif", serif' fill="#000" textLength="19.13" lengthAdjust="spacingAndGlyphs">0.00</text>
<line x1="430.31" y1="245.5" x2="430.31" y2="248.5" stroke="#000" stroke-width="0.8"/>
<text x="420.75" y="257.25" font-size="9.5" font-family='"Liberation Serif", serif' fill="#000" textLength="19.14" lengthAdjust="spacingAndGlyphs">0.25</text>
<line x1="457.62" y1="245.5" x2="457.62" y2="248.5" stroke="#000" stroke-width="0.8"/>
<text x="448.06" y="257.25" font-size="9.5" font-family='"Liberation Serif", serif' fill="#000" textLength="19.13" lengthAdjust="spacingAndGlyphs">0.50</text>
<line x1="484.94" y1="245.5" x2="484.94" y2="248.5" stroke="#000" stroke-width="0.8"/>
<text x="475.37" y="257.25" font-size="9.5" font-family='"Liberation Serif", serif' fill="#000" textLength="19.14" lengthAdjust="spacingAndGlyphs">0.75</text>
<line x1="512.25" y1="245.5" x2="512.25" y2="248.5" stroke="#000" stroke-width="0.8"/>
<text x="502.11" y="257.25" font-size="9.5" font-family='"Liberation Serif", serif' fill="#000" textLength="19.72" lengthAdjust="spacingAndGlyphs">1.00</text>
<line x1="539.56" y1="245.5" x2="539.56" y2="248.5" stroke="#000" stroke-width="0.8"/>
<text x="529.42" y="257.25" font-size="9.5" font-family='"Liberation Serif", serif' fill="#000" textLength="19.73" lengthAdjust="spacingAndGlyphs">1.25</text>
<line x1="566.88" y1="245.5" x2="566.88" y2="248.5" stroke="#000" stroke-width="0.8"/>
<text x="556.73" y="257.25" font-size="9.5" font-family='"Liberation Serif", serif' fill="#000" textLength="19.72" lengthAdjust="spacingAndGlyphs">1.50</text>
<line x1="594.19" y1="245.5" x2="594.19" y2="248.5" stroke="#000" stroke-width="0.8"/>
<text x="584.05" y="257.25" font-size="9.5" font-family='"Liberation Serif", serif' fill="#000" textLength="19.73" lengthAdjust="spacingAndGlyphs">1.75</text>
<line x1="621.50" y1="245.5" x2="621.50" y2="248.5" stroke="#000" stroke-width="0.8"/>
<text x="611.87" y="257.25" font-size="9.5" font-family='"Liberation Serif", serif' fill="#000" textLength="19.20" lengthAdjust="spacingAndGlyphs">2.00</text>
<line x1="43.00" y1="552.5" x2="43.00" y2="555.5" stroke="#000" stroke-width="0.8"/>
<text x="36.40" y="564.25" font-size="9.5" font-family='"Liberation Serif", serif' fill="#000" textLength="13.20" lengthAdjust="spacingAndGlyphs">0.0</text>
<line x1="74.22" y1="552.5" x2="74.22" y2="555.5" stroke="#000" stroke-width="0.8"/>
<text x="67.61" y="564.25" font-size="9.5" font-family='"Liberation Serif", serif' fill="#000" textLength="13.22" lengthAdjust="spacingAndGlyphs">0.5</text>
<line x1="105.43" y1="552.5" x2="105.43" y2="555.5" stroke="#000" stroke-width="0.8"/>
<text x="98.26" y="564.25" font-size="9.5" font-family='"Liberation Serif", serif' fill="#000" textLength="13.79" lengthAdjust="spacingAndGlyphs">1.0</text>
<line x1="136.64" y1="552.5" x2="136.64" y2="555.5" stroke="#000" stroke-width="0.8"/>
<text x="129.47" y="564.25" font-size="9.5" font-family='"Liberation Serif", serif' fill="#000" textLength="13.80" lengthAdjust="spacingAndGlyphs">1.5</text>
<line x1="167.86" y1="552.5" x2="167.86" y2="555.5" stroke="#000" stroke-width="0.8"/>
<text x="161.19" y="564.25" font-size="9.5" font-family='"Liberation Serif", serif' fill="#000" textLength="13.27" lengthAdjust="spacingAndGlyphs">2.0</text>
<line x1="199.07" y1="552.5" x2="199.07" y2="555.5" stroke="#000" stroke-width="0.8"/>
<text x="192.41" y="564.25" font-size="9.5" font-family='"Liberation Serif", serif' fill="#000" textLength="13.28" lengthAdjust="spacingAndGlyphs">2.5</text>
<line x1="230.29" y1="552.5" x2="230.29" y2="555.5" stroke="#000" stroke-width="0.8"/>
<text x="223.58" y="564.25" font-size="9.5" font-family='"Liberation Serif", serif' fill="#000" textLength="13.32" lengthAdjust="spacingAndGlyphs">3.0</text>
<line x1="261.50" y1="552.5" x2="261.50" y2="555.5" stroke="#000" stroke-width="0.8"/>
<text x="254.79" y="564.25" font-size="9.5" font-family='"Liberation Serif", serif' fill="#000" textLength="13.33" lengthAdjust="spacingAndGlyphs">3.5</text>
<line x1="403.50" y1="552.5" x2="403.50" y2="555.5" stroke="#000" stroke-width="0.8"/>
<text x="396.90" y="564.25" font-size="9.5" font-family='"Liberation Serif", serif' fill="#000" textLength="13.20" lengthAdjust="spacingAndGlyphs">0.0</text>
<line x1="434.71" y1="552.5" x2="434.71" y2="555.5" stroke="#000" stroke-width="0.8"/>
<text x="428.11" y="564.25" font-size="9.5" font-family='"Liberation Serif", serif' fill="#000" textLength="13.22" lengthAdjust="spacingAndGlyphs">0.5</text>
<line x1="465.93" y1="552.5" x2="465.93" y2="555.5" stroke="#000" stroke-width="0.8"/>
<text x="458.76" y="564.25" font-size="9.5" font-family='"Liberation Serif", serif' fill="#000" textLength="13.79" lengthAdjust="spacingAndGlyphs">1.0</text>
<line x1="497.14" y1="552.5" x2="497.14" y2="555.5" stroke="#000" stroke-width="0.8"/>
<text x="489.97" y="564.25" font-size="9.5" font-family='"Liberation Serif", serif' fill="#000" textLength="13.80" lengthAdjust="spacingAndGlyphs">1.5</text>
<line x1="528.36" y1="552.5" x2="528.36" y2="555.5" stroke="#000" stroke-width="0.8"/>
<text x="521.69" y="564.25" font-size="9.5" font-family='"Liberation Serif", serif' fill="#000" textLength="13.27" lengthAdjust="spacingAndGlyphs">2.0</text>
<line x1="559.58" y1="552.5" x2="559.58" y2="555.5" stroke="#000" stroke-width="0.8"/>
<text x="552.91" y="564.25" font-size="9.5" font-family='"Liberation Serif", serif' fill="#000" textLength="13.28" lengthAdjust="spacingAndGlyphs">2.5</text>
<line x1="590.79" y1="552.5" x2="590.79" y2="555.5" stroke="#000" stroke-width="0.8"/>
<text x="584.08" y="564.25" font-size="9.5" font-family='"Liberation Serif", serif' fill="#000" textLength="13.32" lengthAdjust="spacingAndGlyphs">3.0</text>
<line x1="622.00" y1="552.5" x2="622.00" y2="555.5" stroke="#000" stroke-width="0.8"/>
<text x="615.29" y="564.25" font-size="9.5" font-family='"Liberation Serif", serif' fill="#000" textLength="13.33" lengthAdjust="spacingAndGlyphs">3.5</text>
<text x="39.22" y="9.20" font-size="12.9" font-family='"Liberation Serif", serif' fill="#000" textLength="45.89" lengthAdjust="spacingAndGlyphs">NBG-18</text>
<text x="89.92" y="9.20" font-size="12.9" font-family='"Liberation Serif", serif' fill="#000" textLength="35.34" lengthAdjust="spacingAndGlyphs">grade</text>
<text x="129.43" y="9.20" font-size="12.9" font-family='"Liberation Serif", serif' fill="#000" textLength="75.48" lengthAdjust="spacingAndGlyphs">Temperature</text>
<text x="209.02" y="9.20" font-size="12.9" font-family='"Liberation Serif", serif' fill="#000" textLength="9.94" lengthAdjust="spacingAndGlyphs">=</text>
<text x="222.59" y="9.20" font-size="12.9" font-family='"Liberation Serif", serif' fill="#000" textLength="29.88" lengthAdjust="spacingAndGlyphs">1150</text>
<text x="256.67" y="9.20" font-size="12.9" font-family='"Liberation Serif", serif' fill="#000" textLength="8.25" lengthAdjust="spacingAndGlyphs">K</text>
<text x="399.42" y="9.20" font-size="12.9" font-family='"Liberation Serif", serif' fill="#000" textLength="45.89" lengthAdjust="spacingAndGlyphs">NBG-18</text>
<text x="450.12" y="9.20" font-size="12.9" font-family='"Liberation Serif", serif' fill="#000" textLength="35.34" lengthAdjust="spacingAndGlyphs">grade</text>
<text x="489.63" y="9.20" font-size="12.9" font-family='"Liberation Serif", serif' fill="#000" textLength="75.48" lengthAdjust="spacingAndGlyphs">Temperature</text>
<text x="569.22" y="9.20" font-size="12.9" font-family='"Liberation Serif", serif' fill="#000" textLength="9.94" lengthAdjust="spacingAndGlyphs">=</text>
<text x="582.79" y="9.20" font-size="12.9" font-family='"Liberation Serif", serif' fill="#000" textLength="29.88" lengthAdjust="spacingAndGlyphs">1150</text>
<text x="616.87" y="9.20" font-size="12.9" font-family='"Liberation Serif", serif' fill="#000" textLength="8.25" lengthAdjust="spacingAndGlyphs">K</text>
<text x="42.79" y="315.80" font-size="12.9" font-family='"Liberation Serif", serif' fill="#000" textLength="41.16" lengthAdjust="spacingAndGlyphs">IG-110</text>
<text x="87.34" y="315.80" font-size="12.9" font-family='"Liberation Serif", serif' fill="#000" textLength="33.99" lengthAdjust="spacingAndGlyphs">grade</text>
<text x="125.33" y="315.80" font-size="12.9" font-family='"Liberation Serif", serif' fill="#000" textLength="76.69" lengthAdjust="spacingAndGlyphs">Temperature</text>
<text x="205.99" y="315.80" font-size="12.9" font-family='"Liberation Serif", serif' fill="#000" textLength="9.21" lengthAdjust="spacingAndGlyphs">=</text>
<text x="219.27" y="315.80" font-size="12.9" font-family='"Liberation Serif", serif' fill="#000" textLength="30.20" lengthAdjust="spacingAndGlyphs">1000</text>
<text x="253.15" y="315.80" font-size="12.9" font-family='"Liberation Serif", serif' fill="#000" textLength="8.88" lengthAdjust="spacingAndGlyphs">K</text>
<text x="403.29" y="315.80" font-size="12.9" font-family='"Liberation Serif", serif' fill="#000" textLength="41.16" lengthAdjust="spacingAndGlyphs">IG-110</text>
<text x="447.84" y="315.80" font-size="12.9" font-family='"Liberation Serif", serif' fill="#000" textLength="33.99" lengthAdjust="spacingAndGlyphs">grade</text>
<text x="485.83" y="315.80" font-size="12.9" font-family='"Liberation Serif", serif' fill="#000" textLength="76.69" lengthAdjust="spacingAndGlyphs">Temperature</text>
<text x="566.49" y="315.80" font-size="12.9" font-family='"Liberation Serif", serif' fill="#000" textLength="9.21" lengthAdjust="spacingAndGlyphs">=</text>
<text x="579.77" y="315.80" font-size="12.9" font-family='"Liberation Serif", serif' fill="#000" textLength="30.20" lengthAdjust="spacingAndGlyphs">1000</text>
<text x="613.65" y="315.80" font-size="12.9" font-family='"Liberation Serif", serif' fill="#000" textLength="8.88" lengthAdjust="spacingAndGlyphs">K</text>
<text x="86.45" y="270.00" font-size="10.0" font-family='"Liberation Serif", serif' fill="#000" textLength="38.88" lengthAdjust="spacingAndGlyphs">Fluence</text>
<text x="128.88" y="270.00" font-size="10.0" font-family='"Liberation Serif", serif' fill="#000" textLength="15.77" lengthAdjust="spacingAndGlyphs">(10</text>
<text x="145.43" y="266.90" font-size="8.0" font-family='"Liberation Serif", serif' fill="#000" textLength="8.53" lengthAdjust="spacingAndGlyphs">26</text>
<text x="157.52" y="270.00" font-size="10.0" font-family='"Liberation Serif", serif' fill="#000" textLength="50.88" lengthAdjust="spacingAndGlyphs">neutron/m</text>
<text x="208.59" y="266.60" font-size="7.8" font-family='"Liberation Serif", serif' fill="#000" textLength="4.61" lengthAdjust="spacingAndGlyphs">2</text>
<text x="214.31" y="270.00" font-size="10.0" font-family='"Liberation Serif", serif' fill="#000" textLength="2.98" lengthAdjust="spacingAndGlyphs">)</text>
<text x="446.45" y="270.00" font-size="10.0" font-family='"Liberation Serif", serif' fill="#000" textLength="38.88" lengthAdjust="spacingAndGlyphs">Fluence</text>
<text x="488.88" y="270.00" font-size="10.0" font-family='"Liberation Serif", serif' fill="#000" textLength="15.77" lengthAdjust="spacingAndGlyphs">(10</text>
<text x="505.43" y="266.90" font-size="8.0" font-family='"Liberation Serif", serif' fill="#000" textLength="8.53" lengthAdjust="spacingAndGlyphs">26</text>
<text x="517.52" y="270.00" font-size="10.0" font-family='"Liberation Serif", serif' fill="#000" textLength="50.88" lengthAdjust="spacingAndGlyphs">neutron/m</text>
<text x="568.59" y="266.60" font-size="7.8" font-family='"Liberation Serif", serif' fill="#000" textLength="4.61" lengthAdjust="spacingAndGlyphs">2</text>
<text x="574.31" y="270.00" font-size="10.0" font-family='"Liberation Serif", serif' fill="#000" textLength="2.98" lengthAdjust="spacingAndGlyphs">)</text>
<text x="86.45" y="576.90" font-size="10.0" font-family='"Liberation Serif", serif' fill="#000" textLength="38.88" lengthAdjust="spacingAndGlyphs">Fluence</text>
<text x="128.88" y="576.90" font-size="10.0" font-family='"Liberation Serif", serif' fill="#000" textLength="15.77" lengthAdjust="spacingAndGlyphs">(10</text>
<text x="145.43" y="573.80" font-size="8.0" font-family='"Liberation Serif", serif' fill="#000" textLength="8.53" lengthAdjust="spacingAndGlyphs">26</text>
<text x="157.52" y="576.90" font-size="10.0" font-family='"Liberation Serif", serif' fill="#000" textLength="50.88" lengthAdjust="spacingAndGlyphs">neutron/m</text>
<text x="208.59" y="573.50" font-size="7.8" font-family='"Liberation Serif", serif' fill="#000" textLength="4.61" lengthAdjust="spacingAndGlyphs">2</text>
<text x="214.31" y="576.90" font-size="10.0" font-family='"Liberation Serif", serif' fill="#000" textLength="2.98" lengthAdjust="spacingAndGlyphs">)</text>
<text x="446.45" y="576.90" font-size="10.0" font-family='"Liberation Serif", serif' fill="#000" textLength="38.88" lengthAdjust="spacingAndGlyphs">Fluence</text>
<text x="488.88" y="576.90" font-size="10.0" font-family='"Liberation Serif", serif' fill="#000" textLength="15.77" lengthAdjust="spacingAndGlyphs">(10</text>
<text x="505.43" y="573.80" font-size="8.0" font-family='"Liberation Serif", serif' fill="#000" textLength="8.53" lengthAdjust="spacingAndGlyphs">26</text>
<text x="517.52" y="576.90" font-size="10.0" font-family='"Liberation Serif", serif' fill="#000" textLength="50.88" lengthAdjust="spacingAndGlyphs">neutron/m</text>
<text x="568.59" y="573.50" font-size="7.8" font-family='"Liberation Serif", serif' fill="#000" textLength="4.61" lengthAdjust="spacingAndGlyphs">2</text>
<text x="574.31" y="576.90" font-size="10.0" font-family='"Liberation Serif", serif' fill="#000" textLength="2.98" lengthAdjust="spacingAndGlyphs">)</text>
<text x="8.00" y="141.21" font-size="10.4" font-family='"Liberation Serif", serif' fill="#000" textLength="23.44" lengthAdjust="spacingAndGlyphs" transform="rotate(-90 8.00 141.21)">IIDC</text>
<text x="368.00" y="141.21" font-size="10.4" font-family='"Liberation Serif", serif' fill="#000" textLength="23.44" lengthAdjust="spacingAndGlyphs" transform="rotate(-90 368.00 141.21)">IIDC</text>
<text x="8.00" y="447.91" font-size="10.4" font-family='"Liberation Serif", serif' fill="#000" textLength="23.44" lengthAdjust="spacingAndGlyphs" transform="rotate(-90 8.00 447.91)">IIDC</text>
<text x="368.00" y="447.91" font-size="10.4" font-family='"Liberation Serif", serif' fill="#000" textLength="23.44" lengthAdjust="spacingAndGlyphs" transform="rotate(-90 368.00 447.91)">IIDC</text>
<line x1="49.7" y1="24.4" x2="68.1" y2="24.4" stroke="#0000ff" stroke-width="1.6"/>
<line x1="49.7" y1="36.849999999999994" x2="68.1" y2="36.849999999999994" stroke="#ff0000" stroke-width="1.6"/>
<circle cx="59.0" cy="49.75" r="2.6" fill="#000"/>
<line x1="49.0" y1="61.5" x2="68.80000000000001" y2="61.5" stroke="#208f86" stroke-width="2.9"/>
<text x="74.40" y="27.30" font-size="9.2" font-family='"Liberation Serif", serif' fill="#000" textLength="66.51" lengthAdjust="spacingAndGlyphs">Bayesian model</text>
<text x="74.41" y="39.75" font-size="9.2" font-family='"Liberation Serif", serif' fill="#000" textLength="48.78" lengthAdjust="spacingAndGlyphs">KOH model</text>
<text x="74.39" y="52.15" font-size="9.2" font-family='"Liberation Serif", serif' fill="#000" textLength="78.05" lengthAdjust="spacingAndGlyphs">Experimental data</text>
<text x="74.27" y="64.25" font-size="9.2" font-family='"Liberation Serif", serif' fill="#000" textLength="86.20" lengthAdjust="spacingAndGlyphs">GP inadequacy term</text>
<line x1="409.6" y1="24.4" x2="428.0" y2="24.4" stroke="#0000ff" stroke-width="1.6"/>
<line x1="409.6" y1="36.849999999999994" x2="428.0" y2="36.849999999999994" stroke="#ff0000" stroke-width="1.6"/>
<circle cx="418.90000000000003" cy="49.75" r="2.6" fill="#000"/>
<line x1="408.90000000000003" y1="61.5" x2="428.70000000000005" y2="61.5" stroke="#208f86" stroke-width="2.9"/>
<text x="434.30" y="27.30" font-size="9.2" font-family='"Liberation Serif", serif' fill="#000" textLength="66.51" lengthAdjust="spacingAndGlyphs">Bayesian model</text>
<text x="434.31" y="39.75" font-size="9.2" font-family='"Liberation Serif", serif' fill="#000" textLength="48.78" lengthAdjust="spacingAndGlyphs">KOH model</text>
<text x="434.29" y="52.15" font-size="9.2" font-family='"Liberation Serif", serif' fill="#000" textLength="78.05" lengthAdjust="spacingAndGlyphs">Experimental data</text>
<text x="434.17" y="64.25" font-size="9.2" font-family='"Liberation Serif", serif' fill="#000" textLength="86.20" lengthAdjust="spacingAndGlyphs">GP inadequacy term</text>
<line x1="142.9" y1="331.05" x2="161.3" y2="331.05" stroke="#0000ff" stroke-width="1.6"/>
<line x1="142.9" y1="343.5" x2="161.3" y2="343.5" stroke="#ff0000" stroke-width="1.6"/>
<circle cx="152.20000000000002" cy="356.40000000000003" r="2.6" fill="#000"/>
<line x1="142.20000000000002" y1="368.15000000000003" x2="162.0" y2="368.15000000000003" stroke="#208f86" stroke-width="2.9"/>
<text x="167.60" y="334.40" font-size="9.2" font-family='"Liberation Serif", serif' fill="#000" textLength="66.51" lengthAdjust="spacingAndGlyphs">Bayesian model</text>
<text x="167.61" y="346.90" font-size="9.2" font-family='"Liberation Serif", serif' fill="#000" textLength="48.78" lengthAdjust="spacingAndGlyphs">KOH model</text>
<text x="167.59" y="359.05" font-size="9.2" font-family='"Liberation Serif", serif' fill="#000" textLength="78.05" lengthAdjust="spacingAndGlyphs">Experimental data</text>
<text x="167.47" y="371.45" font-size="9.2" font-family='"Liberation Serif", serif' fill="#000" textLength="86.20" lengthAdjust="spacingAndGlyphs">GP inadequacy term</text>
<line x1="503.4" y1="331.05" x2="521.8" y2="331.05" stroke="#0000ff" stroke-width="1.6"/>
<line x1="503.4" y1="343.5" x2="521.8" y2="343.5" stroke="#ff0000" stroke-width="1.6"/>
<circle cx="512.6999999999999" cy="356.40000000000003" r="2.6" fill="#000"/>
<line x1="502.7" y1="368.15000000000003" x2="522.5" y2="368.15000000000003" stroke="#208f86" stroke-width="2.9"/>
<text x="528.10" y="334.40" font-size="9.2" font-family='"Liberation Serif", serif' fill="#000" textLength="66.51" lengthAdjust="spacingAndGlyphs">Bayesian model</text>
<text x="528.11" y="346.90" font-size="9.2" font-family='"Liberation Serif", serif' fill="#000" textLength="48.78" lengthAdjust="spacingAndGlyphs">KOH model</text>
<text x="528.09" y="359.05" font-size="9.2" font-family='"Liberation Serif", serif' fill="#000" textLength="78.05" lengthAdjust="spacingAndGlyphs">Experimental data</text>
<text x="527.97" y="371.45" font-size="9.2" font-family='"Liberation Serif", serif' fill="#000" textLength="86.20" lengthAdjust="spacingAndGlyphs">GP inadequacy term</text>
<rect x="274.9" y="13.5" width="11.60" height="231.90" fill="url(#vir)" stroke="#000" stroke-width="0.9"/>
<line x1="286.5" y1="28.90" x2="289.5" y2="28.90" stroke="#000" stroke-width="0.8"/>
<text x="291.45" y="32.05" font-size="9.5" font-family='"Liberation Serif", serif' fill="#000" textLength="20.07" lengthAdjust="spacingAndGlyphs">−4.8</text>
<line x1="286.5" y1="58.43" x2="289.5" y2="58.43" stroke="#000" stroke-width="0.8"/>
<text x="291.45" y="61.58" font-size="9.5" font-family='"Liberation Serif", serif' fill="#000" textLength="20.07" lengthAdjust="spacingAndGlyphs">−5.0</text>
<line x1="286.5" y1="87.96" x2="289.5" y2="87.96" stroke="#000" stroke-width="0.8"/>
<text x="291.44" y="91.11" font-size="9.5" font-family='"Liberation Serif", serif' fill="#000" textLength="20.27" lengthAdjust="spacingAndGlyphs">−5.2</text>
<line x1="286.5" y1="117.49" x2="289.5" y2="117.49" stroke="#000" stroke-width="0.8"/>
<text x="291.46" y="120.64" font-size="9.5" font-family='"Liberation Serif", serif' fill="#000" textLength="19.81" lengthAdjust="spacingAndGlyphs">−5.4</text>
<line x1="286.5" y1="147.02" x2="289.5" y2="147.02" stroke="#000" stroke-width="0.8"/>
<text x="291.45" y="150.17" font-size="9.5" font-family='"Liberation Serif", serif' fill="#000" textLength="19.98" lengthAdjust="spacingAndGlyphs">−5.6</text>
<line x1="286.5" y1="176.55" x2="289.5" y2="176.55" stroke="#000" stroke-width="0.8"/>
<text x="291.45" y="179.70" font-size="9.5" font-family='"Liberation Serif", serif' fill="#000" textLength="20.07" lengthAdjust="spacingAndGlyphs">−5.8</text>
<line x1="286.5" y1="206.08" x2="289.5" y2="206.08" stroke="#000" stroke-width="0.8"/>
<text x="291.45" y="209.23" font-size="9.5" font-family='"Liberation Serif", serif' fill="#000" textLength="20.07" lengthAdjust="spacingAndGlyphs">−6.0</text>
<line x1="286.5" y1="235.61" x2="289.5" y2="235.61" stroke="#000" stroke-width="0.8"/>
<text x="291.44" y="238.76" font-size="9.5" font-family='"Liberation Serif", serif' fill="#000" textLength="20.27" lengthAdjust="spacingAndGlyphs">−6.2</text>
<text x="321.80" y="176.55" font-size="10.4" font-family='"Liberation Serif", serif' fill="#000" textLength="49.68" lengthAdjust="spacingAndGlyphs" transform="rotate(-90 321.80 176.55)">Predictive</text>
<text x="321.80" y="122.66" font-size="10.4" font-family='"Liberation Serif", serif' fill="#000" textLength="40.21" lengthAdjust="spacingAndGlyphs" transform="rotate(-90 321.80 122.66)">Entropy</text>
<rect x="634.9" y="13.5" width="11.60" height="231.90" fill="url(#vir)" stroke="#000" stroke-width="0.9"/>
<line x1="646.5" y1="30.10" x2="649.5" y2="30.10" stroke="#000" stroke-width="0.8"/>
<text x="651.44" y="33.25" font-size="9.5" font-family='"Liberation Serif", serif' fill="#000" textLength="20.27" lengthAdjust="spacingAndGlyphs">−4.2</text>
<line x1="646.5" y1="57.21" x2="649.5" y2="57.21" stroke="#000" stroke-width="0.8"/>
<text x="651.46" y="60.36" font-size="9.5" font-family='"Liberation Serif", serif' fill="#000" textLength="19.81" lengthAdjust="spacingAndGlyphs">−4.4</text>
<line x1="646.5" y1="84.32" x2="649.5" y2="84.32" stroke="#000" stroke-width="0.8"/>
<text x="651.45" y="87.47" font-size="9.5" font-family='"Liberation Serif", serif' fill="#000" textLength="19.98" lengthAdjust="spacingAndGlyphs">−4.6</text>
<line x1="646.5" y1="111.43" x2="649.5" y2="111.43" stroke="#000" stroke-width="0.8"/>
<text x="651.45" y="114.58" font-size="9.5" font-family='"Liberation Serif", serif' fill="#000" textLength="20.07" lengthAdjust="spacingAndGlyphs">−4.8</text>
<line x1="646.5" y1="138.54" x2="649.5" y2="138.54" stroke="#000" stroke-width="0.8"/>
<text x="651.45" y="141.69" font-size="9.5" font-family='"Liberation Serif", serif' fill="#000" textLength="20.07" lengthAdjust="spacingAndGlyphs">−5.0</text>
<line x1="646.5" y1="165.65" x2="649.5" y2="165.65" stroke="#000" stroke-width="0.8"/>
<text x="651.44" y="168.80" font-size="9.5" font-family='"Liberation Serif", serif' fill="#000" textLength="20.27" lengthAdjust="spacingAndGlyphs">−5.2</text>
<line x1="646.5" y1="192.76" x2="649.5" y2="192.76" stroke="#000" stroke-width="0.8"/>
<text x="651.46" y="195.91" font-size="9.5" font-family='"Liberation Serif", serif' fill="#000" textLength="19.81" lengthAdjust="spacingAndGlyphs">−5.4</text>
<line x1="646.5" y1="219.87" x2="649.5" y2="219.87" stroke="#000" stroke-width="0.8"/>
<text x="651.45" y="223.02" font-size="9.5" font-family='"Liberation Serif", serif' fill="#000" textLength="19.98" lengthAdjust="spacingAndGlyphs">−5.6</text>
<text x="681.80" y="176.55" font-size="10.4" font-family='"Liberation Serif", serif' fill="#000" textLength="49.68" lengthAdjust="spacingAndGlyphs" transform="rotate(-90 681.80 176.55)">Predictive</text>
<text x="681.80" y="122.66" font-size="10.4" font-family='"Liberation Serif", serif' fill="#000" textLength="40.21" lengthAdjust="spacingAndGlyphs" transform="rotate(-90 681.80 122.66)">Entropy</text>
<rect x="274.9" y="320.5" width="11.60" height="231.90" fill="url(#vir)" stroke="#000" stroke-width="0.9"/>
<line x1="286.5" y1="324.90" x2="289.5" y2="324.90" stroke="#000" stroke-width="0.8"/>
<text x="291.45" y="328.05" font-size="9.5" font-family='"Liberation Serif", serif' fill="#000" textLength="20.11" lengthAdjust="spacingAndGlyphs">−5.9</text>
<line x1="286.5" y1="353.90" x2="289.5" y2="353.90" stroke="#000" stroke-width="0.8"/>
<text x="291.45" y="357.05" font-size="9.5" font-family='"Liberation Serif", serif' fill="#000" textLength="20.07" lengthAdjust="spacingAndGlyphs">−6.0</text>
<line x1="286.5" y1="382.90" x2="289.5" y2="382.90" stroke="#000" stroke-width="0.8"/>
<text x="291.44" y="386.05" font-size="9.5" font-family='"Liberation Serif", serif' fill="#000" textLength="20.33" lengthAdjust="spacingAndGlyphs">−6.1</text>
<line x1="286.5" y1="411.90" x2="289.5" y2="411.90" stroke="#000" stroke-width="0.8"/>
<text x="291.44" y="415.05" font-size="9.5" font-family='"Liberation Serif", serif' fill="#000" textLength="20.27" lengthAdjust="spacingAndGlyphs">−6.2</text>
<line x1="286.5" y1="440.90" x2="289.5" y2="440.90" stroke="#000" stroke-width="0.8"/>
<text x="291.45" y="444.05" font-size="9.5" font-family='"Liberation Serif", serif' fill="#000" textLength="20.08" lengthAdjust="spacingAndGlyphs">−6.3</text>
<line x1="286.5" y1="469.90" x2="289.5" y2="469.90" stroke="#000" stroke-width="0.8"/>
<text x="291.46" y="473.05" font-size="9.5" font-family='"Liberation Serif", serif' fill="#000" textLength="19.81" lengthAdjust="spacingAndGlyphs">−6.4</text>
<line x1="286.5" y1="498.90" x2="289.5" y2="498.90" stroke="#000" stroke-width="0.8"/>
<text x="291.45" y="502.05" font-size="9.5" font-family='"Liberation Serif", serif' fill="#000" textLength="20.08" lengthAdjust="spacingAndGlyphs">−6.5</text>
<line x1="286.5" y1="527.90" x2="289.5" y2="527.90" stroke="#000" stroke-width="0.8"/>
<text x="291.45" y="531.05" font-size="9.5" font-family='"Liberation Serif", serif' fill="#000" textLength="19.98" lengthAdjust="spacingAndGlyphs">−6.6</text>
<text x="321.80" y="483.55" font-size="10.4" font-family='"Liberation Serif", serif' fill="#000" textLength="49.68" lengthAdjust="spacingAndGlyphs" transform="rotate(-90 321.80 483.55)">Predictive</text>
<text x="321.80" y="429.66" font-size="10.4" font-family='"Liberation Serif", serif' fill="#000" textLength="40.21" lengthAdjust="spacingAndGlyphs" transform="rotate(-90 321.80 429.66)">Entropy</text>
<rect x="635.4" y="320.5" width="11.60" height="231.90" fill="url(#vir)" stroke="#000" stroke-width="0.9"/>
<line x1="647.0" y1="344.00" x2="650.0" y2="344.00" stroke="#000" stroke-width="0.8"/>
<text x="651.95" y="347.15" font-size="9.5" font-family='"Liberation Serif", serif' fill="#000" textLength="19.98" lengthAdjust="spacingAndGlyphs">−4.6</text>
<line x1="647.0" y1="379.55" x2="650.0" y2="379.55" stroke="#000" stroke-width="0.8"/>
<text x="651.95" y="382.70" font-size="9.5" font-family='"Liberation Serif", serif' fill="#000" textLength="20.07" lengthAdjust="spacingAndGlyphs">−4.8</text>
<line x1="647.0" y1="415.10" x2="650.0" y2="415.10" stroke="#000" stroke-width="0.8"/>
<text x="651.95" y="418.25" font-size="9.5" font-family='"Liberation Serif", serif' fill="#000" textLength="20.07" lengthAdjust="spacingAndGlyphs">−5.0</text>
<line x1="647.0" y1="450.65" x2="650.0" y2="450.65" stroke="#000" stroke-width="0.8"/>
<text x="651.94" y="453.80" font-size="9.5" font-family='"Liberation Serif", serif' fill="#000" textLength="20.27" lengthAdjust="spacingAndGlyphs">−5.2</text>
<line x1="647.0" y1="486.20" x2="650.0" y2="486.20" stroke="#000" stroke-width="0.8"/>
<text x="651.96" y="489.35" font-size="9.5" font-family='"Liberation Serif", serif' fill="#000" textLength="19.81" lengthAdjust="spacingAndGlyphs">−5.4</text>
<line x1="647.0" y1="521.75" x2="650.0" y2="521.75" stroke="#000" stroke-width="0.8"/>
<text x="651.95" y="524.90" font-size="9.5" font-family='"Liberation Serif", serif' fill="#000" textLength="19.98" lengthAdjust="spacingAndGlyphs">−5.6</text>
<text x="682.30" y="483.55" font-size="10.4" font-family='"Liberation Serif", serif' fill="#000" textLength="49.68" lengthAdjust="spacingAndGlyphs" transform="rotate(-90 682.30 483.55)">Predictive</text>
<text x="682.30" y="429.66" font-size="10.4" font-family='"Liberation Serif", serif' fill="#000" textLength="40.21" lengthAdjust="spacingAndGlyphs" transform="rotate(-90 682.30 429.66)">Entropy</text>
<text x="151.84" y="292.60" font-size="16.6" font-family='"Liberation Sans", sans-serif' fill="#000" textLength="20.81" lengthAdjust="spacingAndGlyphs">(a)</text>
<text x="511.09" y="292.60" font-size="16.6" font-family='"Liberation Sans", sans-serif' fill="#000" textLength="21.81" lengthAdjust="spacingAndGlyphs">(b)</text>
<text x="151.79" y="599.40" font-size="16.6" font-family='"Liberation Sans", sans-serif' fill="#000" textLength="20.93" lengthAdjust="spacingAndGlyphs">(c)</text>
<text x="511.09" y="599.40" font-size="16.6" font-family='"Liberation Sans", sans-serif' fill="#000" textLength="21.81" lengthAdjust="spacingAndGlyphs">(d)</text>
</svg>
</body></html>
